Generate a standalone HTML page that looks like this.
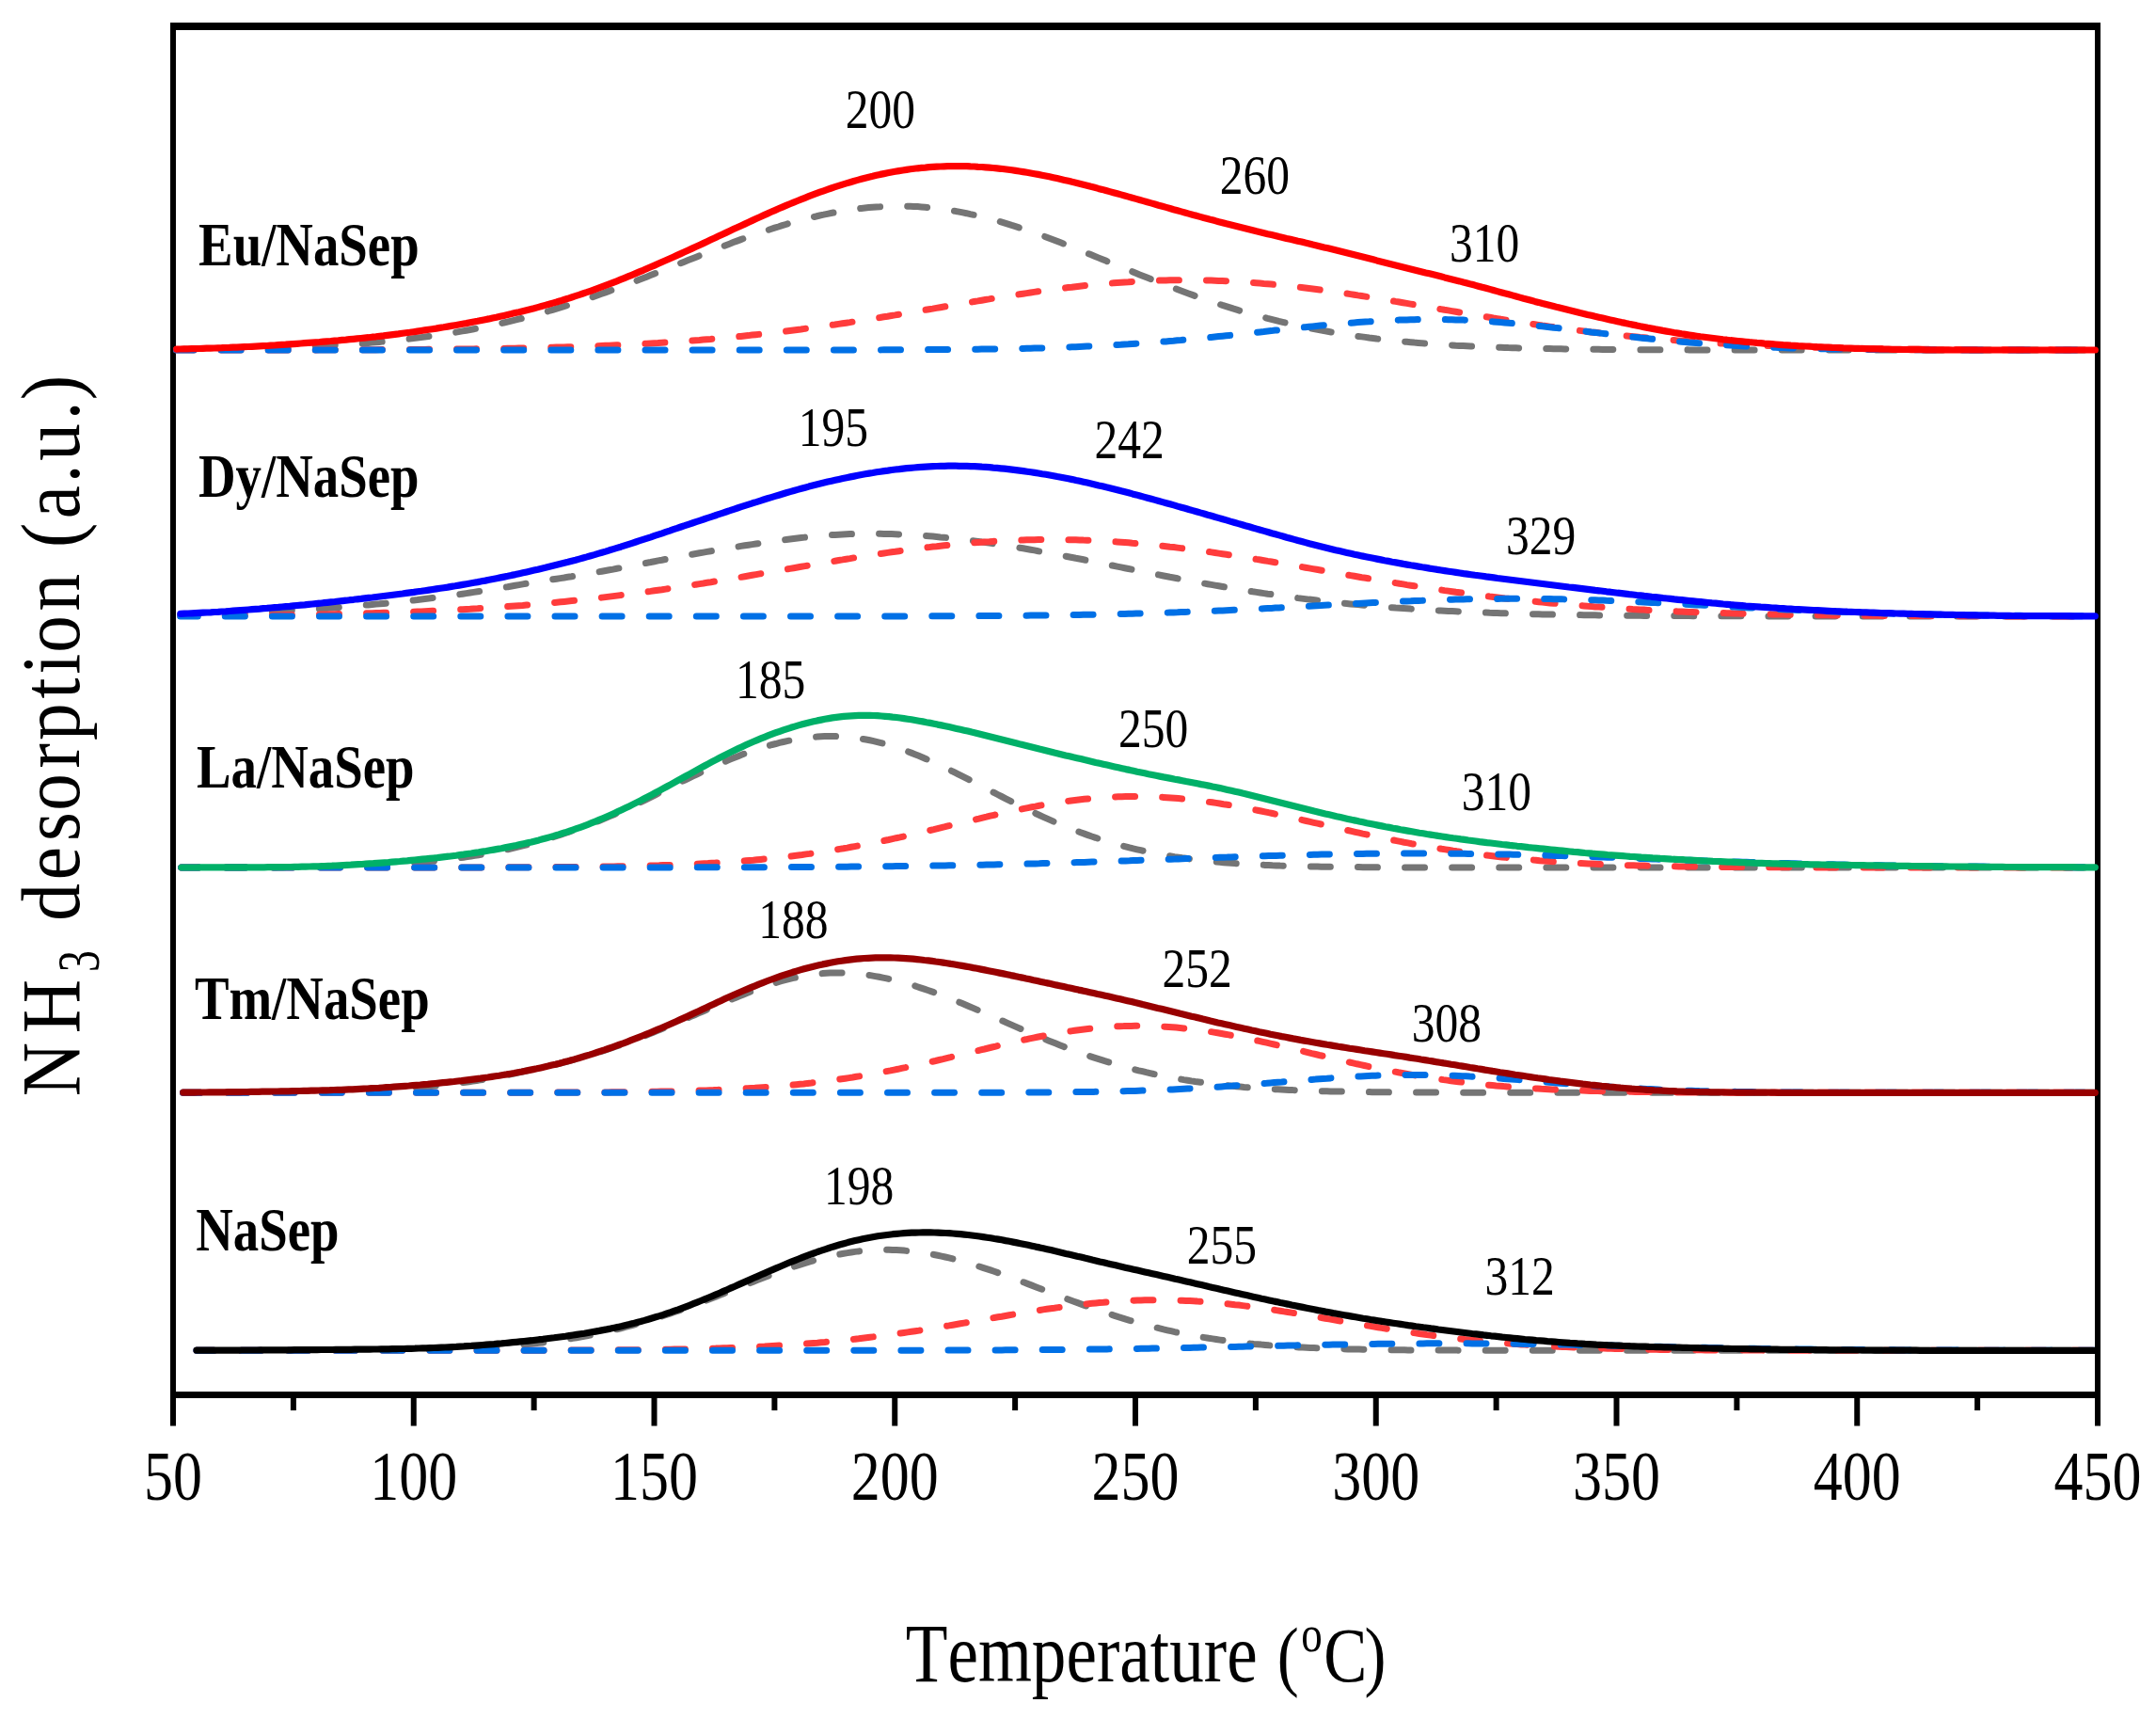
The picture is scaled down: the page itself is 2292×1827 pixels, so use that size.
<!DOCTYPE html>
<html><head><meta charset="utf-8"><title>NH3-TPD</title>
<style>html,body{margin:0;padding:0;background:#fff}svg{display:block}</style></head>
<body>
<svg width="2292" height="1827" viewBox="0 0 2292 1827">
<rect width="2292" height="1827" fill="#fff"/>
<g fill="#000">
<rect x="181" y="24" width="2052" height="8"/>
<rect x="181" y="1479" width="2052" height="7"/>
<rect x="181" y="24" width="6" height="1491.5"/>
<rect x="2227" y="24" width="6" height="1491.5"/>
<rect x="308.88" y="1482" width="6" height="17"/>
<rect x="436.75" y="1482" width="6" height="33.5"/>
<rect x="564.62" y="1482" width="6" height="17"/>
<rect x="692.50" y="1482" width="6" height="33.5"/>
<rect x="820.38" y="1482" width="6" height="17"/>
<rect x="948.25" y="1482" width="6" height="33.5"/>
<rect x="1076.12" y="1482" width="6" height="17"/>
<rect x="1204.00" y="1482" width="6" height="33.5"/>
<rect x="1331.88" y="1482" width="6" height="17"/>
<rect x="1459.75" y="1482" width="6" height="33.5"/>
<rect x="1587.62" y="1482" width="6" height="17"/>
<rect x="1715.50" y="1482" width="6" height="33.5"/>
<rect x="1843.38" y="1482" width="6" height="17"/>
<rect x="1971.25" y="1482" width="6" height="33.5"/>
<rect x="2099.12" y="1482" width="6" height="17"/>
</g>
<path d="M187.5 371.4 L191.5 371.4 L195.5 371.3 L199.5 371.3 L203.5 371.3 L207.5 371.2 L211.5 371.2 L215.5 371.1 L219.5 371.1 L223.5 371.0 L227.5 371.0 L231.5 370.9 L235.5 370.9 L239.5 370.8 L243.5 370.7 L247.5 370.7 L251.5 370.6 L255.5 370.5 L259.5 370.4 L263.5 370.3 L267.5 370.2 L271.5 370.2 L275.5 370.1 L279.5 370.0 L283.5 369.8 L287.5 369.7 L291.5 369.6 L295.5 369.5 L299.5 369.4 L303.5 369.2 L307.5 369.1 L311.5 368.9 L315.5 368.8 L319.5 368.6 L323.5 368.5 L327.5 368.3 L331.5 368.1 L335.5 367.9 L339.5 367.7 L343.5 367.5 L347.5 367.3 L351.5 367.1 L355.5 366.9 L359.5 366.6 L363.5 366.4 L367.5 366.1 L371.5 365.9 L375.5 365.6 L379.5 365.3 L383.5 365.0 L387.5 364.7 L391.5 364.4 L395.5 364.1 L399.5 363.7 L403.5 363.4 L407.5 363.0 L411.5 362.6 L415.5 362.2 L419.5 361.8 L423.5 361.4 L427.5 361.0 L431.5 360.5 L435.5 360.1 L439.5 359.6 L443.5 359.1 L447.5 358.6 L451.5 358.1 L455.5 357.5 L459.5 357.0 L463.5 356.4 L467.5 355.8 L471.5 355.2 L475.5 354.6 L479.5 353.9 L483.5 353.3 L487.5 352.6 L491.5 351.9 L495.5 351.2 L499.5 350.5 L503.5 349.7 L507.5 349.0 L511.5 348.2 L515.5 347.4 L519.5 346.5 L523.5 345.7 L527.5 344.8 L531.5 343.9 L535.5 343.0 L539.5 342.1 L543.5 341.1 L547.5 340.2 L551.5 339.2 L555.5 338.2 L559.5 337.1 L563.5 336.1 L567.5 335.0 L571.5 333.9 L575.5 332.8 L579.5 331.6 L583.5 330.5 L587.5 329.3 L591.5 328.1 L595.5 326.9 L599.5 325.7 L603.5 324.4 L607.5 323.1 L611.5 321.8 L615.5 320.5 L619.5 319.2 L623.5 317.8 L627.5 316.5 L631.5 315.1 L635.5 313.7 L639.5 312.3 L643.5 310.9 L647.5 309.4 L651.5 307.9 L655.5 306.5 L659.5 305.0 L663.5 303.5 L667.5 302.0 L671.5 300.4 L675.5 298.9 L679.5 297.3 L683.5 295.8 L687.5 294.2 L691.5 292.6 L695.5 291.0 L699.5 289.4 L703.5 287.9 L707.5 286.2 L711.5 284.6 L715.5 283.0 L719.5 281.4 L723.5 279.8 L727.5 278.2 L731.5 276.6 L735.5 275.0 L739.5 273.4 L743.5 271.8 L747.5 270.2 L751.5 268.6 L755.5 267.0 L759.5 265.4 L763.5 263.8 L767.5 262.3 L771.5 260.7 L775.5 259.2 L779.5 257.6 L783.5 256.1 L787.5 254.6 L791.5 253.2 L795.5 251.7 L799.5 250.3 L803.5 248.9 L807.5 247.5 L811.5 246.2 L815.5 244.8 L819.5 243.5 L823.5 242.2 L827.5 241.0 L831.5 239.7 L835.5 238.5 L839.5 237.3 L843.5 236.2 L847.5 235.1 L851.5 234.0 L855.5 232.9 L859.5 231.9 L863.5 230.9 L867.5 230.0 L871.5 229.0 L875.5 228.2 L879.5 227.3 L883.5 226.5 L887.5 225.7 L891.5 225.0 L895.5 224.3 L899.5 223.6 L903.5 223.0 L907.5 222.5 L911.5 221.9 L915.5 221.4 L919.5 221.0 L923.5 220.6 L927.5 220.2 L931.5 219.9 L935.5 219.7 L939.5 219.4 L943.5 219.3 L947.5 219.1 L951.5 219.0 L955.5 219.0 L959.5 219.0 L963.5 219.1 L967.5 219.2 L971.5 219.4 L975.5 219.6 L979.5 219.9 L983.5 220.2 L987.5 220.6 L991.5 221.0 L995.5 221.4 L999.5 222.0 L1003.5 222.5 L1007.5 223.1 L1011.5 223.7 L1015.5 224.4 L1019.5 225.1 L1023.5 225.9 L1027.5 226.7 L1031.5 227.6 L1035.5 228.4 L1039.5 229.4 L1043.5 230.3 L1047.5 231.3 L1051.5 232.4 L1055.5 233.5 L1059.5 234.6 L1063.5 235.7 L1067.5 236.9 L1071.5 238.1 L1075.5 239.4 L1079.5 240.6 L1083.5 241.9 L1087.5 243.3 L1091.5 244.6 L1095.5 246.0 L1099.5 247.4 L1103.5 248.8 L1107.5 250.3 L1111.5 251.7 L1115.5 253.2 L1119.5 254.7 L1123.5 256.3 L1127.5 257.8 L1131.5 259.4 L1135.5 260.9 L1139.5 262.5 L1143.5 264.1 L1147.5 265.7 L1151.5 267.3 L1155.5 269.0 L1159.5 270.6 L1163.5 272.2 L1167.5 273.9 L1171.5 275.5 L1175.5 277.1 L1179.5 278.8 L1183.5 280.4 L1187.5 282.1 L1191.5 283.7 L1195.5 285.4 L1199.5 287.0 L1203.5 288.6 L1207.5 290.3 L1211.5 291.9 L1215.5 293.5 L1219.5 295.1 L1223.5 296.7 L1227.5 298.3 L1231.5 299.9 L1235.5 301.4 L1239.5 303.0 L1243.5 304.5 L1247.5 306.0 L1251.5 307.5 L1255.5 309.0 L1259.5 310.5 L1263.5 312.0 L1267.5 313.4 L1271.5 314.9 L1275.5 316.3 L1279.5 317.7 L1283.5 319.0 L1287.5 320.4 L1291.5 321.7 L1295.5 323.1 L1299.5 324.4 L1303.5 325.6 L1307.5 326.9 L1311.5 328.2 L1315.5 329.4 L1319.5 330.6 L1323.5 331.7 L1327.5 332.9 L1331.5 334.0 L1335.5 335.2 L1339.5 336.2 L1343.5 337.3 L1347.5 338.4 L1351.5 339.4 L1355.5 340.4 L1359.5 341.4 L1363.5 342.3 L1367.5 343.3 L1371.5 344.2 L1375.5 345.1 L1379.5 346.0 L1383.5 346.8 L1387.5 347.7 L1391.5 348.5 L1395.5 349.3 L1399.5 350.1 L1403.5 350.8 L1407.5 351.6 L1411.5 352.3 L1415.5 353.0 L1419.5 353.7 L1423.5 354.3 L1427.5 355.0 L1431.5 355.6 L1435.5 356.2 L1439.5 356.8 L1443.5 357.4 L1447.5 357.9 L1451.5 358.4 L1455.5 359.0 L1459.5 359.5 L1463.5 360.0 L1467.5 360.4 L1471.5 360.9 L1475.5 361.3 L1479.5 361.8 L1483.5 362.2 L1487.5 362.6 L1491.5 363.0 L1495.5 363.3 L1499.5 363.7 L1503.5 364.1 L1507.5 364.4 L1511.5 364.7 L1515.5 365.0 L1519.5 365.3 L1523.5 365.6 L1527.5 365.9 L1531.5 366.2 L1535.5 366.4 L1539.5 366.7 L1543.5 366.9 L1547.5 367.2 L1551.5 367.4 L1555.5 367.6 L1559.5 367.8 L1563.5 368.0 L1567.5 368.2 L1571.5 368.4 L1575.5 368.5 L1579.5 368.7 L1583.5 368.9 L1587.5 369.0 L1591.5 369.2 L1595.5 369.3 L1599.5 369.4 L1603.5 369.6 L1607.5 369.7 L1611.5 369.8 L1615.5 369.9 L1619.5 370.0 L1623.5 370.1 L1627.5 370.2 L1631.5 370.3 L1635.5 370.4 L1639.5 370.5 L1643.5 370.6 L1647.5 370.6 L1651.5 370.7 L1655.5 370.8 L1659.5 370.8 L1663.5 370.9 L1667.5 371.0 L1671.5 371.0 L1675.5 371.1 L1679.5 371.1 L1683.5 371.2 L1687.5 371.2 L1691.5 371.3 L1695.5 371.3 L1699.5 371.3 L1703.5 371.4 L1707.5 371.4 L1711.5 371.4 L1715.5 371.5 L1719.5 371.5 L1723.5 371.5 L1727.5 371.6 L1731.5 371.6 L1735.5 371.6 L1739.5 371.6 L1743.5 371.7 L1747.5 371.7 L1751.5 371.7 L1755.5 371.7 L1759.5 371.7 L1763.5 371.8 L1767.5 371.8 L1771.5 371.8 L1775.5 371.8 L1779.5 371.8 L1783.5 371.8 L1787.5 371.8 L1791.5 371.8 L1795.5 371.9 L1799.5 371.9 L1803.5 371.9 L1807.5 371.9 L1811.5 371.9 L1815.5 371.9 L1819.5 371.9 L1823.5 371.9 L1827.5 371.9 L1831.5 371.9 L1835.5 371.9 L1839.5 371.9 L1843.5 371.9 L1847.5 371.9 L1851.5 371.9 L1855.5 371.9 L1859.5 372.0 L1863.5 372.0 L1867.5 372.0 L1871.5 372.0 L1875.5 372.0 L1879.5 372.0 L1883.5 372.0 L1887.5 372.0 L1891.5 372.0 L1895.5 372.0 L1899.5 372.0 L1903.5 372.0 L1907.5 372.0 L1911.5 372.0 L1915.5 372.0 L1919.5 372.0 L1923.5 372.0 L1927.5 372.0 L1931.5 372.0 L1935.5 372.0 L1939.5 372.0 L1943.5 372.0 L1947.5 372.0 L1951.5 372.0 L1955.5 372.0 L1959.5 372.0 L1963.5 372.0 L1967.5 372.0 L1971.5 372.0 L1975.5 372.0 L1979.5 372.0 L1983.5 372.0 L1987.5 372.0 L1991.5 372.0 L1995.5 372.0 L1999.5 372.0 L2003.5 372.0 L2007.5 372.0 L2011.5 372.0 L2015.5 372.0 L2019.5 372.0 L2023.5 372.0 L2027.5 372.0 L2031.5 372.0 L2035.5 372.0 L2039.5 372.0 L2043.5 372.0 L2047.5 372.0 L2051.5 372.0 L2055.5 372.0 L2059.5 372.0 L2063.5 372.0 L2067.5 372.0 L2071.5 372.0 L2075.5 372.0 L2079.5 372.0 L2083.5 372.0 L2087.5 372.0 L2091.5 372.0 L2095.5 372.0 L2099.5 372.0 L2103.5 372.0 L2107.5 372.0 L2111.5 372.0 L2115.5 372.0 L2119.5 372.0 L2123.5 372.0 L2127.5 372.0 L2131.5 372.0 L2135.5 372.0 L2139.5 372.0 L2143.5 372.0 L2147.5 372.0 L2151.5 372.0 L2155.5 372.0 L2159.5 372.0 L2163.5 372.0 L2167.5 372.0 L2171.5 372.0 L2175.5 372.0 L2179.5 372.0 L2183.5 372.0 L2187.5 372.0 L2191.5 372.0 L2195.5 372.0 L2199.5 372.0 L2203.5 372.0 L2207.5 372.0 L2211.5 372.0 L2215.5 372.0 L2219.5 372.0 L2223.5 372.0 L2226.0 372.0" fill="none" stroke="#757575" stroke-width="7.0" stroke-dasharray="21 29.1" stroke-dashoffset="2.5" stroke-linecap="round"/>
<path d="M187.5 372.0 L191.5 372.0 L195.5 372.0 L199.5 372.0 L203.5 372.0 L207.5 372.0 L211.5 372.0 L215.5 372.0 L219.5 372.0 L223.5 372.0 L227.5 372.0 L231.5 372.0 L235.5 372.0 L239.5 372.0 L243.5 372.0 L247.5 372.0 L251.5 372.0 L255.5 372.0 L259.5 371.9 L263.5 371.9 L267.5 371.9 L271.5 371.9 L275.5 371.9 L279.5 371.9 L283.5 371.9 L287.5 371.9 L291.5 371.9 L295.5 371.9 L299.5 371.9 L303.5 371.9 L307.5 371.9 L311.5 371.9 L315.5 371.9 L319.5 371.9 L323.5 371.9 L327.5 371.9 L331.5 371.9 L335.5 371.9 L339.5 371.8 L343.5 371.8 L347.5 371.8 L351.5 371.8 L355.5 371.8 L359.5 371.8 L363.5 371.8 L367.5 371.8 L371.5 371.8 L375.5 371.8 L379.5 371.7 L383.5 371.7 L387.5 371.7 L391.5 371.7 L395.5 371.7 L399.5 371.7 L403.5 371.6 L407.5 371.6 L411.5 371.6 L415.5 371.6 L419.5 371.6 L423.5 371.5 L427.5 371.5 L431.5 371.5 L435.5 371.5 L439.5 371.4 L443.5 371.4 L447.5 371.4 L451.5 371.4 L455.5 371.3 L459.5 371.3 L463.5 371.3 L467.5 371.2 L471.5 371.2 L475.5 371.2 L479.5 371.1 L483.5 371.1 L487.5 371.0 L491.5 371.0 L495.5 370.9 L499.5 370.9 L503.5 370.9 L507.5 370.8 L511.5 370.7 L515.5 370.7 L519.5 370.6 L523.5 370.6 L527.5 370.5 L531.5 370.4 L535.5 370.4 L539.5 370.3 L543.5 370.2 L547.5 370.2 L551.5 370.1 L555.5 370.0 L559.5 369.9 L563.5 369.8 L567.5 369.7 L571.5 369.6 L575.5 369.6 L579.5 369.5 L583.5 369.3 L587.5 369.2 L591.5 369.1 L595.5 369.0 L599.5 368.9 L603.5 368.8 L607.5 368.7 L611.5 368.5 L615.5 368.4 L619.5 368.3 L623.5 368.1 L627.5 368.0 L631.5 367.8 L635.5 367.7 L639.5 367.5 L643.5 367.3 L647.5 367.2 L651.5 367.0 L655.5 366.8 L659.5 366.6 L663.5 366.4 L667.5 366.2 L671.5 366.0 L675.5 365.8 L679.5 365.6 L683.5 365.4 L687.5 365.2 L691.5 364.9 L695.5 364.7 L699.5 364.5 L703.5 364.2 L707.5 364.0 L711.5 363.7 L715.5 363.4 L719.5 363.2 L723.5 362.9 L727.5 362.6 L731.5 362.3 L735.5 362.0 L739.5 361.7 L743.5 361.4 L747.5 361.0 L751.5 360.7 L755.5 360.4 L759.5 360.0 L763.5 359.7 L767.5 359.3 L771.5 358.9 L775.5 358.6 L779.5 358.2 L783.5 357.8 L787.5 357.4 L791.5 357.0 L795.5 356.6 L799.5 356.1 L803.5 355.7 L807.5 355.3 L811.5 354.8 L815.5 354.4 L819.5 353.9 L823.5 353.5 L827.5 353.0 L831.5 352.5 L835.5 352.0 L839.5 351.5 L843.5 351.0 L847.5 350.5 L851.5 350.0 L855.5 349.4 L859.5 348.9 L863.5 348.4 L867.5 347.8 L871.5 347.3 L875.5 346.7 L879.5 346.1 L883.5 345.5 L887.5 345.0 L891.5 344.4 L895.5 343.8 L899.5 343.2 L903.5 342.6 L907.5 341.9 L911.5 341.3 L915.5 340.7 L919.5 340.1 L923.5 339.4 L927.5 338.8 L931.5 338.1 L935.5 337.5 L939.5 336.8 L943.5 336.2 L947.5 335.5 L951.5 334.9 L955.5 334.2 L959.5 333.5 L963.5 332.8 L967.5 332.2 L971.5 331.5 L975.5 330.8 L979.5 330.1 L983.5 329.4 L987.5 328.7 L991.5 328.1 L995.5 327.4 L999.5 326.7 L1003.5 326.0 L1007.5 325.3 L1011.5 324.6 L1015.5 323.9 L1019.5 323.2 L1023.5 322.6 L1027.5 321.9 L1031.5 321.2 L1035.5 320.5 L1039.5 319.9 L1043.5 319.2 L1047.5 318.5 L1051.5 317.9 L1055.5 317.2 L1059.5 316.6 L1063.5 315.9 L1067.5 315.3 L1071.5 314.6 L1075.5 314.0 L1079.5 313.4 L1083.5 312.8 L1087.5 312.2 L1091.5 311.6 L1095.5 311.0 L1099.5 310.4 L1103.5 309.8 L1107.5 309.3 L1111.5 308.7 L1115.5 308.2 L1119.5 307.7 L1123.5 307.1 L1127.5 306.6 L1131.5 306.1 L1135.5 305.6 L1139.5 305.2 L1143.5 304.7 L1147.5 304.2 L1151.5 303.8 L1155.5 303.4 L1159.5 303.0 L1163.5 302.6 L1167.5 302.2 L1171.5 301.8 L1175.5 301.5 L1179.5 301.1 L1183.5 300.8 L1187.5 300.5 L1191.5 300.2 L1195.5 299.9 L1199.5 299.7 L1203.5 299.4 L1207.5 299.2 L1211.5 299.0 L1215.5 298.8 L1219.5 298.6 L1223.5 298.4 L1227.5 298.3 L1231.5 298.1 L1235.5 298.0 L1239.5 297.9 L1243.5 297.8 L1247.5 297.8 L1251.5 297.7 L1255.5 297.7 L1259.5 297.7 L1263.5 297.7 L1267.5 297.7 L1271.5 297.8 L1275.5 297.8 L1279.5 297.9 L1283.5 298.0 L1287.5 298.1 L1291.5 298.2 L1295.5 298.4 L1299.5 298.5 L1303.5 298.7 L1307.5 298.9 L1311.5 299.1 L1315.5 299.3 L1319.5 299.6 L1323.5 299.9 L1327.5 300.1 L1331.5 300.4 L1335.5 300.7 L1339.5 301.0 L1343.5 301.4 L1347.5 301.7 L1351.5 302.1 L1355.5 302.5 L1359.5 302.9 L1363.5 303.3 L1367.5 303.7 L1371.5 304.1 L1375.5 304.6 L1379.5 305.0 L1383.5 305.5 L1387.5 306.0 L1391.5 306.5 L1395.5 307.0 L1399.5 307.5 L1403.5 308.0 L1407.5 308.6 L1411.5 309.1 L1415.5 309.7 L1419.5 310.3 L1423.5 310.8 L1427.5 311.4 L1431.5 312.0 L1435.5 312.6 L1439.5 313.2 L1443.5 313.9 L1447.5 314.5 L1451.5 315.1 L1455.5 315.8 L1459.5 316.4 L1463.5 317.0 L1467.5 317.7 L1471.5 318.4 L1475.5 319.0 L1479.5 319.7 L1483.5 320.4 L1487.5 321.0 L1491.5 321.7 L1495.5 322.4 L1499.5 323.1 L1503.5 323.8 L1507.5 324.4 L1511.5 325.1 L1515.5 325.8 L1519.5 326.5 L1523.5 327.2 L1527.5 327.9 L1531.5 328.6 L1535.5 329.3 L1539.5 329.9 L1543.5 330.6 L1547.5 331.3 L1551.5 332.0 L1555.5 332.7 L1559.5 333.3 L1563.5 334.0 L1567.5 334.7 L1571.5 335.4 L1575.5 336.0 L1579.5 336.7 L1583.5 337.3 L1587.5 338.0 L1591.5 338.6 L1595.5 339.3 L1599.5 339.9 L1603.5 340.5 L1607.5 341.2 L1611.5 341.8 L1615.5 342.4 L1619.5 343.0 L1623.5 343.6 L1627.5 344.2 L1631.5 344.8 L1635.5 345.4 L1639.5 346.0 L1643.5 346.5 L1647.5 347.1 L1651.5 347.7 L1655.5 348.2 L1659.5 348.8 L1663.5 349.3 L1667.5 349.8 L1671.5 350.4 L1675.5 350.9 L1679.5 351.4 L1683.5 351.9 L1687.5 352.4 L1691.5 352.9 L1695.5 353.3 L1699.5 353.8 L1703.5 354.3 L1707.5 354.7 L1711.5 355.2 L1715.5 355.6 L1719.5 356.0 L1723.5 356.5 L1727.5 356.9 L1731.5 357.3 L1735.5 357.7 L1739.5 358.1 L1743.5 358.5 L1747.5 358.8 L1751.5 359.2 L1755.5 359.6 L1759.5 359.9 L1763.5 360.3 L1767.5 360.6 L1771.5 361.0 L1775.5 361.3 L1779.5 361.6 L1783.5 361.9 L1787.5 362.2 L1791.5 362.5 L1795.5 362.8 L1799.5 363.1 L1803.5 363.4 L1807.5 363.6 L1811.5 363.9 L1815.5 364.2 L1819.5 364.4 L1823.5 364.6 L1827.5 364.9 L1831.5 365.1 L1835.5 365.3 L1839.5 365.6 L1843.5 365.8 L1847.5 366.0 L1851.5 366.2 L1855.5 366.4 L1859.5 366.6 L1863.5 366.8 L1867.5 366.9 L1871.5 367.1 L1875.5 367.3 L1879.5 367.5 L1883.5 367.6 L1887.5 367.8 L1891.5 367.9 L1895.5 368.1 L1899.5 368.2 L1903.5 368.4 L1907.5 368.5 L1911.5 368.6 L1915.5 368.8 L1919.5 368.9 L1923.5 369.0 L1927.5 369.1 L1931.5 369.2 L1935.5 369.3 L1939.5 369.4 L1943.5 369.5 L1947.5 369.6 L1951.5 369.7 L1955.5 369.8 L1959.5 369.9 L1963.5 370.0 L1967.5 370.1 L1971.5 370.1 L1975.5 370.2 L1979.5 370.3 L1983.5 370.4 L1987.5 370.4 L1991.5 370.5 L1995.5 370.6 L1999.5 370.6 L2003.5 370.7 L2007.5 370.7 L2011.5 370.8 L2015.5 370.8 L2019.5 370.9 L2023.5 370.9 L2027.5 371.0 L2031.5 371.0 L2035.5 371.1 L2039.5 371.1 L2043.5 371.2 L2047.5 371.2 L2051.5 371.2 L2055.5 371.3 L2059.5 371.3 L2063.5 371.3 L2067.5 371.4 L2071.5 371.4 L2075.5 371.4 L2079.5 371.4 L2083.5 371.5 L2087.5 371.5 L2091.5 371.5 L2095.5 371.5 L2099.5 371.6 L2103.5 371.6 L2107.5 371.6 L2111.5 371.6 L2115.5 371.6 L2119.5 371.7 L2123.5 371.7 L2127.5 371.7 L2131.5 371.7 L2135.5 371.7 L2139.5 371.7 L2143.5 371.7 L2147.5 371.8 L2151.5 371.8 L2155.5 371.8 L2159.5 371.8 L2163.5 371.8 L2167.5 371.8 L2171.5 371.8 L2175.5 371.8 L2179.5 371.8 L2183.5 371.9 L2187.5 371.9 L2191.5 371.9 L2195.5 371.9 L2199.5 371.9 L2203.5 371.9 L2207.5 371.9 L2211.5 371.9 L2215.5 371.9 L2219.5 371.9 L2223.5 371.9 L2226.0 371.9" fill="none" stroke="#ff3c3c" stroke-width="7.0" stroke-dasharray="21 29.1" stroke-dashoffset="2.5" stroke-linecap="round"/>
<path d="M187.5 372.0 L191.5 372.0 L195.5 372.0 L199.5 372.0 L203.5 372.0 L207.5 372.0 L211.5 372.0 L215.5 372.0 L219.5 372.0 L223.5 372.0 L227.5 372.0 L231.5 372.0 L235.5 372.0 L239.5 372.0 L243.5 372.0 L247.5 372.0 L251.5 372.0 L255.5 372.0 L259.5 372.0 L263.5 372.0 L267.5 372.0 L271.5 372.0 L275.5 372.0 L279.5 372.0 L283.5 372.0 L287.5 372.0 L291.5 372.0 L295.5 372.0 L299.5 372.0 L303.5 372.0 L307.5 372.0 L311.5 372.0 L315.5 372.0 L319.5 372.0 L323.5 372.0 L327.5 372.0 L331.5 372.0 L335.5 372.0 L339.5 372.0 L343.5 372.0 L347.5 372.0 L351.5 372.0 L355.5 372.0 L359.5 372.0 L363.5 372.0 L367.5 372.0 L371.5 372.0 L375.5 372.0 L379.5 372.0 L383.5 372.0 L387.5 372.0 L391.5 372.0 L395.5 372.0 L399.5 372.0 L403.5 372.0 L407.5 372.0 L411.5 372.0 L415.5 372.0 L419.5 372.0 L423.5 372.0 L427.5 372.0 L431.5 372.0 L435.5 372.0 L439.5 372.0 L443.5 372.0 L447.5 372.0 L451.5 372.0 L455.5 372.0 L459.5 372.0 L463.5 372.0 L467.5 372.0 L471.5 372.0 L475.5 372.0 L479.5 372.0 L483.5 372.0 L487.5 372.0 L491.5 372.0 L495.5 372.0 L499.5 372.0 L503.5 372.0 L507.5 372.0 L511.5 372.0 L515.5 372.0 L519.5 372.0 L523.5 372.0 L527.5 372.0 L531.5 372.0 L535.5 372.0 L539.5 372.0 L543.5 372.0 L547.5 372.0 L551.5 372.0 L555.5 372.0 L559.5 372.0 L563.5 372.0 L567.5 372.0 L571.5 372.0 L575.5 372.0 L579.5 372.0 L583.5 372.0 L587.5 372.0 L591.5 372.0 L595.5 372.0 L599.5 372.0 L603.5 372.0 L607.5 372.0 L611.5 372.0 L615.5 372.0 L619.5 372.0 L623.5 372.0 L627.5 372.0 L631.5 372.0 L635.5 372.0 L639.5 372.0 L643.5 372.0 L647.5 372.0 L651.5 372.0 L655.5 372.0 L659.5 372.0 L663.5 372.0 L667.5 372.0 L671.5 372.0 L675.5 372.0 L679.5 372.0 L683.5 372.0 L687.5 372.0 L691.5 372.0 L695.5 372.0 L699.5 372.0 L703.5 372.0 L707.5 372.0 L711.5 372.0 L715.5 372.0 L719.5 372.0 L723.5 372.0 L727.5 372.0 L731.5 372.0 L735.5 372.0 L739.5 372.0 L743.5 372.0 L747.5 372.0 L751.5 372.0 L755.5 372.0 L759.5 372.0 L763.5 372.0 L767.5 372.0 L771.5 372.0 L775.5 372.0 L779.5 372.0 L783.5 372.0 L787.5 372.0 L791.5 372.0 L795.5 372.0 L799.5 372.0 L803.5 372.0 L807.5 372.0 L811.5 372.0 L815.5 372.0 L819.5 372.0 L823.5 372.0 L827.5 372.0 L831.5 372.0 L835.5 372.0 L839.5 372.0 L843.5 372.0 L847.5 372.0 L851.5 372.0 L855.5 372.0 L859.5 372.0 L863.5 372.0 L867.5 372.0 L871.5 372.0 L875.5 372.0 L879.5 372.0 L883.5 371.9 L887.5 371.9 L891.5 371.9 L895.5 371.9 L899.5 371.9 L903.5 371.9 L907.5 371.9 L911.5 371.9 L915.5 371.9 L919.5 371.9 L923.5 371.9 L927.5 371.9 L931.5 371.9 L935.5 371.9 L939.5 371.8 L943.5 371.8 L947.5 371.8 L951.5 371.8 L955.5 371.8 L959.5 371.8 L963.5 371.8 L967.5 371.8 L971.5 371.7 L975.5 371.7 L979.5 371.7 L983.5 371.7 L987.5 371.6 L991.5 371.6 L995.5 371.6 L999.5 371.6 L1003.5 371.5 L1007.5 371.5 L1011.5 371.5 L1015.5 371.4 L1019.5 371.4 L1023.5 371.4 L1027.5 371.3 L1031.5 371.3 L1035.5 371.2 L1039.5 371.2 L1043.5 371.1 L1047.5 371.1 L1051.5 371.0 L1055.5 371.0 L1059.5 370.9 L1063.5 370.8 L1067.5 370.8 L1071.5 370.7 L1075.5 370.6 L1079.5 370.5 L1083.5 370.5 L1087.5 370.4 L1091.5 370.3 L1095.5 370.2 L1099.5 370.1 L1103.5 370.0 L1107.5 369.9 L1111.5 369.8 L1115.5 369.6 L1119.5 369.5 L1123.5 369.4 L1127.5 369.2 L1131.5 369.1 L1135.5 369.0 L1139.5 368.8 L1143.5 368.7 L1147.5 368.5 L1151.5 368.3 L1155.5 368.1 L1159.5 368.0 L1163.5 367.8 L1167.5 367.6 L1171.5 367.4 L1175.5 367.2 L1179.5 367.0 L1183.5 366.7 L1187.5 366.5 L1191.5 366.3 L1195.5 366.0 L1199.5 365.8 L1203.5 365.5 L1207.5 365.2 L1211.5 365.0 L1215.5 364.7 L1219.5 364.4 L1223.5 364.1 L1227.5 363.8 L1231.5 363.5 L1235.5 363.2 L1239.5 362.9 L1243.5 362.5 L1247.5 362.2 L1251.5 361.8 L1255.5 361.5 L1259.5 361.1 L1263.5 360.8 L1267.5 360.4 L1271.5 360.0 L1275.5 359.6 L1279.5 359.2 L1283.5 358.9 L1287.5 358.5 L1291.5 358.0 L1295.5 357.6 L1299.5 357.2 L1303.5 356.8 L1307.5 356.4 L1311.5 356.0 L1315.5 355.5 L1319.5 355.1 L1323.5 354.7 L1327.5 354.2 L1331.5 353.8 L1335.5 353.3 L1339.5 352.9 L1343.5 352.5 L1347.5 352.0 L1351.5 351.6 L1355.5 351.1 L1359.5 350.7 L1363.5 350.2 L1367.5 349.8 L1371.5 349.4 L1375.5 348.9 L1379.5 348.5 L1383.5 348.1 L1387.5 347.7 L1391.5 347.3 L1395.5 346.9 L1399.5 346.5 L1403.5 346.1 L1407.5 345.7 L1411.5 345.3 L1415.5 344.9 L1419.5 344.6 L1423.5 344.2 L1427.5 343.9 L1431.5 343.5 L1435.5 343.2 L1439.5 342.9 L1443.5 342.6 L1447.5 342.3 L1451.5 342.0 L1455.5 341.8 L1459.5 341.5 L1463.5 341.3 L1467.5 341.0 L1471.5 340.8 L1475.5 340.6 L1479.5 340.5 L1483.5 340.3 L1487.5 340.1 L1491.5 340.0 L1495.5 339.9 L1499.5 339.8 L1503.5 339.7 L1507.5 339.6 L1511.5 339.6 L1515.5 339.5 L1519.5 339.5 L1523.5 339.5 L1527.5 339.5 L1531.5 339.5 L1535.5 339.6 L1539.5 339.7 L1543.5 339.8 L1547.5 339.9 L1551.5 340.0 L1555.5 340.1 L1559.5 340.3 L1563.5 340.5 L1567.5 340.7 L1571.5 340.9 L1575.5 341.1 L1579.5 341.4 L1583.5 341.7 L1587.5 341.9 L1591.5 342.2 L1595.5 342.6 L1599.5 342.9 L1603.5 343.2 L1607.5 343.6 L1611.5 344.0 L1615.5 344.3 L1619.5 344.7 L1623.5 345.1 L1627.5 345.5 L1631.5 346.0 L1635.5 346.4 L1639.5 346.8 L1643.5 347.3 L1647.5 347.7 L1651.5 348.2 L1655.5 348.6 L1659.5 349.1 L1663.5 349.6 L1667.5 350.1 L1671.5 350.5 L1675.5 351.0 L1679.5 351.5 L1683.5 352.0 L1687.5 352.5 L1691.5 353.0 L1695.5 353.4 L1699.5 353.9 L1703.5 354.4 L1707.5 354.9 L1711.5 355.3 L1715.5 355.8 L1719.5 356.3 L1723.5 356.7 L1727.5 357.2 L1731.5 357.7 L1735.5 358.1 L1739.5 358.5 L1743.5 359.0 L1747.5 359.4 L1751.5 359.8 L1755.5 360.2 L1759.5 360.7 L1763.5 361.1 L1767.5 361.4 L1771.5 361.8 L1775.5 362.2 L1779.5 362.6 L1783.5 362.9 L1787.5 363.3 L1791.5 363.6 L1795.5 364.0 L1799.5 364.3 L1803.5 364.6 L1807.5 364.9 L1811.5 365.2 L1815.5 365.5 L1819.5 365.8 L1823.5 366.1 L1827.5 366.3 L1831.5 366.6 L1835.5 366.8 L1839.5 367.1 L1843.5 367.3 L1847.5 367.5 L1851.5 367.7 L1855.5 367.9 L1859.5 368.1 L1863.5 368.3 L1867.5 368.5 L1871.5 368.7 L1875.5 368.9 L1879.5 369.0 L1883.5 369.2 L1887.5 369.3 L1891.5 369.5 L1895.5 369.6 L1899.5 369.7 L1903.5 369.9 L1907.5 370.0 L1911.5 370.1 L1915.5 370.2 L1919.5 370.3 L1923.5 370.4 L1927.5 370.5 L1931.5 370.6 L1935.5 370.7 L1939.5 370.8 L1943.5 370.8 L1947.5 370.9 L1951.5 371.0 L1955.5 371.0 L1959.5 371.1 L1963.5 371.2 L1967.5 371.2 L1971.5 371.3 L1975.5 371.3 L1979.5 371.4 L1983.5 371.4 L1987.5 371.4 L1991.5 371.5 L1995.5 371.5 L1999.5 371.5 L2003.5 371.6 L2007.5 371.6 L2011.5 371.6 L2015.5 371.7 L2019.5 371.7 L2023.5 371.7 L2027.5 371.7 L2031.5 371.7 L2035.5 371.8 L2039.5 371.8 L2043.5 371.8 L2047.5 371.8 L2051.5 371.8 L2055.5 371.8 L2059.5 371.9 L2063.5 371.9 L2067.5 371.9 L2071.5 371.9 L2075.5 371.9 L2079.5 371.9 L2083.5 371.9 L2087.5 371.9 L2091.5 371.9 L2095.5 371.9 L2099.5 371.9 L2103.5 371.9 L2107.5 371.9 L2111.5 372.0 L2115.5 372.0 L2119.5 372.0 L2123.5 372.0 L2127.5 372.0 L2131.5 372.0 L2135.5 372.0 L2139.5 372.0 L2143.5 372.0 L2147.5 372.0 L2151.5 372.0 L2155.5 372.0 L2159.5 372.0 L2163.5 372.0 L2167.5 372.0 L2171.5 372.0 L2175.5 372.0 L2179.5 372.0 L2183.5 372.0 L2187.5 372.0 L2191.5 372.0 L2195.5 372.0 L2199.5 372.0 L2203.5 372.0 L2207.5 372.0 L2211.5 372.0 L2215.5 372.0 L2219.5 372.0 L2223.5 372.0 L2226.0 372.0" fill="none" stroke="#0070e6" stroke-width="7.0" stroke-dasharray="21 29.1" stroke-dashoffset="2.5" stroke-linecap="round"/>
<path d="M187.7 371.1 L191.7 371.0 L195.7 370.9 L199.7 370.8 L203.7 370.7 L207.7 370.6 L211.7 370.5 L215.7 370.3 L219.7 370.2 L223.7 370.1 L227.7 370.0 L231.7 369.8 L235.7 369.7 L239.7 369.5 L243.7 369.4 L247.7 369.2 L251.7 369.1 L255.7 368.9 L259.7 368.7 L263.7 368.5 L267.7 368.3 L271.7 368.1 L275.7 367.9 L279.7 367.7 L283.7 367.5 L287.7 367.2 L291.7 367.0 L295.7 366.7 L299.7 366.4 L303.7 366.2 L307.7 365.9 L311.7 365.6 L315.7 365.3 L319.7 365.0 L323.7 364.7 L327.7 364.4 L331.7 364.1 L335.7 363.8 L339.7 363.5 L343.7 363.1 L347.7 362.8 L351.7 362.5 L355.7 362.1 L359.7 361.8 L363.7 361.4 L367.7 361.1 L371.7 360.7 L375.7 360.3 L379.7 359.9 L383.7 359.5 L387.7 359.1 L391.7 358.7 L395.7 358.2 L399.7 357.8 L403.7 357.3 L407.7 356.9 L411.7 356.4 L415.7 355.9 L419.7 355.4 L423.7 354.9 L427.7 354.3 L431.7 353.8 L435.7 353.3 L439.7 352.7 L443.7 352.1 L447.7 351.5 L451.7 350.9 L455.7 350.3 L459.7 349.7 L463.7 349.1 L467.7 348.4 L471.7 347.8 L475.7 347.1 L479.7 346.4 L483.7 345.7 L487.7 345.0 L491.7 344.3 L495.7 343.6 L499.7 342.8 L503.7 342.0 L507.7 341.3 L511.7 340.5 L515.7 339.7 L519.7 338.9 L523.7 338.0 L527.7 337.2 L531.7 336.3 L535.7 335.4 L539.7 334.5 L543.7 333.6 L547.7 332.6 L551.7 331.7 L555.7 330.7 L559.7 329.7 L563.7 328.7 L567.7 327.7 L571.7 326.6 L575.7 325.5 L579.7 324.4 L583.7 323.3 L587.7 322.1 L591.7 321.0 L595.7 319.8 L599.7 318.5 L603.7 317.3 L607.7 316.0 L611.7 314.7 L615.7 313.4 L619.7 312.0 L623.7 310.7 L627.7 309.3 L631.7 307.8 L635.7 306.4 L639.7 304.9 L643.7 303.4 L647.7 301.9 L651.7 300.3 L655.7 298.8 L659.7 297.2 L663.7 295.6 L667.7 293.9 L671.7 292.3 L675.7 290.6 L679.7 288.9 L683.7 287.3 L687.7 285.5 L691.7 283.8 L695.7 282.1 L699.7 280.3 L703.7 278.5 L707.7 276.8 L711.7 275.0 L715.7 273.2 L719.7 271.4 L723.7 269.6 L727.7 267.8 L731.7 265.9 L735.7 264.1 L739.7 262.3 L743.7 260.4 L747.7 258.6 L751.7 256.7 L755.7 254.8 L759.7 253.0 L763.7 251.1 L767.7 249.2 L771.7 247.4 L775.7 245.5 L779.7 243.6 L783.7 241.8 L787.7 239.9 L791.7 238.1 L795.7 236.2 L799.7 234.4 L803.7 232.5 L807.7 230.7 L811.7 228.9 L815.7 227.1 L819.7 225.3 L823.7 223.6 L827.7 221.8 L831.7 220.1 L835.7 218.4 L839.7 216.7 L843.7 215.1 L847.7 213.5 L851.7 211.9 L855.7 210.3 L859.7 208.7 L863.7 207.2 L867.7 205.7 L871.7 204.2 L875.7 202.8 L879.7 201.4 L883.7 200.0 L887.7 198.7 L891.7 197.4 L895.7 196.1 L899.7 194.9 L903.7 193.7 L907.7 192.5 L911.7 191.4 L915.7 190.3 L919.7 189.2 L923.7 188.2 L927.7 187.3 L931.7 186.3 L935.7 185.4 L939.7 184.6 L943.7 183.8 L947.7 183.0 L951.7 182.3 L955.7 181.6 L959.7 181.0 L963.7 180.4 L967.7 179.8 L971.7 179.3 L975.7 178.8 L979.7 178.4 L983.7 178.1 L987.7 177.7 L991.7 177.4 L995.7 177.2 L999.7 177.0 L1003.7 176.8 L1007.7 176.7 L1011.7 176.6 L1015.7 176.6 L1019.7 176.6 L1023.7 176.7 L1027.7 176.7 L1031.7 176.9 L1035.7 177.0 L1039.7 177.3 L1043.7 177.5 L1047.7 177.8 L1051.7 178.1 L1055.7 178.5 L1059.7 178.9 L1063.7 179.3 L1067.7 179.8 L1071.7 180.3 L1075.7 180.8 L1079.7 181.4 L1083.7 182.0 L1087.7 182.6 L1091.7 183.3 L1095.7 184.0 L1099.7 184.7 L1103.7 185.4 L1107.7 186.2 L1111.7 187.0 L1115.7 187.8 L1119.7 188.7 L1123.7 189.6 L1127.7 190.5 L1131.7 191.4 L1135.7 192.3 L1139.7 193.3 L1143.7 194.2 L1147.7 195.2 L1151.7 196.2 L1155.7 197.2 L1159.7 198.3 L1163.7 199.3 L1167.7 200.4 L1171.7 201.4 L1175.7 202.5 L1179.7 203.6 L1183.7 204.7 L1187.7 205.8 L1191.7 206.9 L1195.7 208.0 L1199.7 209.1 L1203.7 210.3 L1207.7 211.4 L1211.7 212.5 L1215.7 213.6 L1219.7 214.8 L1223.7 215.9 L1227.7 217.0 L1231.7 218.2 L1235.7 219.3 L1239.7 220.4 L1243.7 221.5 L1247.7 222.7 L1251.7 223.8 L1255.7 224.9 L1259.7 226.0 L1263.7 227.1 L1267.7 228.2 L1271.7 229.3 L1275.7 230.4 L1279.7 231.5 L1283.7 232.5 L1287.7 233.6 L1291.7 234.6 L1295.7 235.7 L1299.7 236.7 L1303.7 237.8 L1307.7 238.8 L1311.7 239.8 L1315.7 240.8 L1319.7 241.8 L1323.7 242.8 L1327.7 243.8 L1331.7 244.8 L1335.7 245.8 L1339.7 246.7 L1343.7 247.7 L1347.7 248.7 L1351.7 249.6 L1355.7 250.5 L1359.7 251.5 L1363.7 252.4 L1367.7 253.4 L1371.7 254.3 L1375.7 255.2 L1379.7 256.2 L1383.7 257.1 L1387.7 258.1 L1391.7 259.0 L1395.7 260.0 L1399.7 260.9 L1403.7 261.9 L1407.7 262.9 L1411.7 263.8 L1415.7 264.8 L1419.7 265.8 L1423.7 266.8 L1427.7 267.8 L1431.7 268.8 L1435.7 269.8 L1439.7 270.8 L1443.7 271.8 L1447.7 272.8 L1451.7 273.8 L1455.7 274.8 L1459.7 275.8 L1463.7 276.9 L1467.7 277.9 L1471.7 278.9 L1475.7 279.9 L1479.7 280.9 L1483.7 281.9 L1487.7 282.9 L1491.7 283.9 L1495.7 284.9 L1499.7 285.9 L1503.7 286.9 L1507.7 287.9 L1511.7 288.9 L1515.7 289.9 L1519.7 290.8 L1523.7 291.8 L1527.7 292.8 L1531.7 293.8 L1535.7 294.9 L1539.7 295.9 L1543.7 296.9 L1547.7 297.9 L1551.7 298.9 L1555.7 300.0 L1559.7 301.0 L1563.7 302.1 L1567.7 303.1 L1571.7 304.2 L1575.7 305.3 L1579.7 306.3 L1583.7 307.4 L1587.7 308.5 L1591.7 309.6 L1595.7 310.7 L1599.7 311.8 L1603.7 312.8 L1607.7 313.9 L1611.7 315.0 L1615.7 316.1 L1619.7 317.2 L1623.7 318.2 L1627.7 319.3 L1631.7 320.4 L1635.7 321.4 L1639.7 322.5 L1643.7 323.5 L1647.7 324.5 L1651.7 325.5 L1655.7 326.6 L1659.7 327.6 L1663.7 328.6 L1667.7 329.6 L1671.7 330.5 L1675.7 331.5 L1679.7 332.5 L1683.7 333.4 L1687.7 334.4 L1691.7 335.3 L1695.7 336.3 L1699.7 337.2 L1703.7 338.1 L1707.7 339.0 L1711.7 339.9 L1715.7 340.8 L1719.7 341.7 L1723.7 342.6 L1727.7 343.4 L1731.7 344.3 L1735.7 345.1 L1739.7 345.9 L1743.7 346.8 L1747.7 347.6 L1751.7 348.4 L1755.7 349.1 L1759.7 349.9 L1763.7 350.6 L1767.7 351.4 L1771.7 352.1 L1775.7 352.8 L1779.7 353.5 L1783.7 354.1 L1787.7 354.8 L1791.7 355.4 L1795.7 356.0 L1799.7 356.6 L1803.7 357.2 L1807.7 357.8 L1811.7 358.3 L1815.7 358.8 L1819.7 359.3 L1823.7 359.8 L1827.7 360.3 L1831.7 360.8 L1835.7 361.2 L1839.7 361.7 L1843.7 362.1 L1847.7 362.5 L1851.7 362.9 L1855.7 363.3 L1859.7 363.7 L1863.7 364.0 L1867.7 364.4 L1871.7 364.7 L1875.7 365.1 L1879.7 365.4 L1883.7 365.7 L1887.7 366.0 L1891.7 366.3 L1895.7 366.6 L1899.7 366.8 L1903.7 367.1 L1907.7 367.3 L1911.7 367.6 L1915.7 367.8 L1919.7 368.0 L1923.7 368.2 L1927.7 368.5 L1931.7 368.7 L1935.7 368.8 L1939.7 369.0 L1943.7 369.2 L1947.7 369.4 L1951.7 369.5 L1955.7 369.7 L1959.7 369.9 L1963.7 370.0 L1967.7 370.1 L1971.7 370.3 L1975.7 370.4 L1979.7 370.5 L1983.7 370.6 L1987.7 370.8 L1991.7 370.9 L1995.7 371.0 L1999.7 371.1 L2003.7 371.1 L2007.7 371.2 L2011.7 371.3 L2015.7 371.4 L2019.7 371.4 L2023.7 371.5 L2027.7 371.5 L2031.7 371.6 L2035.7 371.6 L2039.7 371.7 L2043.7 371.7 L2047.7 371.8 L2051.7 371.8 L2055.7 371.8 L2059.7 371.9 L2063.7 371.9 L2067.7 371.9 L2071.7 371.9 L2075.7 372.0 L2079.7 372.0 L2083.7 372.0 L2087.7 372.0 L2091.7 372.0 L2095.7 372.0 L2099.7 372.0 L2103.7 372.0 L2107.7 372.0 L2111.7 372.0 L2115.7 372.0 L2119.7 372.0 L2123.7 372.0 L2127.7 372.0 L2131.7 372.0 L2135.7 372.0 L2139.7 372.0 L2143.7 372.0 L2147.7 372.0 L2151.7 372.0 L2155.7 372.0 L2159.7 372.0 L2163.7 372.0 L2167.7 372.0 L2171.7 372.0 L2175.7 372.0 L2179.7 372.0 L2183.7 372.0 L2187.7 372.0 L2191.7 372.0 L2195.7 372.0 L2199.7 372.0 L2203.7 372.0 L2207.7 372.0 L2211.7 372.0 L2215.7 372.0 L2219.7 372.0 L2223.7 372.0 L2227.3 372.0" fill="none" stroke="#ff0000" stroke-width="7.2" stroke-linejoin="round" stroke-linecap="round"/>
<path d="M191.7 652.9 L195.7 652.9 L199.7 652.8 L203.7 652.7 L207.7 652.6 L211.7 652.5 L215.7 652.4 L219.7 652.3 L223.7 652.2 L227.7 652.0 L231.7 651.9 L235.7 651.8 L239.7 651.7 L243.7 651.5 L247.7 651.4 L251.7 651.3 L255.7 651.1 L259.7 651.0 L263.7 650.8 L267.7 650.7 L271.7 650.5 L275.7 650.4 L279.7 650.2 L283.7 650.0 L287.7 649.8 L291.7 649.6 L295.7 649.4 L299.7 649.2 L303.7 649.0 L307.7 648.8 L311.7 648.6 L315.7 648.4 L319.7 648.2 L323.7 647.9 L327.7 647.7 L331.7 647.4 L335.7 647.2 L339.7 646.9 L343.7 646.7 L347.7 646.4 L351.7 646.1 L355.7 645.8 L359.7 645.5 L363.7 645.2 L367.7 644.9 L371.7 644.6 L375.7 644.3 L379.7 643.9 L383.7 643.6 L387.7 643.2 L391.7 642.9 L395.7 642.5 L399.7 642.1 L403.7 641.8 L407.7 641.4 L411.7 641.0 L415.7 640.6 L419.7 640.1 L423.7 639.7 L427.7 639.3 L431.7 638.8 L435.7 638.4 L439.7 637.9 L443.7 637.5 L447.7 637.0 L451.7 636.5 L455.7 636.0 L459.7 635.5 L463.7 635.0 L467.7 634.5 L471.7 634.0 L475.7 633.4 L479.7 632.9 L483.7 632.3 L487.7 631.8 L491.7 631.2 L495.7 630.6 L499.7 630.0 L503.7 629.4 L507.7 628.8 L511.7 628.2 L515.7 627.6 L519.7 626.9 L523.7 626.3 L527.7 625.7 L531.7 625.0 L535.7 624.3 L539.7 623.7 L543.7 623.0 L547.7 622.3 L551.7 621.6 L555.7 620.9 L559.7 620.2 L563.7 619.5 L567.7 618.8 L571.7 618.2 L575.7 617.6 L579.7 617.0 L583.7 616.4 L587.7 615.8 L591.7 615.2 L595.7 614.6 L599.7 614.0 L603.7 613.3 L607.7 612.7 L611.7 612.0 L615.7 611.4 L619.7 610.7 L623.7 610.0 L627.7 609.3 L631.7 608.6 L635.7 607.9 L639.7 607.2 L643.7 606.5 L647.7 605.8 L651.7 605.1 L655.7 604.3 L659.7 603.6 L663.7 602.8 L667.7 602.1 L671.7 601.3 L675.7 600.5 L679.7 599.8 L683.7 599.0 L687.7 598.2 L691.7 597.5 L695.7 596.7 L699.7 595.9 L703.7 595.2 L707.7 594.4 L711.7 593.6 L715.7 592.9 L719.7 592.1 L723.7 591.4 L727.7 590.7 L731.7 589.9 L735.7 589.2 L739.7 588.5 L743.7 587.8 L747.7 587.1 L751.7 586.4 L755.7 585.7 L759.7 585.0 L763.7 584.3 L767.7 583.7 L771.7 583.0 L775.7 582.3 L779.7 581.7 L783.7 581.1 L787.7 580.4 L791.7 579.8 L795.7 579.2 L799.7 578.6 L803.7 578.0 L807.7 577.4 L811.7 576.9 L815.7 576.3 L819.7 575.8 L823.7 575.2 L827.7 574.6 L831.7 574.1 L835.7 573.5 L839.7 573.0 L843.7 572.5 L847.7 572.0 L851.7 571.5 L855.7 571.1 L859.7 570.7 L863.7 570.3 L867.7 569.9 L871.7 569.5 L875.7 569.2 L879.7 568.9 L883.7 568.6 L887.7 568.4 L891.7 568.2 L895.7 568.0 L899.7 567.8 L903.7 567.6 L907.7 567.5 L911.7 567.4 L915.7 567.3 L919.7 567.2 L923.7 567.2 L927.7 567.2 L931.7 567.2 L935.7 567.3 L939.7 567.4 L943.7 567.5 L947.7 567.6 L951.7 567.7 L955.7 567.9 L959.7 568.1 L963.7 568.2 L967.7 568.5 L971.7 568.7 L975.7 568.9 L979.7 569.2 L983.7 569.5 L987.7 569.8 L991.7 570.1 L995.7 570.5 L999.7 570.9 L1003.7 571.2 L1007.7 571.6 L1011.7 572.1 L1015.7 572.5 L1019.7 572.9 L1023.7 573.4 L1027.7 573.9 L1031.7 574.4 L1035.7 574.9 L1039.7 575.4 L1043.7 576.0 L1047.7 576.5 L1051.7 577.1 L1055.7 577.7 L1059.7 578.3 L1063.7 578.9 L1067.7 579.5 L1071.7 580.2 L1075.7 580.8 L1079.7 581.5 L1083.7 582.2 L1087.7 582.8 L1091.7 583.5 L1095.7 584.2 L1099.7 584.9 L1103.7 585.7 L1107.7 586.4 L1111.7 587.1 L1115.7 587.9 L1119.7 588.6 L1123.7 589.4 L1127.7 590.1 L1131.7 590.9 L1135.7 591.7 L1139.7 592.5 L1143.7 593.3 L1147.7 594.0 L1151.7 594.8 L1155.7 595.6 L1159.7 596.4 L1163.7 597.2 L1167.7 598.0 L1171.7 598.9 L1175.7 599.7 L1179.7 600.5 L1183.7 601.3 L1187.7 602.1 L1191.7 602.9 L1195.7 603.7 L1199.7 604.5 L1203.7 605.3 L1207.7 606.1 L1211.7 606.9 L1215.7 607.7 L1219.7 608.5 L1223.7 609.3 L1227.7 610.1 L1231.7 610.9 L1235.7 611.7 L1239.7 612.5 L1243.7 613.3 L1247.7 614.0 L1251.7 614.8 L1255.7 615.6 L1259.7 616.3 L1263.7 617.1 L1267.7 617.8 L1271.7 618.5 L1275.7 619.3 L1279.7 620.0 L1283.7 620.7 L1287.7 621.4 L1291.7 622.1 L1295.7 622.8 L1299.7 623.5 L1303.7 624.2 L1307.7 624.9 L1311.7 625.5 L1315.7 626.2 L1319.7 626.9 L1323.7 627.5 L1327.7 628.1 L1331.7 628.8 L1335.7 629.4 L1339.7 630.0 L1343.7 630.6 L1347.7 631.2 L1351.7 631.7 L1355.7 632.3 L1359.7 632.9 L1363.7 633.4 L1367.7 634.0 L1371.7 634.5 L1375.7 635.0 L1379.7 635.6 L1383.7 636.1 L1387.7 636.6 L1391.7 637.1 L1395.7 637.5 L1399.7 638.0 L1403.7 638.5 L1407.7 638.9 L1411.7 639.4 L1415.7 639.8 L1419.7 640.2 L1423.7 640.7 L1427.7 641.1 L1431.7 641.5 L1435.7 641.9 L1439.7 642.3 L1443.7 642.6 L1447.7 643.0 L1451.7 643.4 L1455.7 643.7 L1459.7 644.1 L1463.7 644.4 L1467.7 644.7 L1471.7 645.0 L1475.7 645.4 L1479.7 645.7 L1483.7 646.0 L1487.7 646.2 L1491.7 646.5 L1495.7 646.8 L1499.7 647.1 L1503.7 647.3 L1507.7 647.6 L1511.7 647.8 L1515.7 648.1 L1519.7 648.3 L1523.7 648.5 L1527.7 648.8 L1531.7 649.0 L1535.7 649.2 L1539.7 649.4 L1543.7 649.6 L1547.7 649.8 L1551.7 650.0 L1555.7 650.1 L1559.7 650.3 L1563.7 650.5 L1567.7 650.6 L1571.7 650.8 L1575.7 651.0 L1579.7 651.1 L1583.7 651.3 L1587.7 651.4 L1591.7 651.5 L1595.7 651.7 L1599.7 651.8 L1603.7 651.9 L1607.7 652.0 L1611.7 652.2 L1615.7 652.3 L1619.7 652.4 L1623.7 652.5 L1627.7 652.6 L1631.7 652.7 L1635.7 652.8 L1639.7 652.9 L1643.7 652.9 L1647.7 653.0 L1651.7 653.1 L1655.7 653.2 L1659.7 653.3 L1663.7 653.3 L1667.7 653.4 L1671.7 653.5 L1675.7 653.5 L1679.7 653.6 L1683.7 653.7 L1687.7 653.7 L1691.7 653.8 L1695.7 653.8 L1699.7 653.9 L1703.7 653.9 L1707.7 654.0 L1711.7 654.0 L1715.7 654.1 L1719.7 654.1 L1723.7 654.1 L1727.7 654.2 L1731.7 654.2 L1735.7 654.3 L1739.7 654.3 L1743.7 654.3 L1747.7 654.4 L1751.7 654.4 L1755.7 654.4 L1759.7 654.4 L1763.7 654.5 L1767.7 654.5 L1771.7 654.5 L1775.7 654.5 L1779.7 654.6 L1783.7 654.6 L1787.7 654.6 L1791.7 654.6 L1795.7 654.6 L1799.7 654.7 L1803.7 654.7 L1807.7 654.7 L1811.7 654.7 L1815.7 654.7 L1819.7 654.7 L1823.7 654.8 L1827.7 654.8 L1831.7 654.8 L1835.7 654.8 L1839.7 654.8 L1843.7 654.8 L1847.7 654.8 L1851.7 654.8 L1855.7 654.8 L1859.7 654.8 L1863.7 654.9 L1867.7 654.9 L1871.7 654.9 L1875.7 654.9 L1879.7 654.9 L1883.7 654.9 L1887.7 654.9 L1891.7 654.9 L1895.7 654.9 L1899.7 654.9 L1903.7 654.9 L1907.7 654.9 L1911.7 654.9 L1915.7 654.9 L1919.7 654.9 L1923.7 654.9 L1927.7 654.9 L1931.7 654.9 L1935.7 654.9 L1939.7 655.0 L1943.7 655.0 L1947.7 655.0 L1951.7 655.0 L1955.7 655.0 L1959.7 655.0 L1963.7 655.0 L1967.7 655.0 L1971.7 655.0 L1975.7 655.0 L1979.7 655.0 L1983.7 655.0 L1987.7 655.0 L1991.7 655.0 L1995.7 655.0 L1999.7 655.0 L2003.7 655.0 L2007.7 655.0 L2011.7 655.0 L2015.7 655.0 L2019.7 655.0 L2023.7 655.0 L2027.7 655.0 L2031.7 655.0 L2035.7 655.0 L2039.7 655.0 L2043.7 655.0 L2047.7 655.0 L2051.7 655.0 L2055.7 655.0 L2059.7 655.0 L2063.7 655.0 L2067.7 655.0 L2071.7 655.0 L2075.7 655.0 L2079.7 655.0 L2083.7 655.0 L2087.7 655.0 L2091.7 655.0 L2095.7 655.0 L2099.7 655.0 L2103.7 655.0 L2107.7 655.0 L2111.7 655.0 L2115.7 655.0 L2119.7 655.0 L2123.7 655.0 L2127.7 655.0 L2131.7 655.0 L2135.7 655.0 L2139.7 655.0 L2143.7 655.0 L2147.7 655.0 L2151.7 655.0 L2155.7 655.0 L2159.7 655.0 L2163.7 655.0 L2167.7 655.0 L2171.7 655.0 L2175.7 655.0 L2179.7 655.0 L2183.7 655.0 L2187.7 655.0 L2191.7 655.0 L2195.7 655.0 L2199.7 655.0 L2203.7 655.0 L2207.7 655.0 L2211.7 655.0 L2215.7 655.0 L2219.7 655.0 L2223.7 655.0 L2226.0 655.0" fill="none" stroke="#757575" stroke-width="7.0" stroke-dasharray="21 29.1" stroke-dashoffset="2.5" stroke-linecap="round"/>
<path d="M191.7 654.6 L195.7 654.6 L199.7 654.5 L203.7 654.5 L207.7 654.5 L211.7 654.5 L215.7 654.5 L219.7 654.4 L223.7 654.4 L227.7 654.4 L231.7 654.4 L235.7 654.3 L239.7 654.3 L243.7 654.3 L247.7 654.2 L251.7 654.2 L255.7 654.2 L259.7 654.1 L263.7 654.1 L267.7 654.0 L271.7 654.0 L275.7 654.0 L279.7 653.9 L283.7 653.9 L287.7 653.8 L291.7 653.8 L295.7 653.7 L299.7 653.7 L303.7 653.6 L307.7 653.6 L311.7 653.5 L315.7 653.5 L319.7 653.4 L323.7 653.3 L327.7 653.3 L331.7 653.2 L335.7 653.1 L339.7 653.0 L343.7 653.0 L347.7 652.9 L351.7 652.8 L355.7 652.7 L359.7 652.6 L363.7 652.5 L367.7 652.5 L371.7 652.4 L375.7 652.3 L379.7 652.2 L383.7 652.1 L387.7 651.9 L391.7 651.8 L395.7 651.7 L399.7 651.6 L403.7 651.5 L407.7 651.3 L411.7 651.2 L415.7 651.1 L419.7 650.9 L423.7 650.8 L427.7 650.7 L431.7 650.5 L435.7 650.4 L439.7 650.2 L443.7 650.0 L447.7 649.9 L451.7 649.7 L455.7 649.5 L459.7 649.3 L463.7 649.2 L467.7 649.0 L471.7 648.8 L475.7 648.6 L479.7 648.4 L483.7 648.2 L487.7 647.9 L491.7 647.7 L495.7 647.5 L499.7 647.3 L503.7 647.0 L507.7 646.8 L511.7 646.5 L515.7 646.3 L519.7 646.0 L523.7 645.7 L527.7 645.5 L531.7 645.2 L535.7 644.9 L539.7 644.6 L543.7 644.3 L547.7 644.0 L551.7 643.7 L555.7 643.4 L559.7 643.0 L563.7 642.7 L567.7 642.4 L571.7 642.0 L575.7 641.7 L579.7 641.3 L583.7 640.9 L587.7 640.6 L591.7 640.2 L595.7 639.8 L599.7 639.4 L603.7 639.0 L607.7 638.6 L611.7 638.2 L615.7 637.8 L619.7 637.3 L623.7 636.9 L627.7 636.4 L631.7 636.0 L635.7 635.5 L639.7 635.1 L643.7 634.6 L647.7 634.1 L651.7 633.6 L655.7 633.1 L659.7 632.6 L663.7 632.1 L667.7 631.6 L671.7 631.1 L675.7 630.6 L679.7 630.0 L683.7 629.5 L687.7 628.9 L691.7 628.4 L695.7 627.8 L699.7 627.2 L703.7 626.7 L707.7 626.1 L711.7 625.5 L715.7 624.9 L719.7 624.3 L723.7 623.7 L727.7 623.1 L731.7 622.5 L735.7 621.9 L739.7 621.2 L743.7 620.6 L747.7 620.0 L751.7 619.3 L755.7 618.7 L759.7 618.0 L763.7 617.4 L767.7 616.7 L771.7 616.0 L775.7 615.4 L779.7 614.7 L783.7 614.0 L787.7 613.4 L791.7 612.7 L795.7 612.0 L799.7 611.3 L803.7 610.6 L807.7 609.9 L811.7 609.3 L815.7 608.6 L819.7 607.9 L823.7 607.2 L827.7 606.5 L831.7 605.8 L835.7 605.1 L839.7 604.4 L843.7 603.7 L847.7 603.0 L851.7 602.3 L855.7 601.6 L859.7 601.0 L863.7 600.3 L867.7 599.6 L871.7 598.9 L875.7 598.2 L879.7 597.5 L883.7 596.9 L887.7 596.2 L891.7 595.5 L895.7 594.9 L899.7 594.2 L903.7 593.6 L907.7 592.9 L911.7 592.3 L915.7 591.6 L919.7 591.0 L923.7 590.4 L927.7 589.8 L931.7 589.2 L935.7 588.6 L939.7 588.0 L943.7 587.4 L947.7 586.8 L951.7 586.3 L955.7 585.7 L959.7 585.2 L963.7 584.6 L967.7 584.1 L971.7 583.6 L975.7 583.1 L979.7 582.6 L983.7 582.1 L987.7 581.6 L991.7 581.1 L995.7 580.7 L999.7 580.2 L1003.7 579.8 L1007.7 579.4 L1011.7 579.0 L1015.7 578.6 L1019.7 578.2 L1023.7 577.8 L1027.7 577.5 L1031.7 577.2 L1035.7 576.8 L1039.7 576.5 L1043.7 576.2 L1047.7 575.9 L1051.7 575.7 L1055.7 575.4 L1059.7 575.2 L1063.7 575.0 L1067.7 574.8 L1071.7 574.6 L1075.7 574.4 L1079.7 574.2 L1083.7 574.1 L1087.7 574.0 L1091.7 573.8 L1095.7 573.7 L1099.7 573.7 L1103.7 573.6 L1107.7 573.6 L1111.7 573.5 L1115.7 573.5 L1119.7 573.5 L1123.7 573.5 L1127.7 573.5 L1131.7 573.6 L1135.7 573.7 L1139.7 573.7 L1143.7 573.8 L1147.7 573.9 L1151.7 574.1 L1155.7 574.2 L1159.7 574.4 L1163.7 574.6 L1167.7 574.7 L1171.7 575.0 L1175.7 575.2 L1179.7 575.4 L1183.7 575.7 L1187.7 575.9 L1191.7 576.2 L1195.7 576.5 L1199.7 576.8 L1203.7 577.2 L1207.7 577.5 L1211.7 577.8 L1215.7 578.2 L1219.7 578.6 L1223.7 579.0 L1227.7 579.4 L1231.7 579.8 L1235.7 580.3 L1239.7 580.7 L1243.7 581.2 L1247.7 581.6 L1251.7 582.1 L1255.7 582.6 L1259.7 583.1 L1263.7 583.6 L1267.7 584.1 L1271.7 584.7 L1275.7 585.2 L1279.7 585.8 L1283.7 586.3 L1287.7 586.9 L1291.7 587.5 L1295.7 588.1 L1299.7 588.7 L1303.7 589.3 L1307.7 589.9 L1311.7 590.5 L1315.7 591.1 L1319.7 591.8 L1323.7 592.4 L1327.7 593.1 L1331.7 593.7 L1335.7 594.4 L1339.7 595.0 L1343.7 595.7 L1347.7 596.4 L1351.7 597.0 L1355.7 597.7 L1359.7 598.4 L1363.7 599.1 L1367.7 599.8 L1371.7 600.5 L1375.7 601.2 L1379.7 601.9 L1383.7 602.5 L1387.7 603.2 L1391.7 603.9 L1395.7 604.6 L1399.7 605.3 L1403.7 606.0 L1407.7 606.7 L1411.7 607.4 L1415.7 608.1 L1419.7 608.8 L1423.7 609.5 L1427.7 610.2 L1431.7 610.9 L1435.7 611.6 L1439.7 612.3 L1443.7 613.0 L1447.7 613.7 L1451.7 614.3 L1455.7 615.0 L1459.7 615.7 L1463.7 616.4 L1467.7 617.0 L1471.7 617.7 L1475.7 618.3 L1479.7 619.0 L1483.7 619.6 L1487.7 620.3 L1491.7 620.9 L1495.7 621.6 L1499.7 622.2 L1503.7 622.8 L1507.7 623.4 L1511.7 624.0 L1515.7 624.6 L1519.7 625.2 L1523.7 625.8 L1527.7 626.4 L1531.7 627.0 L1535.7 627.6 L1539.7 628.1 L1543.7 628.7 L1547.7 629.3 L1551.7 629.8 L1555.7 630.4 L1559.7 630.9 L1563.7 631.4 L1567.7 631.9 L1571.7 632.5 L1575.7 633.0 L1579.7 633.5 L1583.7 634.0 L1587.7 634.4 L1591.7 634.9 L1595.7 635.4 L1599.7 635.9 L1603.7 636.3 L1607.7 636.8 L1611.7 637.2 L1615.7 637.6 L1619.7 638.1 L1623.7 638.5 L1627.7 638.9 L1631.7 639.3 L1635.7 639.7 L1639.7 640.1 L1643.7 640.5 L1647.7 640.9 L1651.7 641.2 L1655.7 641.6 L1659.7 642.0 L1663.7 642.3 L1667.7 642.6 L1671.7 643.0 L1675.7 643.3 L1679.7 643.6 L1683.7 643.9 L1687.7 644.3 L1691.7 644.6 L1695.7 644.9 L1699.7 645.1 L1703.7 645.4 L1707.7 645.7 L1711.7 646.0 L1715.7 646.2 L1719.7 646.5 L1723.7 646.8 L1727.7 647.0 L1731.7 647.2 L1735.7 647.5 L1739.7 647.7 L1743.7 647.9 L1747.7 648.1 L1751.7 648.4 L1755.7 648.6 L1759.7 648.8 L1763.7 649.0 L1767.7 649.2 L1771.7 649.3 L1775.7 649.5 L1779.7 649.7 L1783.7 649.9 L1787.7 650.0 L1791.7 650.2 L1795.7 650.4 L1799.7 650.5 L1803.7 650.7 L1807.7 650.8 L1811.7 651.0 L1815.7 651.1 L1819.7 651.2 L1823.7 651.4 L1827.7 651.5 L1831.7 651.6 L1835.7 651.7 L1839.7 651.8 L1843.7 652.0 L1847.7 652.1 L1851.7 652.2 L1855.7 652.3 L1859.7 652.4 L1863.7 652.5 L1867.7 652.6 L1871.7 652.7 L1875.7 652.7 L1879.7 652.8 L1883.7 652.9 L1887.7 653.0 L1891.7 653.1 L1895.7 653.1 L1899.7 653.2 L1903.7 653.3 L1907.7 653.3 L1911.7 653.4 L1915.7 653.5 L1919.7 653.5 L1923.7 653.6 L1927.7 653.6 L1931.7 653.7 L1935.7 653.7 L1939.7 653.8 L1943.7 653.8 L1947.7 653.9 L1951.7 653.9 L1955.7 654.0 L1959.7 654.0 L1963.7 654.1 L1967.7 654.1 L1971.7 654.1 L1975.7 654.2 L1979.7 654.2 L1983.7 654.2 L1987.7 654.3 L1991.7 654.3 L1995.7 654.3 L1999.7 654.4 L2003.7 654.4 L2007.7 654.4 L2011.7 654.4 L2015.7 654.5 L2019.7 654.5 L2023.7 654.5 L2027.7 654.5 L2031.7 654.6 L2035.7 654.6 L2039.7 654.6 L2043.7 654.6 L2047.7 654.6 L2051.7 654.6 L2055.7 654.7 L2059.7 654.7 L2063.7 654.7 L2067.7 654.7 L2071.7 654.7 L2075.7 654.7 L2079.7 654.7 L2083.7 654.8 L2087.7 654.8 L2091.7 654.8 L2095.7 654.8 L2099.7 654.8 L2103.7 654.8 L2107.7 654.8 L2111.7 654.8 L2115.7 654.8 L2119.7 654.8 L2123.7 654.9 L2127.7 654.9 L2131.7 654.9 L2135.7 654.9 L2139.7 654.9 L2143.7 654.9 L2147.7 654.9 L2151.7 654.9 L2155.7 654.9 L2159.7 654.9 L2163.7 654.9 L2167.7 654.9 L2171.7 654.9 L2175.7 654.9 L2179.7 654.9 L2183.7 654.9 L2187.7 654.9 L2191.7 654.9 L2195.7 654.9 L2199.7 654.9 L2203.7 654.9 L2207.7 655.0 L2211.7 655.0 L2215.7 655.0 L2219.7 655.0 L2223.7 655.0 L2226.0 655.0" fill="none" stroke="#ff3c3c" stroke-width="7.0" stroke-dasharray="21 29.1" stroke-dashoffset="2.5" stroke-linecap="round"/>
<path d="M191.7 655.0 L195.7 655.0 L199.7 655.0 L203.7 655.0 L207.7 655.0 L211.7 655.0 L215.7 655.0 L219.7 655.0 L223.7 655.0 L227.7 655.0 L231.7 655.0 L235.7 655.0 L239.7 655.0 L243.7 655.0 L247.7 655.0 L251.7 655.0 L255.7 655.0 L259.7 655.0 L263.7 655.0 L267.7 655.0 L271.7 655.0 L275.7 655.0 L279.7 655.0 L283.7 655.0 L287.7 655.0 L291.7 655.0 L295.7 655.0 L299.7 655.0 L303.7 655.0 L307.7 655.0 L311.7 655.0 L315.7 655.0 L319.7 655.0 L323.7 655.0 L327.7 655.0 L331.7 655.0 L335.7 655.0 L339.7 655.0 L343.7 655.0 L347.7 655.0 L351.7 655.0 L355.7 655.0 L359.7 655.0 L363.7 655.0 L367.7 655.0 L371.7 655.0 L375.7 655.0 L379.7 655.0 L383.7 655.0 L387.7 655.0 L391.7 655.0 L395.7 655.0 L399.7 655.0 L403.7 655.0 L407.7 655.0 L411.7 655.0 L415.7 655.0 L419.7 655.0 L423.7 655.0 L427.7 655.0 L431.7 655.0 L435.7 655.0 L439.7 655.0 L443.7 655.0 L447.7 655.0 L451.7 655.0 L455.7 655.0 L459.7 655.0 L463.7 655.0 L467.7 655.0 L471.7 655.0 L475.7 655.0 L479.7 655.0 L483.7 655.0 L487.7 655.0 L491.7 655.0 L495.7 655.0 L499.7 655.0 L503.7 655.0 L507.7 655.0 L511.7 655.0 L515.7 655.0 L519.7 655.0 L523.7 655.0 L527.7 655.0 L531.7 655.0 L535.7 655.0 L539.7 655.0 L543.7 655.0 L547.7 655.0 L551.7 655.0 L555.7 655.0 L559.7 655.0 L563.7 655.0 L567.7 655.0 L571.7 655.0 L575.7 655.0 L579.7 655.0 L583.7 655.0 L587.7 655.0 L591.7 655.0 L595.7 655.0 L599.7 655.0 L603.7 655.0 L607.7 655.0 L611.7 655.0 L615.7 655.0 L619.7 655.0 L623.7 655.0 L627.7 655.0 L631.7 655.0 L635.7 655.0 L639.7 655.0 L643.7 655.0 L647.7 655.0 L651.7 655.0 L655.7 655.0 L659.7 655.0 L663.7 655.0 L667.7 655.0 L671.7 655.0 L675.7 655.0 L679.7 655.0 L683.7 655.0 L687.7 655.0 L691.7 655.0 L695.7 655.0 L699.7 655.0 L703.7 655.0 L707.7 655.0 L711.7 655.0 L715.7 655.0 L719.7 655.0 L723.7 655.0 L727.7 655.0 L731.7 655.0 L735.7 655.0 L739.7 655.0 L743.7 655.0 L747.7 655.0 L751.7 655.0 L755.7 655.0 L759.7 655.0 L763.7 655.0 L767.7 655.0 L771.7 655.0 L775.7 655.0 L779.7 655.0 L783.7 655.0 L787.7 655.0 L791.7 655.0 L795.7 655.0 L799.7 655.0 L803.7 655.0 L807.7 655.0 L811.7 655.0 L815.7 655.0 L819.7 655.0 L823.7 655.0 L827.7 655.0 L831.7 655.0 L835.7 655.0 L839.7 655.0 L843.7 655.0 L847.7 655.0 L851.7 655.0 L855.7 655.0 L859.7 655.0 L863.7 655.0 L867.7 655.0 L871.7 655.0 L875.7 655.0 L879.7 655.0 L883.7 655.0 L887.7 655.0 L891.7 655.0 L895.7 654.9 L899.7 654.9 L903.7 654.9 L907.7 654.9 L911.7 654.9 L915.7 654.9 L919.7 654.9 L923.7 654.9 L927.7 654.9 L931.7 654.9 L935.7 654.9 L939.7 654.9 L943.7 654.9 L947.7 654.9 L951.7 654.9 L955.7 654.9 L959.7 654.9 L963.7 654.9 L967.7 654.8 L971.7 654.8 L975.7 654.8 L979.7 654.8 L983.7 654.8 L987.7 654.8 L991.7 654.8 L995.7 654.8 L999.7 654.7 L1003.7 654.7 L1007.7 654.7 L1011.7 654.7 L1015.7 654.7 L1019.7 654.7 L1023.7 654.6 L1027.7 654.6 L1031.7 654.6 L1035.7 654.6 L1039.7 654.6 L1043.7 654.5 L1047.7 654.5 L1051.7 654.5 L1055.7 654.5 L1059.7 654.4 L1063.7 654.4 L1067.7 654.4 L1071.7 654.3 L1075.7 654.3 L1079.7 654.3 L1083.7 654.2 L1087.7 654.2 L1091.7 654.2 L1095.7 654.1 L1099.7 654.1 L1103.7 654.0 L1107.7 654.0 L1111.7 653.9 L1115.7 653.9 L1119.7 653.8 L1123.7 653.8 L1127.7 653.7 L1131.7 653.7 L1135.7 653.6 L1139.7 653.5 L1143.7 653.5 L1147.7 653.4 L1151.7 653.3 L1155.7 653.3 L1159.7 653.2 L1163.7 653.1 L1167.7 653.1 L1171.7 653.0 L1175.7 652.9 L1179.7 652.8 L1183.7 652.7 L1187.7 652.6 L1191.7 652.5 L1195.7 652.4 L1199.7 652.3 L1203.7 652.2 L1207.7 652.1 L1211.7 652.0 L1215.7 651.9 L1219.7 651.8 L1223.7 651.7 L1227.7 651.5 L1231.7 651.4 L1235.7 651.3 L1239.7 651.2 L1243.7 651.0 L1247.7 650.9 L1251.7 650.8 L1255.7 650.6 L1259.7 650.5 L1263.7 650.3 L1267.7 650.2 L1271.7 650.0 L1275.7 649.9 L1279.7 649.7 L1283.7 649.5 L1287.7 649.4 L1291.7 649.2 L1295.7 649.0 L1299.7 648.9 L1303.7 648.7 L1307.7 648.5 L1311.7 648.3 L1315.7 648.1 L1319.7 647.9 L1323.7 647.7 L1327.7 647.6 L1331.7 647.4 L1335.7 647.2 L1339.7 647.0 L1343.7 646.8 L1347.7 646.6 L1351.7 646.4 L1355.7 646.1 L1359.7 645.9 L1363.7 645.7 L1367.7 645.5 L1371.7 645.3 L1375.7 645.1 L1379.7 644.9 L1383.7 644.7 L1387.7 644.4 L1391.7 644.2 L1395.7 644.0 L1399.7 643.8 L1403.7 643.6 L1407.7 643.3 L1411.7 643.1 L1415.7 642.9 L1419.7 642.7 L1423.7 642.5 L1427.7 642.3 L1431.7 642.0 L1435.7 641.8 L1439.7 641.6 L1443.7 641.4 L1447.7 641.2 L1451.7 641.0 L1455.7 640.8 L1459.7 640.6 L1463.7 640.4 L1467.7 640.2 L1471.7 640.0 L1475.7 639.8 L1479.7 639.6 L1483.7 639.4 L1487.7 639.3 L1491.7 639.1 L1495.7 638.9 L1499.7 638.8 L1503.7 638.6 L1507.7 638.4 L1511.7 638.3 L1515.7 638.1 L1519.7 638.0 L1523.7 637.8 L1527.7 637.7 L1531.7 637.6 L1535.7 637.5 L1539.7 637.3 L1543.7 637.2 L1547.7 637.1 L1551.7 637.0 L1555.7 636.9 L1559.7 636.8 L1563.7 636.8 L1567.7 636.7 L1571.7 636.6 L1575.7 636.6 L1579.7 636.5 L1583.7 636.4 L1587.7 636.4 L1591.7 636.4 L1595.7 636.3 L1599.7 636.3 L1603.7 636.3 L1607.7 636.3 L1611.7 636.3 L1615.7 636.3 L1619.7 636.3 L1623.7 636.3 L1627.7 636.4 L1631.7 636.4 L1635.7 636.4 L1639.7 636.5 L1643.7 636.5 L1647.7 636.6 L1651.7 636.7 L1655.7 636.7 L1659.7 636.8 L1663.7 636.9 L1667.7 637.0 L1671.7 637.1 L1675.7 637.2 L1679.7 637.3 L1683.7 637.4 L1687.7 637.6 L1691.7 637.7 L1695.7 637.8 L1699.7 638.0 L1703.7 638.1 L1707.7 638.3 L1711.7 638.4 L1715.7 638.6 L1719.7 638.7 L1723.7 638.9 L1727.7 639.1 L1731.7 639.2 L1735.7 639.4 L1739.7 639.6 L1743.7 639.8 L1747.7 640.0 L1751.7 640.2 L1755.7 640.4 L1759.7 640.6 L1763.7 640.8 L1767.7 641.0 L1771.7 641.2 L1775.7 641.4 L1779.7 641.6 L1783.7 641.8 L1787.7 642.0 L1791.7 642.2 L1795.7 642.4 L1799.7 642.7 L1803.7 642.9 L1807.7 643.1 L1811.7 643.3 L1815.7 643.5 L1819.7 643.8 L1823.7 644.0 L1827.7 644.2 L1831.7 644.4 L1835.7 644.6 L1839.7 644.8 L1843.7 645.1 L1847.7 645.3 L1851.7 645.5 L1855.7 645.7 L1859.7 645.9 L1863.7 646.1 L1867.7 646.3 L1871.7 646.5 L1875.7 646.7 L1879.7 646.9 L1883.7 647.1 L1887.7 647.3 L1891.7 647.5 L1895.7 647.7 L1899.7 647.9 L1903.7 648.1 L1907.7 648.3 L1911.7 648.5 L1915.7 648.6 L1919.7 648.8 L1923.7 649.0 L1927.7 649.2 L1931.7 649.3 L1935.7 649.5 L1939.7 649.7 L1943.7 649.8 L1947.7 650.0 L1951.7 650.1 L1955.7 650.3 L1959.7 650.4 L1963.7 650.6 L1967.7 650.7 L1971.7 650.9 L1975.7 651.0 L1979.7 651.1 L1983.7 651.3 L1987.7 651.4 L1991.7 651.5 L1995.7 651.6 L1999.7 651.8 L2003.7 651.9 L2007.7 652.0 L2011.7 652.1 L2015.7 652.2 L2019.7 652.3 L2023.7 652.4 L2027.7 652.5 L2031.7 652.6 L2035.7 652.7 L2039.7 652.8 L2043.7 652.9 L2047.7 653.0 L2051.7 653.0 L2055.7 653.1 L2059.7 653.2 L2063.7 653.3 L2067.7 653.3 L2071.7 653.4 L2075.7 653.5 L2079.7 653.5 L2083.7 653.6 L2087.7 653.7 L2091.7 653.7 L2095.7 653.8 L2099.7 653.8 L2103.7 653.9 L2107.7 653.9 L2111.7 654.0 L2115.7 654.0 L2119.7 654.1 L2123.7 654.1 L2127.7 654.2 L2131.7 654.2 L2135.7 654.2 L2139.7 654.3 L2143.7 654.3 L2147.7 654.3 L2151.7 654.4 L2155.7 654.4 L2159.7 654.4 L2163.7 654.5 L2167.7 654.5 L2171.7 654.5 L2175.7 654.5 L2179.7 654.6 L2183.7 654.6 L2187.7 654.6 L2191.7 654.6 L2195.7 654.6 L2199.7 654.7 L2203.7 654.7 L2207.7 654.7 L2211.7 654.7 L2215.7 654.7 L2219.7 654.7 L2223.7 654.8 L2226.0 654.8" fill="none" stroke="#0070e6" stroke-width="7.0" stroke-dasharray="21 29.1" stroke-dashoffset="2.5" stroke-linecap="round"/>
<path d="M191.9 652.3 L195.9 652.1 L199.9 652.0 L203.9 651.8 L207.9 651.6 L211.9 651.4 L215.9 651.2 L219.9 651.0 L223.9 650.8 L227.9 650.5 L231.9 650.3 L235.9 650.0 L239.9 649.8 L243.9 649.5 L247.9 649.2 L251.9 648.9 L255.9 648.6 L259.9 648.3 L263.9 648.0 L267.9 647.7 L271.9 647.4 L275.9 647.1 L279.9 646.7 L283.9 646.4 L287.9 646.0 L291.9 645.7 L295.9 645.4 L299.9 645.0 L303.9 644.6 L307.9 644.3 L311.9 643.9 L315.9 643.5 L319.9 643.1 L323.9 642.8 L327.9 642.4 L331.9 642.0 L335.9 641.6 L339.9 641.2 L343.9 640.7 L347.9 640.3 L351.9 639.9 L355.9 639.5 L359.9 639.0 L363.9 638.6 L367.9 638.2 L371.9 637.7 L375.9 637.3 L379.9 636.8 L383.9 636.4 L387.9 635.9 L391.9 635.4 L395.9 635.0 L399.9 634.5 L403.9 634.0 L407.9 633.5 L411.9 633.0 L415.9 632.5 L419.9 632.0 L423.9 631.5 L427.9 631.0 L431.9 630.4 L435.9 629.9 L439.9 629.4 L443.9 628.8 L447.9 628.3 L451.9 627.7 L455.9 627.1 L459.9 626.5 L463.9 625.9 L467.9 625.3 L471.9 624.7 L475.9 624.1 L479.9 623.4 L483.9 622.8 L487.9 622.1 L491.9 621.4 L495.9 620.7 L499.9 620.0 L503.9 619.3 L507.9 618.6 L511.9 617.8 L515.9 617.1 L519.9 616.3 L523.9 615.5 L527.9 614.7 L531.9 613.9 L535.9 613.1 L539.9 612.3 L543.9 611.4 L547.9 610.6 L551.9 609.7 L555.9 608.8 L559.9 607.9 L563.9 607.0 L567.9 606.1 L571.9 605.2 L575.9 604.2 L579.9 603.3 L583.9 602.3 L587.9 601.3 L591.9 600.3 L595.9 599.3 L599.9 598.3 L603.9 597.3 L607.9 596.2 L611.9 595.2 L615.9 594.1 L619.9 593.0 L623.9 591.9 L627.9 590.7 L631.9 589.6 L635.9 588.4 L639.9 587.2 L643.9 586.1 L647.9 584.8 L651.9 583.6 L655.9 582.4 L659.9 581.2 L663.9 579.9 L667.9 578.6 L671.9 577.3 L675.9 576.0 L679.9 574.7 L683.9 573.4 L687.9 572.1 L691.9 570.8 L695.9 569.4 L699.9 568.1 L703.9 566.8 L707.9 565.4 L711.9 564.1 L715.9 562.7 L719.9 561.4 L723.9 560.0 L727.9 558.7 L731.9 557.3 L735.9 556.0 L739.9 554.6 L743.9 553.3 L747.9 552.0 L751.9 550.6 L755.9 549.3 L759.9 548.0 L763.9 546.6 L767.9 545.3 L771.9 544.0 L775.9 542.7 L779.9 541.3 L783.9 540.0 L787.9 538.7 L791.9 537.4 L795.9 536.1 L799.9 534.8 L803.9 533.6 L807.9 532.3 L811.9 531.0 L815.9 529.8 L819.9 528.6 L823.9 527.4 L827.9 526.2 L831.9 525.0 L835.9 523.8 L839.9 522.6 L843.9 521.5 L847.9 520.4 L851.9 519.3 L855.9 518.2 L859.9 517.1 L863.9 516.1 L867.9 515.1 L871.9 514.1 L875.9 513.1 L879.9 512.1 L883.9 511.2 L887.9 510.3 L891.9 509.4 L895.9 508.5 L899.9 507.7 L903.9 506.9 L907.9 506.1 L911.9 505.3 L915.9 504.5 L919.9 503.8 L923.9 503.1 L927.9 502.5 L931.9 501.8 L935.9 501.2 L939.9 500.6 L943.9 500.1 L947.9 499.5 L951.9 499.0 L955.9 498.6 L959.9 498.1 L963.9 497.7 L967.9 497.3 L971.9 497.0 L975.9 496.7 L979.9 496.4 L983.9 496.1 L987.9 495.9 L991.9 495.7 L995.9 495.5 L999.9 495.4 L1003.9 495.3 L1007.9 495.2 L1011.9 495.2 L1015.9 495.2 L1019.9 495.3 L1023.9 495.3 L1027.9 495.4 L1031.9 495.6 L1035.9 495.7 L1039.9 495.9 L1043.9 496.2 L1047.9 496.4 L1051.9 496.7 L1055.9 497.1 L1059.9 497.4 L1063.9 497.8 L1067.9 498.2 L1071.9 498.6 L1075.9 499.1 L1079.9 499.6 L1083.9 500.1 L1087.9 500.6 L1091.9 501.2 L1095.9 501.8 L1099.9 502.4 L1103.9 503.0 L1107.9 503.7 L1111.9 504.3 L1115.9 505.0 L1119.9 505.7 L1123.9 506.5 L1127.9 507.2 L1131.9 508.0 L1135.9 508.8 L1139.9 509.6 L1143.9 510.5 L1147.9 511.3 L1151.9 512.2 L1155.9 513.1 L1159.9 514.0 L1163.9 514.9 L1167.9 515.9 L1171.9 516.8 L1175.9 517.8 L1179.9 518.7 L1183.9 519.7 L1187.9 520.7 L1191.9 521.8 L1195.9 522.8 L1199.9 523.8 L1203.9 524.9 L1207.9 525.9 L1211.9 527.0 L1215.9 528.1 L1219.9 529.2 L1223.9 530.3 L1227.9 531.4 L1231.9 532.5 L1235.9 533.6 L1239.9 534.7 L1243.9 535.8 L1247.9 536.9 L1251.9 538.1 L1255.9 539.2 L1259.9 540.3 L1263.9 541.5 L1267.9 542.6 L1271.9 543.7 L1275.9 544.9 L1279.9 546.0 L1283.9 547.2 L1287.9 548.3 L1291.9 549.5 L1295.9 550.6 L1299.9 551.8 L1303.9 552.9 L1307.9 554.1 L1311.9 555.2 L1315.9 556.4 L1319.9 557.5 L1323.9 558.7 L1327.9 559.8 L1331.9 561.0 L1335.9 562.1 L1339.9 563.3 L1343.9 564.4 L1347.9 565.5 L1351.9 566.7 L1355.9 567.8 L1359.9 568.9 L1363.9 570.0 L1367.9 571.2 L1371.9 572.3 L1375.9 573.4 L1379.9 574.5 L1383.9 575.5 L1387.9 576.6 L1391.9 577.7 L1395.9 578.7 L1399.9 579.7 L1403.9 580.7 L1407.9 581.7 L1411.9 582.7 L1415.9 583.7 L1419.9 584.7 L1423.9 585.6 L1427.9 586.5 L1431.9 587.4 L1435.9 588.3 L1439.9 589.2 L1443.9 590.0 L1447.9 590.9 L1451.9 591.7 L1455.9 592.5 L1459.9 593.3 L1463.9 594.1 L1467.9 594.9 L1471.9 595.7 L1475.9 596.4 L1479.9 597.2 L1483.9 597.9 L1487.9 598.6 L1491.9 599.4 L1495.9 600.1 L1499.9 600.8 L1503.9 601.4 L1507.9 602.1 L1511.9 602.8 L1515.9 603.4 L1519.9 604.1 L1523.9 604.7 L1527.9 605.4 L1531.9 606.0 L1535.9 606.6 L1539.9 607.2 L1543.9 607.8 L1547.9 608.4 L1551.9 609.0 L1555.9 609.6 L1559.9 610.1 L1563.9 610.7 L1567.9 611.3 L1571.9 611.8 L1575.9 612.3 L1579.9 612.9 L1583.9 613.4 L1587.9 613.9 L1591.9 614.5 L1595.9 615.0 L1599.9 615.5 L1603.9 616.0 L1607.9 616.5 L1611.9 617.0 L1615.9 617.5 L1619.9 618.0 L1623.9 618.5 L1627.9 619.0 L1631.9 619.5 L1635.9 620.0 L1639.9 620.5 L1643.9 621.0 L1647.9 621.5 L1651.9 622.0 L1655.9 622.5 L1659.9 623.0 L1663.9 623.5 L1667.9 624.0 L1671.9 624.4 L1675.9 624.9 L1679.9 625.4 L1683.9 625.9 L1687.9 626.4 L1691.9 626.9 L1695.9 627.4 L1699.9 627.8 L1703.9 628.3 L1707.9 628.8 L1711.9 629.2 L1715.9 629.7 L1719.9 630.2 L1723.9 630.6 L1727.9 631.1 L1731.9 631.6 L1735.9 632.0 L1739.9 632.5 L1743.9 632.9 L1747.9 633.4 L1751.9 633.8 L1755.9 634.3 L1759.9 634.7 L1763.9 635.1 L1767.9 635.6 L1771.9 636.0 L1775.9 636.4 L1779.9 636.9 L1783.9 637.3 L1787.9 637.7 L1791.9 638.1 L1795.9 638.5 L1799.9 638.9 L1803.9 639.3 L1807.9 639.7 L1811.9 640.1 L1815.9 640.5 L1819.9 640.9 L1823.9 641.2 L1827.9 641.6 L1831.9 642.0 L1835.9 642.3 L1839.9 642.7 L1843.9 643.0 L1847.9 643.3 L1851.9 643.6 L1855.9 644.0 L1859.9 644.3 L1863.9 644.6 L1867.9 644.9 L1871.9 645.2 L1875.9 645.4 L1879.9 645.7 L1883.9 646.0 L1887.9 646.2 L1891.9 646.5 L1895.9 646.7 L1899.9 647.0 L1903.9 647.2 L1907.9 647.5 L1911.9 647.7 L1915.9 647.9 L1919.9 648.1 L1923.9 648.3 L1927.9 648.5 L1931.9 648.7 L1935.9 648.9 L1939.9 649.1 L1943.9 649.3 L1947.9 649.5 L1951.9 649.7 L1955.9 649.8 L1959.9 650.0 L1963.9 650.2 L1967.9 650.3 L1971.9 650.5 L1975.9 650.6 L1979.9 650.8 L1983.9 650.9 L1987.9 651.1 L1991.9 651.2 L1995.9 651.3 L1999.9 651.5 L2003.9 651.6 L2007.9 651.7 L2011.9 651.8 L2015.9 652.0 L2019.9 652.1 L2023.9 652.2 L2027.9 652.3 L2031.9 652.4 L2035.9 652.5 L2039.9 652.6 L2043.9 652.7 L2047.9 652.8 L2051.9 652.9 L2055.9 653.0 L2059.9 653.1 L2063.9 653.2 L2067.9 653.3 L2071.9 653.3 L2075.9 653.4 L2079.9 653.5 L2083.9 653.6 L2087.9 653.7 L2091.9 653.8 L2095.9 653.8 L2099.9 653.9 L2103.9 654.0 L2107.9 654.1 L2111.9 654.1 L2115.9 654.2 L2119.9 654.2 L2123.9 654.3 L2127.9 654.3 L2131.9 654.4 L2135.9 654.4 L2139.9 654.5 L2143.9 654.5 L2147.9 654.5 L2151.9 654.6 L2155.9 654.6 L2159.9 654.6 L2163.9 654.6 L2167.9 654.7 L2171.9 654.7 L2175.9 654.7 L2179.9 654.7 L2183.9 654.7 L2187.9 654.7 L2191.9 654.7 L2195.9 654.7 L2199.9 654.7 L2203.9 654.8 L2207.9 654.8 L2211.9 654.8 L2215.9 654.8 L2219.9 654.8 L2223.9 654.8 L2227.3 654.8" fill="none" stroke="#0000ff" stroke-width="7.2" stroke-linejoin="round" stroke-linecap="round"/>
<path d="M192.7 922.0 L196.7 922.0 L200.7 922.0 L204.7 922.0 L208.7 922.0 L212.7 921.9 L216.7 921.9 L220.7 921.9 L224.7 921.9 L228.7 921.9 L232.7 921.9 L236.7 921.9 L240.7 921.9 L244.7 921.9 L248.7 921.9 L252.7 921.9 L256.7 921.9 L260.7 921.8 L264.7 921.8 L268.7 921.8 L272.7 921.8 L276.7 921.8 L280.7 921.8 L284.7 921.7 L288.7 921.7 L292.7 921.7 L296.7 921.6 L300.7 921.6 L304.7 921.5 L308.7 921.5 L312.7 921.4 L316.7 921.4 L320.7 921.3 L324.7 921.3 L328.7 921.2 L332.7 921.1 L336.7 921.1 L340.7 921.0 L344.7 920.9 L348.7 920.8 L352.7 920.8 L356.7 920.7 L360.7 920.6 L364.7 920.5 L368.7 920.3 L372.7 920.2 L376.7 920.1 L380.7 920.0 L384.7 919.8 L388.7 919.7 L392.7 919.5 L396.7 919.4 L400.7 919.2 L404.7 919.0 L408.7 918.8 L412.7 918.6 L416.7 918.4 L420.7 918.1 L424.7 917.9 L428.7 917.6 L432.7 917.4 L436.7 917.1 L440.7 916.8 L444.7 916.4 L448.7 916.1 L452.7 915.8 L456.7 915.4 L460.7 915.0 L464.7 914.6 L468.7 914.2 L472.7 913.7 L476.7 913.3 L480.7 912.8 L484.7 912.3 L488.7 911.7 L492.7 911.2 L496.7 910.6 L500.7 910.0 L504.7 909.4 L508.7 908.7 L512.7 908.1 L516.7 907.4 L520.7 906.6 L524.7 905.9 L528.7 905.1 L532.7 904.3 L536.7 903.4 L540.7 902.5 L544.7 901.6 L548.7 900.7 L552.7 899.7 L556.7 898.7 L560.7 897.7 L564.7 896.6 L568.7 895.5 L572.7 894.4 L576.7 893.2 L580.7 892.0 L584.7 890.8 L588.7 889.5 L592.7 888.2 L596.7 886.9 L600.7 885.5 L604.7 884.1 L608.7 882.7 L612.7 881.4 L616.7 880.0 L620.7 878.6 L624.7 877.1 L628.7 875.6 L632.7 874.0 L636.7 872.4 L640.7 870.8 L644.7 869.1 L648.7 867.4 L652.7 865.7 L656.7 863.9 L660.7 862.1 L664.7 860.3 L668.7 858.5 L672.7 856.6 L676.7 854.7 L680.7 852.7 L684.7 850.8 L688.7 848.8 L692.7 846.8 L696.7 844.8 L700.7 842.8 L704.7 840.8 L708.7 838.7 L712.7 836.7 L716.7 834.7 L720.7 832.6 L724.7 830.7 L728.7 828.8 L732.7 826.8 L736.7 824.9 L740.7 823.0 L744.7 821.1 L748.7 819.3 L752.7 817.4 L756.7 815.6 L760.7 813.8 L764.7 812.0 L768.7 810.3 L772.7 808.6 L776.7 806.9 L780.7 805.3 L784.7 803.7 L788.7 802.1 L792.7 800.6 L796.7 799.2 L800.7 797.8 L804.7 796.4 L808.7 795.1 L812.7 793.9 L816.7 792.7 L820.7 791.5 L824.7 790.5 L828.7 789.4 L832.7 788.5 L836.7 787.6 L840.7 786.8 L844.7 786.1 L848.7 785.4 L852.7 784.8 L856.7 784.2 L860.7 783.8 L864.7 783.4 L868.7 783.0 L872.7 782.8 L876.7 782.6 L880.7 782.5 L884.7 782.5 L888.7 782.6 L892.7 782.7 L896.7 782.9 L900.7 783.2 L904.7 783.6 L908.7 784.1 L912.7 784.6 L916.7 785.3 L920.7 786.0 L924.7 786.8 L928.7 787.6 L932.7 788.6 L936.7 789.6 L940.7 790.7 L944.7 791.8 L948.7 793.1 L952.7 794.4 L956.7 795.7 L960.7 797.1 L964.7 798.6 L968.7 800.1 L972.7 801.7 L976.7 803.3 L980.7 805.0 L984.7 806.7 L988.7 808.5 L992.7 810.3 L996.7 812.2 L1000.7 814.0 L1004.7 816.0 L1008.7 817.9 L1012.7 819.9 L1016.7 821.8 L1020.7 823.9 L1024.7 825.9 L1028.7 827.9 L1032.7 830.0 L1036.7 832.0 L1040.7 834.1 L1044.7 836.2 L1048.7 838.3 L1052.7 840.3 L1056.7 842.4 L1060.7 844.5 L1064.7 846.5 L1068.7 848.6 L1072.7 850.6 L1076.7 852.6 L1080.7 854.6 L1084.7 856.6 L1088.7 858.6 L1092.7 860.5 L1096.7 862.5 L1100.7 864.4 L1104.7 866.2 L1108.7 868.1 L1112.7 869.9 L1116.7 871.6 L1120.7 873.4 L1124.7 875.1 L1128.7 876.8 L1132.7 878.4 L1136.7 880.1 L1140.7 881.6 L1144.7 883.2 L1148.7 884.7 L1152.7 886.1 L1156.7 887.6 L1160.7 889.0 L1164.7 890.3 L1168.7 891.7 L1172.7 892.9 L1176.7 894.2 L1180.7 895.4 L1184.7 896.6 L1188.7 897.7 L1192.7 898.8 L1196.7 899.8 L1200.7 900.9 L1204.7 901.9 L1208.7 902.8 L1212.7 903.7 L1216.7 904.6 L1220.7 905.5 L1224.7 906.3 L1228.7 907.1 L1232.7 907.8 L1236.7 908.6 L1240.7 909.3 L1244.7 909.9 L1248.7 910.6 L1252.7 911.2 L1256.7 911.8 L1260.7 912.3 L1264.7 912.9 L1268.7 913.4 L1272.7 913.9 L1276.7 914.3 L1280.7 914.8 L1284.7 915.2 L1288.7 915.6 L1292.7 916.0 L1296.7 916.3 L1300.7 916.7 L1304.7 917.0 L1308.7 917.3 L1312.7 917.6 L1316.7 917.9 L1320.7 918.1 L1324.7 918.4 L1328.7 918.6 L1332.7 918.8 L1336.7 919.1 L1340.7 919.2 L1344.7 919.4 L1348.7 919.6 L1352.7 919.8 L1356.7 919.9 L1360.7 920.1 L1364.7 920.2 L1368.7 920.3 L1372.7 920.4 L1376.7 920.6 L1380.7 920.7 L1384.7 920.8 L1388.7 920.8 L1392.7 920.9 L1396.7 921.0 L1400.7 921.1 L1404.7 921.2 L1408.7 921.2 L1412.7 921.3 L1416.7 921.3 L1420.7 921.4 L1424.7 921.4 L1428.7 921.5 L1432.7 921.5 L1436.7 921.6 L1440.7 921.6 L1444.7 921.6 L1448.7 921.7 L1452.7 921.7 L1456.7 921.7 L1460.7 921.7 L1464.7 921.8 L1468.7 921.8 L1472.7 921.8 L1476.7 921.8 L1480.7 921.8 L1484.7 921.8 L1488.7 921.9 L1492.7 921.9 L1496.7 921.9 L1500.7 921.9 L1504.7 921.9 L1508.7 921.9 L1512.7 921.9 L1516.7 921.9 L1520.7 921.9 L1524.7 921.9 L1528.7 921.9 L1532.7 921.9 L1536.7 922.0 L1540.7 922.0 L1544.7 922.0 L1548.7 922.0 L1552.7 922.0 L1556.7 922.0 L1560.7 922.0 L1564.7 922.0 L1568.7 922.0 L1572.7 922.0 L1576.7 922.0 L1580.7 922.0 L1584.7 922.0 L1588.7 922.0 L1592.7 922.0 L1596.7 922.0 L1600.7 922.0 L1604.7 922.0 L1608.7 922.0 L1612.7 922.0 L1616.7 922.0 L1620.7 922.0 L1624.7 922.0 L1628.7 922.0 L1632.7 922.0 L1636.7 922.0 L1640.7 922.0 L1644.7 922.0 L1648.7 922.0 L1652.7 922.0 L1656.7 922.0 L1660.7 922.0 L1664.7 922.0 L1668.7 922.0 L1672.7 922.0 L1676.7 922.0 L1680.7 922.0 L1684.7 922.0 L1688.7 922.0 L1692.7 922.0 L1696.7 922.0 L1700.7 922.0 L1704.7 922.0 L1708.7 922.0 L1712.7 922.0 L1716.7 922.0 L1720.7 922.0 L1724.7 922.0 L1728.7 922.0 L1732.7 922.0 L1736.7 922.0 L1740.7 922.0 L1744.7 922.0 L1748.7 922.0 L1752.7 922.0 L1756.7 922.0 L1760.7 922.0 L1764.7 922.0 L1768.7 922.0 L1772.7 922.0 L1776.7 922.0 L1780.7 922.0 L1784.7 922.0 L1788.7 922.0 L1792.7 922.0 L1796.7 922.0 L1800.7 922.0 L1804.7 922.0 L1808.7 922.0 L1812.7 922.0 L1816.7 922.0 L1820.7 922.0 L1824.7 922.0 L1828.7 922.0 L1832.7 922.0 L1836.7 922.0 L1840.7 922.0 L1844.7 922.0 L1848.7 922.0 L1852.7 922.0 L1856.7 922.0 L1860.7 922.0 L1864.7 922.0 L1868.7 922.0 L1872.7 922.0 L1876.7 922.0 L1880.7 922.0 L1884.7 922.0 L1888.7 922.0 L1892.7 922.0 L1896.7 922.0 L1900.7 922.0 L1904.7 922.0 L1908.7 922.0 L1912.7 922.0 L1916.7 922.0 L1920.7 922.0 L1924.7 922.0 L1928.7 922.0 L1932.7 922.0 L1936.7 922.0 L1940.7 922.0 L1944.7 922.0 L1948.7 922.0 L1952.7 922.0 L1956.7 922.0 L1960.7 922.0 L1964.7 922.0 L1968.7 922.0 L1972.7 922.0 L1976.7 922.0 L1980.7 922.0 L1984.7 922.0 L1988.7 922.0 L1992.7 922.0 L1996.7 922.0 L2000.7 922.0 L2004.7 922.0 L2008.7 922.0 L2012.7 922.0 L2016.7 922.0 L2020.7 922.0 L2024.7 922.0 L2028.7 922.0 L2032.7 922.0 L2036.7 922.0 L2040.7 922.0 L2044.7 922.0 L2048.7 922.0 L2052.7 922.0 L2056.7 922.0 L2060.7 922.0 L2064.7 922.0 L2068.7 922.0 L2072.7 922.0 L2076.7 922.0 L2080.7 922.0 L2084.7 922.0 L2088.7 922.0 L2092.7 922.0 L2096.7 922.0 L2100.7 922.0 L2104.7 922.0 L2108.7 922.0 L2112.7 922.0 L2116.7 922.0 L2120.7 922.0 L2124.7 922.0 L2128.7 922.0 L2132.7 922.0 L2136.7 922.0 L2140.7 922.0 L2144.7 922.0 L2148.7 922.0 L2152.7 922.0 L2156.7 922.0 L2160.7 922.0 L2164.7 922.0 L2168.7 922.0 L2172.7 922.0 L2176.7 922.0 L2180.7 922.0 L2184.7 922.0 L2188.7 922.0 L2192.7 922.0 L2196.7 922.0 L2200.7 922.0 L2204.7 922.0 L2208.7 922.0 L2212.7 922.0 L2216.7 922.0 L2220.7 922.0 L2224.7 922.0 L2226.0 922.0" fill="none" stroke="#757575" stroke-width="7.0" stroke-dasharray="21 29.1" stroke-dashoffset="2.5" stroke-linecap="round"/>
<path d="M192.7 922.0 L196.7 922.0 L200.7 922.0 L204.7 922.0 L208.7 922.0 L212.7 922.0 L216.7 922.0 L220.7 922.0 L224.7 922.0 L228.7 922.0 L232.7 922.0 L236.7 922.0 L240.7 922.0 L244.7 922.0 L248.7 922.0 L252.7 922.0 L256.7 922.0 L260.7 922.0 L264.7 922.0 L268.7 922.0 L272.7 922.0 L276.7 922.0 L280.7 922.0 L284.7 922.0 L288.7 922.0 L292.7 922.0 L296.7 922.0 L300.7 922.0 L304.7 922.0 L308.7 922.0 L312.7 922.0 L316.7 922.0 L320.7 922.0 L324.7 922.0 L328.7 922.0 L332.7 922.0 L336.7 922.0 L340.7 922.0 L344.7 922.0 L348.7 922.0 L352.7 922.0 L356.7 922.0 L360.7 922.0 L364.7 922.0 L368.7 922.0 L372.7 922.0 L376.7 922.0 L380.7 922.0 L384.7 922.0 L388.7 922.0 L392.7 922.0 L396.7 922.0 L400.7 922.0 L404.7 922.0 L408.7 922.0 L412.7 922.0 L416.7 922.0 L420.7 922.0 L424.7 922.0 L428.7 922.0 L432.7 922.0 L436.7 922.0 L440.7 922.0 L444.7 922.0 L448.7 922.0 L452.7 922.0 L456.7 922.0 L460.7 922.0 L464.7 922.0 L468.7 922.0 L472.7 922.0 L476.7 922.0 L480.7 921.9 L484.7 921.9 L488.7 921.9 L492.7 921.9 L496.7 921.9 L500.7 921.9 L504.7 921.9 L508.7 921.9 L512.7 921.9 L516.7 921.9 L520.7 921.9 L524.7 921.9 L528.7 921.9 L532.7 921.9 L536.7 921.8 L540.7 921.8 L544.7 921.8 L548.7 921.8 L552.7 921.8 L556.7 921.8 L560.7 921.8 L564.7 921.7 L568.7 921.7 L572.7 921.7 L576.7 921.7 L580.7 921.7 L584.7 921.6 L588.7 921.6 L592.7 921.6 L596.7 921.6 L600.7 921.5 L604.7 921.5 L608.7 921.5 L612.7 921.4 L616.7 921.4 L620.7 921.3 L624.7 921.3 L628.7 921.2 L632.7 921.2 L636.7 921.1 L640.7 921.1 L644.7 921.0 L648.7 921.0 L652.7 920.9 L656.7 920.8 L660.7 920.8 L664.7 920.7 L668.7 920.6 L672.7 920.5 L676.7 920.4 L680.7 920.3 L684.7 920.2 L688.7 920.1 L692.7 920.0 L696.7 919.9 L700.7 919.8 L704.7 919.6 L708.7 919.5 L712.7 919.4 L716.7 919.2 L720.7 919.1 L724.7 918.9 L728.7 918.7 L732.7 918.6 L736.7 918.4 L740.7 918.2 L744.7 918.0 L748.7 917.8 L752.7 917.6 L756.7 917.3 L760.7 917.1 L764.7 916.8 L768.7 916.6 L772.7 916.3 L776.7 916.0 L780.7 915.8 L784.7 915.5 L788.7 915.2 L792.7 914.8 L796.7 914.5 L800.7 914.2 L804.7 913.8 L808.7 913.4 L812.7 913.0 L816.7 912.6 L820.7 912.2 L824.7 911.8 L828.7 911.4 L832.7 910.9 L836.7 910.5 L840.7 910.0 L844.7 909.5 L848.7 909.0 L852.7 908.5 L856.7 907.9 L860.7 907.4 L864.7 906.8 L868.7 906.2 L872.7 905.6 L876.7 905.0 L880.7 904.4 L884.7 903.8 L888.7 903.1 L892.7 902.4 L896.7 901.8 L900.7 901.1 L904.7 900.3 L908.7 899.6 L912.7 898.9 L916.7 898.1 L920.7 897.4 L924.7 896.6 L928.7 895.8 L932.7 895.0 L936.7 894.1 L940.7 893.3 L944.7 892.5 L948.7 891.6 L952.7 890.7 L956.7 889.9 L960.7 889.0 L964.7 888.1 L968.7 887.2 L972.7 886.2 L976.7 885.3 L980.7 884.4 L984.7 883.5 L988.7 882.5 L992.7 881.6 L996.7 880.6 L1000.7 879.6 L1004.7 878.7 L1008.7 877.7 L1012.7 876.8 L1016.7 875.8 L1020.7 874.8 L1024.7 873.9 L1028.7 872.9 L1032.7 872.0 L1036.7 871.0 L1040.7 870.1 L1044.7 869.1 L1048.7 868.2 L1052.7 867.2 L1056.7 866.3 L1060.7 865.4 L1064.7 864.5 L1068.7 863.6 L1072.7 862.8 L1076.7 861.9 L1080.7 861.0 L1084.7 860.2 L1088.7 859.4 L1092.7 858.6 L1096.7 857.8 L1100.7 857.1 L1104.7 856.3 L1108.7 855.6 L1112.7 854.9 L1116.7 854.2 L1120.7 853.6 L1124.7 853.0 L1128.7 852.3 L1132.7 851.8 L1136.7 851.2 L1140.7 850.7 L1144.7 850.2 L1148.7 849.7 L1152.7 849.3 L1156.7 848.9 L1160.7 848.5 L1164.7 848.2 L1168.7 847.9 L1172.7 847.6 L1176.7 847.3 L1180.7 847.1 L1184.7 846.9 L1188.7 846.8 L1192.7 846.7 L1196.7 846.6 L1200.7 846.5 L1204.7 846.5 L1208.7 846.5 L1212.7 846.6 L1216.7 846.6 L1220.7 846.7 L1224.7 846.9 L1228.7 847.0 L1232.7 847.2 L1236.7 847.4 L1240.7 847.7 L1244.7 848.0 L1248.7 848.3 L1252.7 848.6 L1256.7 849.0 L1260.7 849.4 L1264.7 849.8 L1268.7 850.2 L1272.7 850.7 L1276.7 851.2 L1280.7 851.7 L1284.7 852.3 L1288.7 852.8 L1292.7 853.4 L1296.7 854.0 L1300.7 854.7 L1304.7 855.3 L1308.7 856.0 L1312.7 856.7 L1316.7 857.4 L1320.7 858.1 L1324.7 858.9 L1328.7 859.6 L1332.7 860.4 L1336.7 861.2 L1340.7 862.0 L1344.7 862.8 L1348.7 863.7 L1352.7 864.5 L1356.7 865.4 L1360.7 866.2 L1364.7 867.1 L1368.7 868.0 L1372.7 868.9 L1376.7 869.8 L1380.7 870.7 L1384.7 871.6 L1388.7 872.5 L1392.7 873.4 L1396.7 874.3 L1400.7 875.2 L1404.7 876.1 L1408.7 877.1 L1412.7 878.0 L1416.7 878.9 L1420.7 879.8 L1424.7 880.7 L1428.7 881.6 L1432.7 882.5 L1436.7 883.4 L1440.7 884.3 L1444.7 885.2 L1448.7 886.1 L1452.7 886.9 L1456.7 887.8 L1460.7 888.7 L1464.7 889.5 L1468.7 890.3 L1472.7 891.2 L1476.7 892.0 L1480.7 892.8 L1484.7 893.6 L1488.7 894.4 L1492.7 895.2 L1496.7 895.9 L1500.7 896.7 L1504.7 897.4 L1508.7 898.2 L1512.7 898.9 L1516.7 899.6 L1520.7 900.3 L1524.7 901.0 L1528.7 901.6 L1532.7 902.3 L1536.7 902.9 L1540.7 903.5 L1544.7 904.2 L1548.7 904.8 L1552.7 905.3 L1556.7 905.9 L1560.7 906.5 L1564.7 907.0 L1568.7 907.6 L1572.7 908.1 L1576.7 908.6 L1580.7 909.1 L1584.7 909.5 L1588.7 910.0 L1592.7 910.5 L1596.7 910.9 L1600.7 911.3 L1604.7 911.8 L1608.7 912.2 L1612.7 912.5 L1616.7 912.9 L1620.7 913.3 L1624.7 913.6 L1628.7 914.0 L1632.7 914.3 L1636.7 914.7 L1640.7 915.0 L1644.7 915.3 L1648.7 915.6 L1652.7 915.8 L1656.7 916.1 L1660.7 916.4 L1664.7 916.6 L1668.7 916.9 L1672.7 917.1 L1676.7 917.3 L1680.7 917.5 L1684.7 917.7 L1688.7 917.9 L1692.7 918.1 L1696.7 918.3 L1700.7 918.5 L1704.7 918.7 L1708.7 918.8 L1712.7 919.0 L1716.7 919.1 L1720.7 919.3 L1724.7 919.4 L1728.7 919.6 L1732.7 919.7 L1736.7 919.8 L1740.7 919.9 L1744.7 920.0 L1748.7 920.1 L1752.7 920.2 L1756.7 920.3 L1760.7 920.4 L1764.7 920.5 L1768.7 920.6 L1772.7 920.7 L1776.7 920.7 L1780.7 920.8 L1784.7 920.9 L1788.7 920.9 L1792.7 921.0 L1796.7 921.1 L1800.7 921.1 L1804.7 921.2 L1808.7 921.2 L1812.7 921.3 L1816.7 921.3 L1820.7 921.3 L1824.7 921.4 L1828.7 921.4 L1832.7 921.5 L1836.7 921.5 L1840.7 921.5 L1844.7 921.5 L1848.7 921.6 L1852.7 921.6 L1856.7 921.6 L1860.7 921.7 L1864.7 921.7 L1868.7 921.7 L1872.7 921.7 L1876.7 921.7 L1880.7 921.7 L1884.7 921.8 L1888.7 921.8 L1892.7 921.8 L1896.7 921.8 L1900.7 921.8 L1904.7 921.8 L1908.7 921.8 L1912.7 921.9 L1916.7 921.9 L1920.7 921.9 L1924.7 921.9 L1928.7 921.9 L1932.7 921.9 L1936.7 921.9 L1940.7 921.9 L1944.7 921.9 L1948.7 921.9 L1952.7 921.9 L1956.7 921.9 L1960.7 921.9 L1964.7 921.9 L1968.7 921.9 L1972.7 922.0 L1976.7 922.0 L1980.7 922.0 L1984.7 922.0 L1988.7 922.0 L1992.7 922.0 L1996.7 922.0 L2000.7 922.0 L2004.7 922.0 L2008.7 922.0 L2012.7 922.0 L2016.7 922.0 L2020.7 922.0 L2024.7 922.0 L2028.7 922.0 L2032.7 922.0 L2036.7 922.0 L2040.7 922.0 L2044.7 922.0 L2048.7 922.0 L2052.7 922.0 L2056.7 922.0 L2060.7 922.0 L2064.7 922.0 L2068.7 922.0 L2072.7 922.0 L2076.7 922.0 L2080.7 922.0 L2084.7 922.0 L2088.7 922.0 L2092.7 922.0 L2096.7 922.0 L2100.7 922.0 L2104.7 922.0 L2108.7 922.0 L2112.7 922.0 L2116.7 922.0 L2120.7 922.0 L2124.7 922.0 L2128.7 922.0 L2132.7 922.0 L2136.7 922.0 L2140.7 922.0 L2144.7 922.0 L2148.7 922.0 L2152.7 922.0 L2156.7 922.0 L2160.7 922.0 L2164.7 922.0 L2168.7 922.0 L2172.7 922.0 L2176.7 922.0 L2180.7 922.0 L2184.7 922.0 L2188.7 922.0 L2192.7 922.0 L2196.7 922.0 L2200.7 922.0 L2204.7 922.0 L2208.7 922.0 L2212.7 922.0 L2216.7 922.0 L2220.7 922.0 L2224.7 922.0 L2226.0 922.0" fill="none" stroke="#ff3c3c" stroke-width="7.0" stroke-dasharray="21 29.1" stroke-dashoffset="2.5" stroke-linecap="round"/>
<path d="M192.7 922.0 L196.7 922.0 L200.7 922.0 L204.7 922.0 L208.7 922.0 L212.7 922.0 L216.7 922.0 L220.7 922.0 L224.7 922.0 L228.7 922.0 L232.7 922.0 L236.7 922.0 L240.7 922.0 L244.7 922.0 L248.7 922.0 L252.7 922.0 L256.7 922.0 L260.7 922.0 L264.7 922.0 L268.7 922.0 L272.7 922.0 L276.7 922.0 L280.7 922.0 L284.7 922.0 L288.7 922.0 L292.7 922.0 L296.7 922.0 L300.7 922.0 L304.7 922.0 L308.7 922.0 L312.7 922.0 L316.7 922.0 L320.7 922.0 L324.7 922.0 L328.7 922.0 L332.7 922.0 L336.7 922.0 L340.7 922.0 L344.7 922.0 L348.7 922.0 L352.7 922.0 L356.7 922.0 L360.7 922.0 L364.7 922.0 L368.7 922.0 L372.7 922.0 L376.7 922.0 L380.7 922.0 L384.7 922.0 L388.7 922.0 L392.7 922.0 L396.7 922.0 L400.7 922.0 L404.7 922.0 L408.7 922.0 L412.7 922.0 L416.7 922.0 L420.7 922.0 L424.7 922.0 L428.7 922.0 L432.7 922.0 L436.7 922.0 L440.7 922.0 L444.7 922.0 L448.7 922.0 L452.7 922.0 L456.7 922.0 L460.7 922.0 L464.7 922.0 L468.7 922.0 L472.7 922.0 L476.7 922.0 L480.7 922.0 L484.7 922.0 L488.7 922.0 L492.7 922.0 L496.7 922.0 L500.7 922.0 L504.7 922.0 L508.7 922.0 L512.7 922.0 L516.7 922.0 L520.7 922.0 L524.7 922.0 L528.7 922.0 L532.7 922.0 L536.7 922.0 L540.7 922.0 L544.7 922.0 L548.7 922.0 L552.7 922.0 L556.7 922.0 L560.7 922.0 L564.7 922.0 L568.7 922.0 L572.7 922.0 L576.7 922.0 L580.7 922.0 L584.7 922.0 L588.7 922.0 L592.7 922.0 L596.7 922.0 L600.7 922.0 L604.7 922.0 L608.7 922.0 L612.7 922.0 L616.7 922.0 L620.7 922.0 L624.7 922.0 L628.7 922.0 L632.7 922.0 L636.7 922.0 L640.7 922.0 L644.7 922.0 L648.7 922.0 L652.7 922.0 L656.7 921.9 L660.7 921.9 L664.7 921.9 L668.7 921.9 L672.7 921.9 L676.7 921.9 L680.7 921.9 L684.7 921.9 L688.7 921.9 L692.7 921.9 L696.7 921.9 L700.7 921.9 L704.7 921.9 L708.7 921.9 L712.7 921.9 L716.7 921.9 L720.7 921.9 L724.7 921.9 L728.7 921.9 L732.7 921.9 L736.7 921.9 L740.7 921.8 L744.7 921.8 L748.7 921.8 L752.7 921.8 L756.7 921.8 L760.7 921.8 L764.7 921.8 L768.7 921.8 L772.7 921.8 L776.7 921.8 L780.7 921.8 L784.7 921.7 L788.7 921.7 L792.7 921.7 L796.7 921.7 L800.7 921.7 L804.7 921.7 L808.7 921.7 L812.7 921.7 L816.7 921.6 L820.7 921.6 L824.7 921.6 L828.7 921.6 L832.7 921.6 L836.7 921.6 L840.7 921.5 L844.7 921.5 L848.7 921.5 L852.7 921.5 L856.7 921.5 L860.7 921.4 L864.7 921.4 L868.7 921.4 L872.7 921.4 L876.7 921.3 L880.7 921.3 L884.7 921.3 L888.7 921.2 L892.7 921.2 L896.7 921.2 L900.7 921.2 L904.7 921.1 L908.7 921.1 L912.7 921.1 L916.7 921.0 L920.7 921.0 L924.7 920.9 L928.7 920.9 L932.7 920.9 L936.7 920.8 L940.7 920.8 L944.7 920.7 L948.7 920.7 L952.7 920.6 L956.7 920.6 L960.7 920.5 L964.7 920.5 L968.7 920.4 L972.7 920.4 L976.7 920.3 L980.7 920.3 L984.7 920.2 L988.7 920.2 L992.7 920.1 L996.7 920.0 L1000.7 920.0 L1004.7 919.9 L1008.7 919.8 L1012.7 919.8 L1016.7 919.7 L1020.7 919.6 L1024.7 919.6 L1028.7 919.5 L1032.7 919.4 L1036.7 919.3 L1040.7 919.3 L1044.7 919.2 L1048.7 919.1 L1052.7 919.0 L1056.7 918.9 L1060.7 918.8 L1064.7 918.7 L1068.7 918.6 L1072.7 918.6 L1076.7 918.5 L1080.7 918.4 L1084.7 918.3 L1088.7 918.2 L1092.7 918.1 L1096.7 918.0 L1100.7 917.9 L1104.7 917.8 L1108.7 917.6 L1112.7 917.5 L1116.7 917.4 L1120.7 917.3 L1124.7 917.2 L1128.7 917.1 L1132.7 917.0 L1136.7 916.8 L1140.7 916.7 L1144.7 916.6 L1148.7 916.5 L1152.7 916.4 L1156.7 916.2 L1160.7 916.1 L1164.7 916.0 L1168.7 915.8 L1172.7 915.7 L1176.7 915.6 L1180.7 915.4 L1184.7 915.3 L1188.7 915.2 L1192.7 915.0 L1196.7 914.9 L1200.7 914.8 L1204.7 914.6 L1208.7 914.5 L1212.7 914.3 L1216.7 914.2 L1220.7 914.1 L1224.7 913.9 L1228.7 913.8 L1232.7 913.6 L1236.7 913.5 L1240.7 913.3 L1244.7 913.2 L1248.7 913.1 L1252.7 912.9 L1256.7 912.8 L1260.7 912.6 L1264.7 912.5 L1268.7 912.3 L1272.7 912.2 L1276.7 912.0 L1280.7 911.9 L1284.7 911.8 L1288.7 911.6 L1292.7 911.5 L1296.7 911.3 L1300.7 911.2 L1304.7 911.1 L1308.7 910.9 L1312.7 910.8 L1316.7 910.7 L1320.7 910.5 L1324.7 910.4 L1328.7 910.3 L1332.7 910.1 L1336.7 910.0 L1340.7 909.9 L1344.7 909.7 L1348.7 909.6 L1352.7 909.5 L1356.7 909.4 L1360.7 909.3 L1364.7 909.2 L1368.7 909.0 L1372.7 908.9 L1376.7 908.8 L1380.7 908.7 L1384.7 908.6 L1388.7 908.5 L1392.7 908.4 L1396.7 908.3 L1400.7 908.2 L1404.7 908.1 L1408.7 908.1 L1412.7 908.0 L1416.7 907.9 L1420.7 907.8 L1424.7 907.7 L1428.7 907.7 L1432.7 907.6 L1436.7 907.5 L1440.7 907.5 L1444.7 907.4 L1448.7 907.4 L1452.7 907.3 L1456.7 907.3 L1460.7 907.2 L1464.7 907.2 L1468.7 907.2 L1472.7 907.1 L1476.7 907.1 L1480.7 907.1 L1484.7 907.0 L1488.7 907.0 L1492.7 907.0 L1496.7 907.0 L1500.7 907.0 L1504.7 907.0 L1508.7 907.0 L1512.7 907.0 L1516.7 907.0 L1520.7 907.0 L1524.7 907.0 L1528.7 907.1 L1532.7 907.1 L1536.7 907.1 L1540.7 907.1 L1544.7 907.2 L1548.7 907.2 L1552.7 907.3 L1556.7 907.3 L1560.7 907.4 L1564.7 907.4 L1568.7 907.5 L1572.7 907.5 L1576.7 907.6 L1580.7 907.7 L1584.7 907.7 L1588.7 907.8 L1592.7 907.9 L1596.7 908.0 L1600.7 908.0 L1604.7 908.1 L1608.7 908.2 L1612.7 908.3 L1616.7 908.4 L1620.7 908.5 L1624.7 908.6 L1628.7 908.7 L1632.7 908.8 L1636.7 908.9 L1640.7 909.0 L1644.7 909.1 L1648.7 909.3 L1652.7 909.4 L1656.7 909.5 L1660.7 909.6 L1664.7 909.7 L1668.7 909.9 L1672.7 910.0 L1676.7 910.1 L1680.7 910.2 L1684.7 910.4 L1688.7 910.5 L1692.7 910.6 L1696.7 910.8 L1700.7 910.9 L1704.7 911.0 L1708.7 911.2 L1712.7 911.3 L1716.7 911.5 L1720.7 911.6 L1724.7 911.7 L1728.7 911.9 L1732.7 912.0 L1736.7 912.2 L1740.7 912.3 L1744.7 912.5 L1748.7 912.6 L1752.7 912.7 L1756.7 912.9 L1760.7 913.0 L1764.7 913.2 L1768.7 913.3 L1772.7 913.5 L1776.7 913.6 L1780.7 913.8 L1784.7 913.9 L1788.7 914.0 L1792.7 914.2 L1796.7 914.3 L1800.7 914.5 L1804.7 914.6 L1808.7 914.7 L1812.7 914.9 L1816.7 915.0 L1820.7 915.2 L1824.7 915.3 L1828.7 915.4 L1832.7 915.6 L1836.7 915.7 L1840.7 915.8 L1844.7 916.0 L1848.7 916.1 L1852.7 916.2 L1856.7 916.3 L1860.7 916.5 L1864.7 916.6 L1868.7 916.7 L1872.7 916.8 L1876.7 916.9 L1880.7 917.1 L1884.7 917.2 L1888.7 917.3 L1892.7 917.4 L1896.7 917.5 L1900.7 917.6 L1904.7 917.7 L1908.7 917.8 L1912.7 917.9 L1916.7 918.1 L1920.7 918.2 L1924.7 918.3 L1928.7 918.4 L1932.7 918.4 L1936.7 918.5 L1940.7 918.6 L1944.7 918.7 L1948.7 918.8 L1952.7 918.9 L1956.7 919.0 L1960.7 919.1 L1964.7 919.2 L1968.7 919.2 L1972.7 919.3 L1976.7 919.4 L1980.7 919.5 L1984.7 919.5 L1988.7 919.6 L1992.7 919.7 L1996.7 919.8 L2000.7 919.8 L2004.7 919.9 L2008.7 920.0 L2012.7 920.0 L2016.7 920.1 L2020.7 920.2 L2024.7 920.2 L2028.7 920.3 L2032.7 920.3 L2036.7 920.4 L2040.7 920.4 L2044.7 920.5 L2048.7 920.5 L2052.7 920.6 L2056.7 920.6 L2060.7 920.7 L2064.7 920.7 L2068.7 920.8 L2072.7 920.8 L2076.7 920.9 L2080.7 920.9 L2084.7 920.9 L2088.7 921.0 L2092.7 921.0 L2096.7 921.0 L2100.7 921.1 L2104.7 921.1 L2108.7 921.1 L2112.7 921.2 L2116.7 921.2 L2120.7 921.2 L2124.7 921.3 L2128.7 921.3 L2132.7 921.3 L2136.7 921.4 L2140.7 921.4 L2144.7 921.4 L2148.7 921.4 L2152.7 921.4 L2156.7 921.5 L2160.7 921.5 L2164.7 921.5 L2168.7 921.5 L2172.7 921.6 L2176.7 921.6 L2180.7 921.6 L2184.7 921.6 L2188.7 921.6 L2192.7 921.6 L2196.7 921.7 L2200.7 921.7 L2204.7 921.7 L2208.7 921.7 L2212.7 921.7 L2216.7 921.7 L2220.7 921.7 L2224.7 921.7 L2226.0 921.7" fill="none" stroke="#0070e6" stroke-width="7.0" stroke-dasharray="21 29.1" stroke-dashoffset="2.5" stroke-linecap="round"/>
<path d="M192.9 922.0 L196.9 922.0 L200.9 922.0 L204.9 922.0 L208.9 922.0 L212.9 921.9 L216.9 921.9 L220.9 921.9 L224.9 921.9 L228.9 921.9 L232.9 921.9 L236.9 921.9 L240.9 921.9 L244.9 921.9 L248.9 921.9 L252.9 921.9 L256.9 921.9 L260.9 921.8 L264.9 921.8 L268.9 921.8 L272.9 921.8 L276.9 921.8 L280.9 921.8 L284.9 921.7 L288.9 921.7 L292.9 921.7 L296.9 921.6 L300.9 921.6 L304.9 921.5 L308.9 921.5 L312.9 921.4 L316.9 921.3 L320.9 921.2 L324.9 921.1 L328.9 921.0 L332.9 920.9 L336.9 920.8 L340.9 920.7 L344.9 920.5 L348.9 920.3 L352.9 920.2 L356.9 920.0 L360.9 919.8 L364.9 919.6 L368.9 919.4 L372.9 919.2 L376.9 918.9 L380.9 918.7 L384.9 918.5 L388.9 918.2 L392.9 917.9 L396.9 917.7 L400.9 917.4 L404.9 917.1 L408.9 916.8 L412.9 916.5 L416.9 916.1 L420.9 915.8 L424.9 915.5 L428.9 915.1 L432.9 914.8 L436.9 914.4 L440.9 914.0 L444.9 913.6 L448.9 913.2 L452.9 912.8 L456.9 912.4 L460.9 912.0 L464.9 911.6 L468.9 911.1 L472.9 910.6 L476.9 910.2 L480.9 909.7 L484.9 909.2 L488.9 908.6 L492.9 908.1 L496.9 907.5 L500.9 907.0 L504.9 906.4 L508.9 905.8 L512.9 905.1 L516.9 904.5 L520.9 903.8 L524.9 903.1 L528.9 902.4 L532.9 901.7 L536.9 900.9 L540.9 900.1 L544.9 899.3 L548.9 898.5 L552.9 897.6 L556.9 896.7 L560.9 895.8 L564.9 894.9 L568.9 893.9 L572.9 892.9 L576.9 891.8 L580.9 890.7 L584.9 889.6 L588.9 888.5 L592.9 887.3 L596.9 886.0 L600.9 884.8 L604.9 883.5 L608.9 882.1 L612.9 880.7 L616.9 879.3 L620.9 877.8 L624.9 876.3 L628.9 874.7 L632.9 873.1 L636.9 871.4 L640.9 869.7 L644.9 868.0 L648.9 866.3 L652.9 864.5 L656.9 862.6 L660.9 860.7 L664.9 858.8 L668.9 856.9 L672.9 854.9 L676.9 852.9 L680.9 850.9 L684.9 848.8 L688.9 846.8 L692.9 844.7 L696.9 842.5 L700.9 840.4 L704.9 838.2 L708.9 836.0 L712.9 833.9 L716.9 831.7 L720.9 829.4 L724.9 827.2 L728.9 825.0 L732.9 822.8 L736.9 820.6 L740.9 818.4 L744.9 816.2 L748.9 814.0 L752.9 811.9 L756.9 809.7 L760.9 807.6 L764.9 805.5 L768.9 803.4 L772.9 801.4 L776.9 799.4 L780.9 797.5 L784.9 795.6 L788.9 793.7 L792.9 791.8 L796.9 790.0 L800.9 788.3 L804.9 786.6 L808.9 784.9 L812.9 783.3 L816.9 781.7 L820.9 780.2 L824.9 778.7 L828.9 777.3 L832.9 775.9 L836.9 774.6 L840.9 773.3 L844.9 772.1 L848.9 770.9 L852.9 769.8 L856.9 768.7 L860.9 767.7 L864.9 766.8 L868.9 765.9 L872.9 765.1 L876.9 764.3 L880.9 763.6 L884.9 762.9 L888.9 762.4 L892.9 761.9 L896.9 761.4 L900.9 761.1 L904.9 760.8 L908.9 760.6 L912.9 760.4 L916.9 760.3 L920.9 760.3 L924.9 760.4 L928.9 760.5 L932.9 760.7 L936.9 761.0 L940.9 761.3 L944.9 761.6 L948.9 762.1 L952.9 762.5 L956.9 763.0 L960.9 763.6 L964.9 764.2 L968.9 764.8 L972.9 765.5 L976.9 766.2 L980.9 766.9 L984.9 767.7 L988.9 768.4 L992.9 769.2 L996.9 770.1 L1000.9 770.9 L1004.9 771.7 L1008.9 772.6 L1012.9 773.5 L1016.9 774.4 L1020.9 775.3 L1024.9 776.2 L1028.9 777.1 L1032.9 778.1 L1036.9 779.0 L1040.9 780.0 L1044.9 781.0 L1048.9 782.0 L1052.9 783.0 L1056.9 784.0 L1060.9 785.0 L1064.9 786.0 L1068.9 787.0 L1072.9 788.0 L1076.9 789.0 L1080.9 790.0 L1084.9 791.1 L1088.9 792.1 L1092.9 793.1 L1096.9 794.1 L1100.9 795.1 L1104.9 796.1 L1108.9 797.0 L1112.9 798.0 L1116.9 799.0 L1120.9 800.0 L1124.9 800.9 L1128.9 801.9 L1132.9 802.9 L1136.9 803.8 L1140.9 804.8 L1144.9 805.7 L1148.9 806.6 L1152.9 807.6 L1156.9 808.5 L1160.9 809.4 L1164.9 810.4 L1168.9 811.3 L1172.9 812.2 L1176.9 813.1 L1180.9 814.0 L1184.9 814.9 L1188.9 815.8 L1192.9 816.7 L1196.9 817.6 L1200.9 818.4 L1204.9 819.3 L1208.9 820.2 L1212.9 821.0 L1216.9 821.8 L1220.9 822.7 L1224.9 823.5 L1228.9 824.3 L1232.9 825.1 L1236.9 825.9 L1240.9 826.6 L1244.9 827.4 L1248.9 828.2 L1252.9 828.9 L1256.9 829.7 L1260.9 830.5 L1264.9 831.2 L1268.9 832.0 L1272.9 832.8 L1276.9 833.6 L1280.9 834.3 L1284.9 835.1 L1288.9 836.0 L1292.9 836.8 L1296.9 837.6 L1300.9 838.5 L1304.9 839.4 L1308.9 840.3 L1312.9 841.2 L1316.9 842.1 L1320.9 843.1 L1324.9 844.0 L1328.9 845.0 L1332.9 846.0 L1336.9 847.0 L1340.9 848.0 L1344.9 849.0 L1348.9 850.0 L1352.9 851.0 L1356.9 852.0 L1360.9 853.0 L1364.9 854.0 L1368.9 855.0 L1372.9 856.0 L1376.9 857.0 L1380.9 858.0 L1384.9 859.0 L1388.9 860.0 L1392.9 861.0 L1396.9 862.0 L1400.9 862.9 L1404.9 863.9 L1408.9 864.9 L1412.9 865.8 L1416.9 866.7 L1420.9 867.7 L1424.9 868.6 L1428.9 869.5 L1432.9 870.4 L1436.9 871.3 L1440.9 872.1 L1444.9 873.0 L1448.9 873.8 L1452.9 874.7 L1456.9 875.5 L1460.9 876.3 L1464.9 877.1 L1468.9 877.9 L1472.9 878.7 L1476.9 879.4 L1480.9 880.2 L1484.9 880.9 L1488.9 881.7 L1492.9 882.4 L1496.9 883.1 L1500.9 883.8 L1504.9 884.5 L1508.9 885.2 L1512.9 885.8 L1516.9 886.5 L1520.9 887.1 L1524.9 887.7 L1528.9 888.4 L1532.9 889.0 L1536.9 889.6 L1540.9 890.2 L1544.9 890.8 L1548.9 891.3 L1552.9 891.9 L1556.9 892.4 L1560.9 893.0 L1564.9 893.5 L1568.9 894.0 L1572.9 894.6 L1576.9 895.1 L1580.9 895.6 L1584.9 896.0 L1588.9 896.5 L1592.9 897.0 L1596.9 897.5 L1600.9 897.9 L1604.9 898.4 L1608.9 898.8 L1612.9 899.3 L1616.9 899.7 L1620.9 900.1 L1624.9 900.6 L1628.9 901.0 L1632.9 901.4 L1636.9 901.8 L1640.9 902.2 L1644.9 902.6 L1648.9 903.0 L1652.9 903.4 L1656.9 903.8 L1660.9 904.2 L1664.9 904.6 L1668.9 905.0 L1672.9 905.4 L1676.9 905.7 L1680.9 906.1 L1684.9 906.5 L1688.9 906.8 L1692.9 907.2 L1696.9 907.5 L1700.9 907.8 L1704.9 908.1 L1708.9 908.5 L1712.9 908.8 L1716.9 909.1 L1720.9 909.4 L1724.9 909.7 L1728.9 910.0 L1732.9 910.3 L1736.9 910.5 L1740.9 910.8 L1744.9 911.1 L1748.9 911.3 L1752.9 911.6 L1756.9 911.9 L1760.9 912.1 L1764.9 912.4 L1768.9 912.6 L1772.9 912.8 L1776.9 913.1 L1780.9 913.3 L1784.9 913.5 L1788.9 913.7 L1792.9 914.0 L1796.9 914.2 L1800.9 914.4 L1804.9 914.6 L1808.9 914.8 L1812.9 915.0 L1816.9 915.2 L1820.9 915.4 L1824.9 915.5 L1828.9 915.7 L1832.9 915.9 L1836.9 916.1 L1840.9 916.2 L1844.9 916.4 L1848.9 916.6 L1852.9 916.7 L1856.9 916.9 L1860.9 917.0 L1864.9 917.2 L1868.9 917.3 L1872.9 917.4 L1876.9 917.6 L1880.9 917.7 L1884.9 917.8 L1888.9 917.9 L1892.9 918.1 L1896.9 918.2 L1900.9 918.3 L1904.9 918.4 L1908.9 918.5 L1912.9 918.5 L1916.9 918.6 L1920.9 918.7 L1924.9 918.8 L1928.9 918.9 L1932.9 918.9 L1936.9 919.0 L1940.9 919.1 L1944.9 919.1 L1948.9 919.2 L1952.9 919.3 L1956.9 919.3 L1960.9 919.4 L1964.9 919.4 L1968.9 919.5 L1972.9 919.6 L1976.9 919.6 L1980.9 919.7 L1984.9 919.8 L1988.9 919.8 L1992.9 919.9 L1996.9 919.9 L2000.9 920.0 L2004.9 920.1 L2008.9 920.1 L2012.9 920.2 L2016.9 920.3 L2020.9 920.3 L2024.9 920.4 L2028.9 920.4 L2032.9 920.5 L2036.9 920.5 L2040.9 920.6 L2044.9 920.6 L2048.9 920.7 L2052.9 920.7 L2056.9 920.8 L2060.9 920.8 L2064.9 920.9 L2068.9 920.9 L2072.9 921.0 L2076.9 921.0 L2080.9 921.0 L2084.9 921.1 L2088.9 921.1 L2092.9 921.1 L2096.9 921.2 L2100.9 921.2 L2104.9 921.3 L2108.9 921.3 L2112.9 921.3 L2116.9 921.3 L2120.9 921.4 L2124.9 921.4 L2128.9 921.4 L2132.9 921.5 L2136.9 921.5 L2140.9 921.5 L2144.9 921.5 L2148.9 921.6 L2152.9 921.6 L2156.9 921.6 L2160.9 921.6 L2164.9 921.6 L2168.9 921.6 L2172.9 921.7 L2176.9 921.7 L2180.9 921.7 L2184.9 921.7 L2188.9 921.7 L2192.9 921.7 L2196.9 921.7 L2200.9 921.7 L2204.9 921.7 L2208.9 921.8 L2212.9 921.8 L2216.9 921.8 L2220.9 921.8 L2224.9 921.8 L2227.3 921.8" fill="none" stroke="#00b068" stroke-width="7.2" stroke-linejoin="round" stroke-linecap="round"/>
<path d="M194.5 1161.2 L198.5 1161.2 L202.5 1161.2 L206.5 1161.2 L210.5 1161.2 L214.5 1161.2 L218.5 1161.2 L222.5 1161.2 L226.5 1161.2 L230.5 1161.2 L234.5 1161.1 L238.5 1161.1 L242.5 1161.1 L246.5 1161.1 L250.5 1161.1 L254.5 1161.1 L258.5 1161.1 L262.5 1161.0 L266.5 1161.0 L270.5 1161.0 L274.5 1161.0 L278.5 1160.9 L282.5 1160.9 L286.5 1160.9 L290.5 1160.8 L294.5 1160.8 L298.5 1160.8 L302.5 1160.7 L306.5 1160.7 L310.5 1160.6 L314.5 1160.6 L318.5 1160.5 L322.5 1160.5 L326.5 1160.4 L330.5 1160.4 L334.5 1160.3 L338.5 1160.2 L342.5 1160.1 L346.5 1160.1 L350.5 1160.0 L354.5 1159.9 L358.5 1159.8 L362.5 1159.7 L366.5 1159.6 L370.5 1159.4 L374.5 1159.3 L378.5 1159.2 L382.5 1159.0 L386.5 1158.9 L390.5 1158.7 L394.5 1158.6 L398.5 1158.4 L402.5 1158.2 L406.5 1158.0 L410.5 1157.8 L414.5 1157.6 L418.5 1157.4 L422.5 1157.1 L426.5 1156.9 L430.5 1156.6 L434.5 1156.3 L438.5 1156.0 L442.5 1155.7 L446.5 1155.4 L450.5 1155.1 L454.5 1154.7 L458.5 1154.4 L462.5 1154.0 L466.5 1153.6 L470.5 1153.2 L474.5 1152.7 L478.5 1152.3 L482.5 1151.8 L486.5 1151.3 L490.5 1150.8 L494.5 1150.2 L498.5 1149.7 L502.5 1149.1 L506.5 1148.5 L510.5 1147.9 L514.5 1147.2 L518.5 1146.5 L522.5 1145.8 L526.5 1145.1 L530.5 1144.3 L534.5 1143.6 L538.5 1142.8 L542.5 1141.9 L546.5 1141.1 L550.5 1140.2 L554.5 1139.3 L558.5 1138.3 L562.5 1137.6 L566.5 1136.8 L570.5 1135.9 L574.5 1135.1 L578.5 1134.2 L582.5 1133.3 L586.5 1132.3 L590.5 1131.4 L594.5 1130.4 L598.5 1129.4 L602.5 1128.3 L606.5 1127.2 L610.5 1126.1 L614.5 1125.0 L618.5 1123.9 L622.5 1122.7 L626.5 1121.5 L630.5 1120.2 L634.5 1119.0 L638.5 1117.7 L642.5 1116.4 L646.5 1115.0 L650.5 1113.7 L654.5 1112.3 L658.5 1110.9 L662.5 1109.4 L666.5 1108.0 L670.5 1106.5 L674.5 1105.0 L678.5 1103.5 L682.5 1102.0 L686.5 1100.4 L690.5 1098.8 L694.5 1097.2 L698.5 1095.6 L702.5 1094.0 L706.5 1092.3 L710.5 1090.7 L714.5 1089.0 L718.5 1087.3 L722.5 1085.6 L726.5 1083.9 L730.5 1082.1 L734.5 1080.4 L738.5 1078.7 L742.5 1076.9 L746.5 1075.2 L750.5 1073.5 L754.5 1071.7 L758.5 1070.0 L762.5 1068.3 L766.5 1066.6 L770.5 1065.0 L774.5 1063.4 L778.5 1061.8 L782.5 1060.2 L786.5 1058.6 L790.5 1057.0 L794.5 1055.3 L798.5 1053.7 L802.5 1052.1 L806.5 1050.6 L810.5 1049.1 L814.5 1047.7 L818.5 1046.4 L822.5 1045.1 L826.5 1043.9 L830.5 1042.7 L834.5 1041.6 L838.5 1040.6 L842.5 1039.6 L846.5 1038.8 L850.5 1037.9 L854.5 1037.2 L858.5 1036.5 L862.5 1035.9 L866.5 1035.4 L870.5 1035.0 L874.5 1034.6 L878.5 1034.3 L882.5 1034.1 L886.5 1033.9 L890.5 1033.9 L894.5 1034.0 L898.5 1034.1 L902.5 1034.3 L906.5 1034.6 L910.5 1034.9 L914.5 1035.3 L918.5 1035.8 L922.5 1036.3 L926.5 1036.9 L930.5 1037.6 L934.5 1038.3 L938.5 1039.1 L942.5 1039.9 L946.5 1040.8 L950.5 1041.7 L954.5 1042.7 L958.5 1043.8 L962.5 1044.9 L966.5 1046.0 L970.5 1047.2 L974.5 1048.5 L978.5 1049.8 L982.5 1051.1 L986.5 1052.5 L990.5 1053.9 L994.5 1055.3 L998.5 1056.8 L1002.5 1058.3 L1006.5 1059.9 L1010.5 1061.4 L1014.5 1063.0 L1018.5 1064.7 L1022.5 1066.3 L1026.5 1068.0 L1030.5 1069.7 L1034.5 1071.4 L1038.5 1073.1 L1042.5 1074.8 L1046.5 1076.6 L1050.5 1078.3 L1054.5 1080.1 L1058.5 1081.8 L1062.5 1083.6 L1066.5 1085.3 L1070.5 1087.1 L1074.5 1088.9 L1078.5 1090.6 L1082.5 1092.4 L1086.5 1094.1 L1090.5 1095.8 L1094.5 1097.5 L1098.5 1099.2 L1102.5 1100.9 L1106.5 1102.6 L1110.5 1104.3 L1114.5 1105.9 L1118.5 1107.5 L1122.5 1109.1 L1126.5 1110.7 L1130.5 1112.3 L1134.5 1113.8 L1138.5 1115.3 L1142.5 1116.8 L1146.5 1118.2 L1150.5 1119.7 L1154.5 1121.1 L1158.5 1122.5 L1162.5 1123.8 L1166.5 1125.1 L1170.5 1126.4 L1174.5 1127.7 L1178.5 1128.9 L1182.5 1130.1 L1186.5 1131.3 L1190.5 1132.5 L1194.5 1133.6 L1198.5 1134.7 L1202.5 1135.7 L1206.5 1136.8 L1210.5 1137.8 L1214.5 1138.7 L1218.5 1139.7 L1222.5 1140.6 L1226.5 1141.5 L1230.5 1142.3 L1234.5 1143.2 L1238.5 1144.0 L1242.5 1144.7 L1246.5 1145.5 L1250.5 1146.2 L1254.5 1146.9 L1258.5 1147.6 L1262.5 1148.2 L1266.5 1148.9 L1270.5 1149.5 L1274.5 1150.0 L1278.5 1150.6 L1282.5 1151.1 L1286.5 1151.6 L1290.5 1152.1 L1294.5 1152.6 L1298.5 1153.0 L1302.5 1153.5 L1306.5 1153.9 L1310.5 1154.3 L1314.5 1154.7 L1318.5 1155.0 L1322.5 1155.4 L1326.5 1155.7 L1330.5 1156.0 L1334.5 1156.3 L1338.5 1156.6 L1342.5 1156.8 L1346.5 1157.1 L1350.5 1157.3 L1354.5 1157.6 L1358.5 1157.8 L1362.5 1158.0 L1366.5 1158.2 L1370.5 1158.4 L1374.5 1158.6 L1378.5 1158.7 L1382.5 1158.9 L1386.5 1159.0 L1390.5 1159.2 L1394.5 1159.3 L1398.5 1159.4 L1402.5 1159.6 L1406.5 1159.7 L1410.5 1159.8 L1414.5 1159.9 L1418.5 1160.0 L1422.5 1160.1 L1426.5 1160.1 L1430.5 1160.2 L1434.5 1160.3 L1438.5 1160.4 L1442.5 1160.4 L1446.5 1160.5 L1450.5 1160.6 L1454.5 1160.6 L1458.5 1160.7 L1462.5 1160.7 L1466.5 1160.7 L1470.5 1160.8 L1474.5 1160.8 L1478.5 1160.9 L1482.5 1160.9 L1486.5 1160.9 L1490.5 1160.9 L1494.5 1161.0 L1498.5 1161.0 L1502.5 1161.0 L1506.5 1161.0 L1510.5 1161.1 L1514.5 1161.1 L1518.5 1161.1 L1522.5 1161.1 L1526.5 1161.1 L1530.5 1161.1 L1534.5 1161.2 L1538.5 1161.2 L1542.5 1161.2 L1546.5 1161.2 L1550.5 1161.2 L1554.5 1161.2 L1558.5 1161.2 L1562.5 1161.2 L1566.5 1161.2 L1570.5 1161.2 L1574.5 1161.2 L1578.5 1161.2 L1582.5 1161.2 L1586.5 1161.3 L1590.5 1161.3 L1594.5 1161.3 L1598.5 1161.3 L1602.5 1161.3 L1606.5 1161.3 L1610.5 1161.3 L1614.5 1161.3 L1618.5 1161.3 L1622.5 1161.3 L1626.5 1161.3 L1630.5 1161.3 L1634.5 1161.3 L1638.5 1161.3 L1642.5 1161.3 L1646.5 1161.3 L1650.5 1161.3 L1654.5 1161.3 L1658.5 1161.3 L1662.5 1161.3 L1666.5 1161.3 L1670.5 1161.3 L1674.5 1161.3 L1678.5 1161.3 L1682.5 1161.3 L1686.5 1161.3 L1690.5 1161.3 L1694.5 1161.3 L1698.5 1161.3 L1702.5 1161.3 L1706.5 1161.3 L1710.5 1161.3 L1714.5 1161.3 L1718.5 1161.3 L1722.5 1161.3 L1726.5 1161.3 L1730.5 1161.3 L1734.5 1161.3 L1738.5 1161.3 L1742.5 1161.3 L1746.5 1161.3 L1750.5 1161.3 L1754.5 1161.3 L1758.5 1161.3 L1762.5 1161.3 L1766.5 1161.3 L1770.5 1161.3 L1774.5 1161.3 L1778.5 1161.3 L1782.5 1161.3 L1786.5 1161.3 L1790.5 1161.3 L1794.5 1161.3 L1798.5 1161.3 L1802.5 1161.3 L1806.5 1161.3 L1810.5 1161.3 L1814.5 1161.3 L1818.5 1161.3 L1822.5 1161.3 L1826.5 1161.3 L1830.5 1161.3 L1834.5 1161.3 L1838.5 1161.3 L1842.5 1161.3 L1846.5 1161.3 L1850.5 1161.3 L1854.5 1161.3 L1858.5 1161.3 L1862.5 1161.3 L1866.5 1161.3 L1870.5 1161.3 L1874.5 1161.3 L1878.5 1161.3 L1882.5 1161.3 L1886.5 1161.3 L1890.5 1161.3 L1894.5 1161.3 L1898.5 1161.3 L1902.5 1161.3 L1906.5 1161.3 L1910.5 1161.3 L1914.5 1161.3 L1918.5 1161.3 L1922.5 1161.3 L1926.5 1161.3 L1930.5 1161.3 L1934.5 1161.3 L1938.5 1161.3 L1942.5 1161.3 L1946.5 1161.3 L1950.5 1161.3 L1954.5 1161.3 L1958.5 1161.3 L1962.5 1161.3 L1966.5 1161.3 L1970.5 1161.3 L1974.5 1161.3 L1978.5 1161.3 L1982.5 1161.3 L1986.5 1161.3 L1990.5 1161.3 L1994.5 1161.3 L1998.5 1161.3 L2002.5 1161.3 L2006.5 1161.3 L2010.5 1161.3 L2014.5 1161.3 L2018.5 1161.3 L2022.5 1161.3 L2026.5 1161.3 L2030.5 1161.3 L2034.5 1161.3 L2038.5 1161.3 L2042.5 1161.3 L2046.5 1161.3 L2050.5 1161.3 L2054.5 1161.3 L2058.5 1161.3 L2062.5 1161.3 L2066.5 1161.3 L2070.5 1161.3 L2074.5 1161.3 L2078.5 1161.3 L2082.5 1161.3 L2086.5 1161.3 L2090.5 1161.3 L2094.5 1161.3 L2098.5 1161.3 L2102.5 1161.3 L2106.5 1161.3 L2110.5 1161.3 L2114.5 1161.3 L2118.5 1161.3 L2122.5 1161.3 L2126.5 1161.3 L2130.5 1161.3 L2134.5 1161.3 L2138.5 1161.3 L2142.5 1161.3 L2146.5 1161.3 L2150.5 1161.3 L2154.5 1161.3 L2158.5 1161.3 L2162.5 1161.3 L2166.5 1161.3 L2170.5 1161.3 L2174.5 1161.3 L2178.5 1161.3 L2182.5 1161.3 L2186.5 1161.3 L2190.5 1161.3 L2194.5 1161.3 L2198.5 1161.3 L2202.5 1161.3 L2206.5 1161.3 L2210.5 1161.3 L2214.5 1161.3 L2218.5 1161.3 L2222.5 1161.3 L2226.0 1161.3" fill="none" stroke="#757575" stroke-width="7.0" stroke-dasharray="21 29.1" stroke-dashoffset="2.5" stroke-linecap="round"/>
<path d="M194.5 1161.3 L198.5 1161.3 L202.5 1161.3 L206.5 1161.3 L210.5 1161.3 L214.5 1161.3 L218.5 1161.3 L222.5 1161.3 L226.5 1161.3 L230.5 1161.3 L234.5 1161.3 L238.5 1161.3 L242.5 1161.3 L246.5 1161.3 L250.5 1161.3 L254.5 1161.3 L258.5 1161.3 L262.5 1161.3 L266.5 1161.3 L270.5 1161.3 L274.5 1161.3 L278.5 1161.3 L282.5 1161.3 L286.5 1161.3 L290.5 1161.3 L294.5 1161.3 L298.5 1161.3 L302.5 1161.3 L306.5 1161.3 L310.5 1161.3 L314.5 1161.3 L318.5 1161.3 L322.5 1161.3 L326.5 1161.3 L330.5 1161.3 L334.5 1161.3 L338.5 1161.3 L342.5 1161.3 L346.5 1161.3 L350.5 1161.3 L354.5 1161.3 L358.5 1161.3 L362.5 1161.3 L366.5 1161.3 L370.5 1161.3 L374.5 1161.3 L378.5 1161.3 L382.5 1161.3 L386.5 1161.3 L390.5 1161.3 L394.5 1161.3 L398.5 1161.3 L402.5 1161.3 L406.5 1161.3 L410.5 1161.3 L414.5 1161.3 L418.5 1161.3 L422.5 1161.3 L426.5 1161.3 L430.5 1161.3 L434.5 1161.3 L438.5 1161.3 L442.5 1161.3 L446.5 1161.3 L450.5 1161.3 L454.5 1161.3 L458.5 1161.3 L462.5 1161.3 L466.5 1161.3 L470.5 1161.3 L474.5 1161.3 L478.5 1161.3 L482.5 1161.3 L486.5 1161.3 L490.5 1161.3 L494.5 1161.3 L498.5 1161.3 L502.5 1161.3 L506.5 1161.3 L510.5 1161.3 L514.5 1161.3 L518.5 1161.3 L522.5 1161.3 L526.5 1161.3 L530.5 1161.3 L534.5 1161.3 L538.5 1161.2 L542.5 1161.2 L546.5 1161.2 L550.5 1161.2 L554.5 1161.2 L558.5 1161.2 L562.5 1161.2 L566.5 1161.2 L570.5 1161.2 L574.5 1161.2 L578.5 1161.2 L582.5 1161.2 L586.5 1161.2 L590.5 1161.1 L594.5 1161.1 L598.5 1161.1 L602.5 1161.1 L606.5 1161.1 L610.5 1161.1 L614.5 1161.1 L618.5 1161.0 L622.5 1161.0 L626.5 1161.0 L630.5 1161.0 L634.5 1160.9 L638.5 1160.9 L642.5 1160.9 L646.5 1160.9 L650.5 1160.8 L654.5 1160.8 L658.5 1160.7 L662.5 1160.7 L666.5 1160.7 L670.5 1160.6 L674.5 1160.6 L678.5 1160.5 L682.5 1160.5 L686.5 1160.4 L690.5 1160.3 L694.5 1160.3 L698.5 1160.2 L702.5 1160.1 L706.5 1160.1 L710.5 1160.0 L714.5 1159.9 L718.5 1159.8 L722.5 1159.7 L726.5 1159.6 L730.5 1159.5 L734.5 1159.4 L738.5 1159.3 L742.5 1159.1 L746.5 1159.0 L750.5 1158.9 L754.5 1158.7 L758.5 1158.6 L762.5 1158.4 L766.5 1158.2 L770.5 1158.0 L774.5 1157.9 L778.5 1157.7 L782.5 1157.5 L786.5 1157.2 L790.5 1157.0 L794.5 1156.8 L798.5 1156.5 L802.5 1156.3 L806.5 1156.0 L810.5 1155.7 L814.5 1155.5 L818.5 1155.1 L822.5 1154.8 L826.5 1154.5 L830.5 1154.2 L834.5 1153.8 L838.5 1153.5 L842.5 1153.1 L846.5 1152.7 L850.5 1152.3 L854.5 1151.9 L858.5 1151.4 L862.5 1151.0 L866.5 1150.5 L870.5 1150.0 L874.5 1149.5 L878.5 1149.0 L882.5 1148.5 L886.5 1147.9 L890.5 1147.4 L894.5 1146.8 L898.5 1146.2 L902.5 1145.6 L906.5 1145.0 L910.5 1144.3 L914.5 1143.7 L918.5 1143.0 L922.5 1142.3 L926.5 1141.6 L930.5 1140.9 L934.5 1140.2 L938.5 1139.4 L942.5 1138.6 L946.5 1137.9 L950.5 1137.1 L954.5 1136.3 L958.5 1135.4 L962.5 1134.6 L966.5 1133.7 L970.5 1132.9 L974.5 1132.0 L978.5 1131.1 L982.5 1130.2 L986.5 1129.3 L990.5 1128.4 L994.5 1127.5 L998.5 1126.5 L1002.5 1125.6 L1006.5 1124.6 L1010.5 1123.7 L1014.5 1122.7 L1018.5 1121.8 L1022.5 1120.8 L1026.5 1119.8 L1030.5 1118.8 L1034.5 1117.9 L1038.5 1116.9 L1042.5 1115.9 L1046.5 1115.0 L1050.5 1114.0 L1054.5 1113.0 L1058.5 1112.1 L1062.5 1111.1 L1066.5 1110.2 L1070.5 1109.3 L1074.5 1108.3 L1078.5 1107.4 L1082.5 1106.5 L1086.5 1105.6 L1090.5 1104.8 L1094.5 1103.9 L1098.5 1103.1 L1102.5 1102.3 L1106.5 1101.5 L1110.5 1100.7 L1114.5 1099.9 L1118.5 1099.2 L1122.5 1098.5 L1126.5 1097.8 L1130.5 1097.1 L1134.5 1096.5 L1138.5 1095.9 L1142.5 1095.3 L1146.5 1094.7 L1150.5 1094.2 L1154.5 1093.7 L1158.5 1093.2 L1162.5 1092.8 L1166.5 1092.4 L1170.5 1092.0 L1174.5 1091.7 L1178.5 1091.4 L1182.5 1091.2 L1186.5 1090.9 L1190.5 1090.7 L1194.5 1090.6 L1198.5 1090.4 L1202.5 1090.4 L1206.5 1090.3 L1210.5 1090.3 L1214.5 1090.3 L1218.5 1090.4 L1222.5 1090.5 L1226.5 1090.6 L1230.5 1090.8 L1234.5 1091.0 L1238.5 1091.2 L1242.5 1091.5 L1246.5 1091.8 L1250.5 1092.1 L1254.5 1092.5 L1258.5 1092.9 L1262.5 1093.3 L1266.5 1093.8 L1270.5 1094.2 L1274.5 1094.8 L1278.5 1095.3 L1282.5 1095.9 L1286.5 1096.5 L1290.5 1097.1 L1294.5 1097.8 L1298.5 1098.5 L1302.5 1099.2 L1306.5 1099.9 L1310.5 1100.7 L1314.5 1101.4 L1318.5 1102.2 L1322.5 1103.0 L1326.5 1103.9 L1330.5 1104.7 L1334.5 1105.6 L1338.5 1106.4 L1342.5 1107.3 L1346.5 1108.2 L1350.5 1109.1 L1354.5 1110.0 L1358.5 1111.0 L1362.5 1111.9 L1366.5 1112.9 L1370.5 1113.8 L1374.5 1114.8 L1378.5 1115.7 L1382.5 1116.7 L1386.5 1117.6 L1390.5 1118.6 L1394.5 1119.6 L1398.5 1120.5 L1402.5 1121.5 L1406.5 1122.4 L1410.5 1123.4 L1414.5 1124.3 L1418.5 1125.3 L1422.5 1126.2 L1426.5 1127.1 L1430.5 1128.1 L1434.5 1129.0 L1438.5 1129.9 L1442.5 1130.8 L1446.5 1131.6 L1450.5 1132.5 L1454.5 1133.4 L1458.5 1134.2 L1462.5 1135.0 L1466.5 1135.9 L1470.5 1136.7 L1474.5 1137.5 L1478.5 1138.2 L1482.5 1139.0 L1486.5 1139.8 L1490.5 1140.5 L1494.5 1141.2 L1498.5 1141.9 L1502.5 1142.6 L1506.5 1143.3 L1510.5 1144.0 L1514.5 1144.6 L1518.5 1145.2 L1522.5 1145.8 L1526.5 1146.4 L1530.5 1147.0 L1534.5 1147.6 L1538.5 1148.1 L1542.5 1148.7 L1546.5 1149.2 L1550.5 1149.7 L1554.5 1150.2 L1558.5 1150.6 L1562.5 1151.1 L1566.5 1151.5 L1570.5 1152.0 L1574.5 1152.4 L1578.5 1152.8 L1582.5 1153.2 L1586.5 1153.5 L1590.5 1153.9 L1594.5 1154.2 L1598.5 1154.6 L1602.5 1154.9 L1606.5 1155.2 L1610.5 1155.5 L1614.5 1155.8 L1618.5 1156.0 L1622.5 1156.3 L1626.5 1156.6 L1630.5 1156.8 L1634.5 1157.0 L1638.5 1157.3 L1642.5 1157.5 L1646.5 1157.7 L1650.5 1157.9 L1654.5 1158.0 L1658.5 1158.2 L1662.5 1158.4 L1666.5 1158.6 L1670.5 1158.7 L1674.5 1158.9 L1678.5 1159.0 L1682.5 1159.1 L1686.5 1159.2 L1690.5 1159.4 L1694.5 1159.5 L1698.5 1159.6 L1702.5 1159.7 L1706.5 1159.8 L1710.5 1159.9 L1714.5 1160.0 L1718.5 1160.0 L1722.5 1160.1 L1726.5 1160.2 L1730.5 1160.3 L1734.5 1160.3 L1738.5 1160.4 L1742.5 1160.4 L1746.5 1160.5 L1750.5 1160.6 L1754.5 1160.6 L1758.5 1160.7 L1762.5 1160.7 L1766.5 1160.7 L1770.5 1160.8 L1774.5 1160.8 L1778.5 1160.8 L1782.5 1160.9 L1786.5 1160.9 L1790.5 1160.9 L1794.5 1161.0 L1798.5 1161.0 L1802.5 1161.0 L1806.5 1161.0 L1810.5 1161.0 L1814.5 1161.1 L1818.5 1161.1 L1822.5 1161.1 L1826.5 1161.1 L1830.5 1161.1 L1834.5 1161.1 L1838.5 1161.2 L1842.5 1161.2 L1846.5 1161.2 L1850.5 1161.2 L1854.5 1161.2 L1858.5 1161.2 L1862.5 1161.2 L1866.5 1161.2 L1870.5 1161.2 L1874.5 1161.2 L1878.5 1161.2 L1882.5 1161.2 L1886.5 1161.2 L1890.5 1161.2 L1894.5 1161.3 L1898.5 1161.3 L1902.5 1161.3 L1906.5 1161.3 L1910.5 1161.3 L1914.5 1161.3 L1918.5 1161.3 L1922.5 1161.3 L1926.5 1161.3 L1930.5 1161.3 L1934.5 1161.3 L1938.5 1161.3 L1942.5 1161.3 L1946.5 1161.3 L1950.5 1161.3 L1954.5 1161.3 L1958.5 1161.3 L1962.5 1161.3 L1966.5 1161.3 L1970.5 1161.3 L1974.5 1161.3 L1978.5 1161.3 L1982.5 1161.3 L1986.5 1161.3 L1990.5 1161.3 L1994.5 1161.3 L1998.5 1161.3 L2002.5 1161.3 L2006.5 1161.3 L2010.5 1161.3 L2014.5 1161.3 L2018.5 1161.3 L2022.5 1161.3 L2026.5 1161.3 L2030.5 1161.3 L2034.5 1161.3 L2038.5 1161.3 L2042.5 1161.3 L2046.5 1161.3 L2050.5 1161.3 L2054.5 1161.3 L2058.5 1161.3 L2062.5 1161.3 L2066.5 1161.3 L2070.5 1161.3 L2074.5 1161.3 L2078.5 1161.3 L2082.5 1161.3 L2086.5 1161.3 L2090.5 1161.3 L2094.5 1161.3 L2098.5 1161.3 L2102.5 1161.3 L2106.5 1161.3 L2110.5 1161.3 L2114.5 1161.3 L2118.5 1161.3 L2122.5 1161.3 L2126.5 1161.3 L2130.5 1161.3 L2134.5 1161.3 L2138.5 1161.3 L2142.5 1161.3 L2146.5 1161.3 L2150.5 1161.3 L2154.5 1161.3 L2158.5 1161.3 L2162.5 1161.3 L2166.5 1161.3 L2170.5 1161.3 L2174.5 1161.3 L2178.5 1161.3 L2182.5 1161.3 L2186.5 1161.3 L2190.5 1161.3 L2194.5 1161.3 L2198.5 1161.3 L2202.5 1161.3 L2206.5 1161.3 L2210.5 1161.3 L2214.5 1161.3 L2218.5 1161.3 L2222.5 1161.3 L2226.0 1161.3" fill="none" stroke="#ff3c3c" stroke-width="7.0" stroke-dasharray="21 29.1" stroke-dashoffset="2.5" stroke-linecap="round"/>
<path d="M194.5 1161.3 L198.5 1161.3 L202.5 1161.3 L206.5 1161.3 L210.5 1161.3 L214.5 1161.3 L218.5 1161.3 L222.5 1161.3 L226.5 1161.3 L230.5 1161.3 L234.5 1161.3 L238.5 1161.3 L242.5 1161.3 L246.5 1161.3 L250.5 1161.3 L254.5 1161.3 L258.5 1161.3 L262.5 1161.3 L266.5 1161.3 L270.5 1161.3 L274.5 1161.3 L278.5 1161.3 L282.5 1161.3 L286.5 1161.3 L290.5 1161.3 L294.5 1161.3 L298.5 1161.3 L302.5 1161.3 L306.5 1161.3 L310.5 1161.3 L314.5 1161.3 L318.5 1161.3 L322.5 1161.3 L326.5 1161.3 L330.5 1161.3 L334.5 1161.3 L338.5 1161.3 L342.5 1161.3 L346.5 1161.3 L350.5 1161.3 L354.5 1161.3 L358.5 1161.3 L362.5 1161.3 L366.5 1161.3 L370.5 1161.3 L374.5 1161.3 L378.5 1161.3 L382.5 1161.3 L386.5 1161.3 L390.5 1161.3 L394.5 1161.3 L398.5 1161.3 L402.5 1161.3 L406.5 1161.3 L410.5 1161.3 L414.5 1161.3 L418.5 1161.3 L422.5 1161.3 L426.5 1161.3 L430.5 1161.3 L434.5 1161.3 L438.5 1161.3 L442.5 1161.3 L446.5 1161.3 L450.5 1161.3 L454.5 1161.3 L458.5 1161.3 L462.5 1161.3 L466.5 1161.3 L470.5 1161.3 L474.5 1161.3 L478.5 1161.3 L482.5 1161.3 L486.5 1161.3 L490.5 1161.3 L494.5 1161.3 L498.5 1161.3 L502.5 1161.3 L506.5 1161.3 L510.5 1161.3 L514.5 1161.3 L518.5 1161.3 L522.5 1161.3 L526.5 1161.3 L530.5 1161.3 L534.5 1161.3 L538.5 1161.3 L542.5 1161.3 L546.5 1161.3 L550.5 1161.3 L554.5 1161.3 L558.5 1161.3 L562.5 1161.3 L566.5 1161.3 L570.5 1161.3 L574.5 1161.3 L578.5 1161.3 L582.5 1161.3 L586.5 1161.3 L590.5 1161.3 L594.5 1161.3 L598.5 1161.3 L602.5 1161.3 L606.5 1161.3 L610.5 1161.3 L614.5 1161.3 L618.5 1161.3 L622.5 1161.3 L626.5 1161.3 L630.5 1161.3 L634.5 1161.3 L638.5 1161.3 L642.5 1161.3 L646.5 1161.3 L650.5 1161.3 L654.5 1161.3 L658.5 1161.3 L662.5 1161.3 L666.5 1161.3 L670.5 1161.3 L674.5 1161.3 L678.5 1161.3 L682.5 1161.3 L686.5 1161.3 L690.5 1161.3 L694.5 1161.3 L698.5 1161.3 L702.5 1161.3 L706.5 1161.3 L710.5 1161.3 L714.5 1161.3 L718.5 1161.3 L722.5 1161.3 L726.5 1161.3 L730.5 1161.3 L734.5 1161.3 L738.5 1161.3 L742.5 1161.3 L746.5 1161.3 L750.5 1161.3 L754.5 1161.3 L758.5 1161.3 L762.5 1161.3 L766.5 1161.3 L770.5 1161.3 L774.5 1161.3 L778.5 1161.3 L782.5 1161.3 L786.5 1161.3 L790.5 1161.3 L794.5 1161.3 L798.5 1161.3 L802.5 1161.3 L806.5 1161.3 L810.5 1161.3 L814.5 1161.3 L818.5 1161.3 L822.5 1161.3 L826.5 1161.3 L830.5 1161.3 L834.5 1161.3 L838.5 1161.3 L842.5 1161.3 L846.5 1161.3 L850.5 1161.3 L854.5 1161.3 L858.5 1161.3 L862.5 1161.3 L866.5 1161.3 L870.5 1161.3 L874.5 1161.3 L878.5 1161.3 L882.5 1161.3 L886.5 1161.3 L890.5 1161.3 L894.5 1161.3 L898.5 1161.3 L902.5 1161.3 L906.5 1161.3 L910.5 1161.3 L914.5 1161.3 L918.5 1161.3 L922.5 1161.3 L926.5 1161.3 L930.5 1161.3 L934.5 1161.3 L938.5 1161.3 L942.5 1161.3 L946.5 1161.3 L950.5 1161.3 L954.5 1161.3 L958.5 1161.3 L962.5 1161.3 L966.5 1161.3 L970.5 1161.3 L974.5 1161.3 L978.5 1161.3 L982.5 1161.3 L986.5 1161.3 L990.5 1161.3 L994.5 1161.3 L998.5 1161.3 L1002.5 1161.3 L1006.5 1161.3 L1010.5 1161.3 L1014.5 1161.3 L1018.5 1161.3 L1022.5 1161.3 L1026.5 1161.2 L1030.5 1161.2 L1034.5 1161.2 L1038.5 1161.2 L1042.5 1161.2 L1046.5 1161.2 L1050.5 1161.2 L1054.5 1161.2 L1058.5 1161.2 L1062.5 1161.2 L1066.5 1161.2 L1070.5 1161.2 L1074.5 1161.1 L1078.5 1161.1 L1082.5 1161.1 L1086.5 1161.1 L1090.5 1161.1 L1094.5 1161.0 L1098.5 1161.0 L1102.5 1161.0 L1106.5 1161.0 L1110.5 1160.9 L1114.5 1160.9 L1118.5 1160.9 L1122.5 1160.9 L1126.5 1160.8 L1130.5 1160.8 L1134.5 1160.7 L1138.5 1160.7 L1142.5 1160.6 L1146.5 1160.6 L1150.5 1160.5 L1154.5 1160.5 L1158.5 1160.4 L1162.5 1160.4 L1166.5 1160.3 L1170.5 1160.2 L1174.5 1160.1 L1178.5 1160.1 L1182.5 1160.0 L1186.5 1159.9 L1190.5 1159.8 L1194.5 1159.7 L1198.5 1159.6 L1202.5 1159.5 L1206.5 1159.4 L1210.5 1159.2 L1214.5 1159.1 L1218.5 1159.0 L1222.5 1158.8 L1226.5 1158.7 L1230.5 1158.5 L1234.5 1158.4 L1238.5 1158.2 L1242.5 1158.0 L1246.5 1157.9 L1250.5 1157.7 L1254.5 1157.5 L1258.5 1157.3 L1262.5 1157.1 L1266.5 1156.9 L1270.5 1156.6 L1274.5 1156.4 L1278.5 1156.2 L1282.5 1155.9 L1286.5 1155.7 L1290.5 1155.4 L1294.5 1155.2 L1298.5 1154.9 L1302.5 1154.6 L1306.5 1154.3 L1310.5 1154.1 L1314.5 1153.8 L1318.5 1153.5 L1322.5 1153.2 L1326.5 1152.9 L1330.5 1152.5 L1334.5 1152.2 L1338.5 1151.9 L1342.5 1151.6 L1346.5 1151.3 L1350.5 1150.9 L1354.5 1150.6 L1358.5 1150.3 L1362.5 1150.0 L1366.5 1149.6 L1370.5 1149.3 L1374.5 1149.0 L1378.5 1148.6 L1382.5 1148.3 L1386.5 1148.0 L1390.5 1147.7 L1394.5 1147.4 L1398.5 1147.1 L1402.5 1146.7 L1406.5 1146.4 L1410.5 1146.2 L1414.5 1145.9 L1418.5 1145.6 L1422.5 1145.3 L1426.5 1145.1 L1430.5 1144.8 L1434.5 1144.6 L1438.5 1144.3 L1442.5 1144.1 L1446.5 1143.9 L1450.5 1143.7 L1454.5 1143.5 L1458.5 1143.3 L1462.5 1143.2 L1466.5 1143.0 L1470.5 1142.9 L1474.5 1142.8 L1478.5 1142.7 L1482.5 1142.6 L1486.5 1142.5 L1490.5 1142.5 L1494.5 1142.4 L1498.5 1142.4 L1502.5 1142.4 L1506.5 1142.4 L1510.5 1142.4 L1514.5 1142.5 L1518.5 1142.5 L1522.5 1142.6 L1526.5 1142.7 L1530.5 1142.8 L1534.5 1142.9 L1538.5 1143.0 L1542.5 1143.1 L1546.5 1143.3 L1550.5 1143.5 L1554.5 1143.7 L1558.5 1143.8 L1562.5 1144.1 L1566.5 1144.3 L1570.5 1144.5 L1574.5 1144.7 L1578.5 1145.0 L1582.5 1145.3 L1586.5 1145.5 L1590.5 1145.8 L1594.5 1146.1 L1598.5 1146.4 L1602.5 1146.7 L1606.5 1147.0 L1610.5 1147.3 L1614.5 1147.6 L1618.5 1147.9 L1622.5 1148.2 L1626.5 1148.6 L1630.5 1148.9 L1634.5 1149.2 L1638.5 1149.5 L1642.5 1149.9 L1646.5 1150.2 L1650.5 1150.5 L1654.5 1150.9 L1658.5 1151.2 L1662.5 1151.5 L1666.5 1151.8 L1670.5 1152.2 L1674.5 1152.5 L1678.5 1152.8 L1682.5 1153.1 L1686.5 1153.4 L1690.5 1153.7 L1694.5 1154.0 L1698.5 1154.3 L1702.5 1154.6 L1706.5 1154.8 L1710.5 1155.1 L1714.5 1155.4 L1718.5 1155.6 L1722.5 1155.9 L1726.5 1156.1 L1730.5 1156.3 L1734.5 1156.6 L1738.5 1156.8 L1742.5 1157.0 L1746.5 1157.2 L1750.5 1157.4 L1754.5 1157.6 L1758.5 1157.8 L1762.5 1158.0 L1766.5 1158.2 L1770.5 1158.3 L1774.5 1158.5 L1778.5 1158.6 L1782.5 1158.8 L1786.5 1158.9 L1790.5 1159.1 L1794.5 1159.2 L1798.5 1159.3 L1802.5 1159.4 L1806.5 1159.6 L1810.5 1159.7 L1814.5 1159.8 L1818.5 1159.9 L1822.5 1160.0 L1826.5 1160.0 L1830.5 1160.1 L1834.5 1160.2 L1838.5 1160.3 L1842.5 1160.3 L1846.5 1160.4 L1850.5 1160.5 L1854.5 1160.5 L1858.5 1160.6 L1862.5 1160.6 L1866.5 1160.7 L1870.5 1160.7 L1874.5 1160.8 L1878.5 1160.8 L1882.5 1160.8 L1886.5 1160.9 L1890.5 1160.9 L1894.5 1160.9 L1898.5 1161.0 L1902.5 1161.0 L1906.5 1161.0 L1910.5 1161.0 L1914.5 1161.1 L1918.5 1161.1 L1922.5 1161.1 L1926.5 1161.1 L1930.5 1161.1 L1934.5 1161.1 L1938.5 1161.2 L1942.5 1161.2 L1946.5 1161.2 L1950.5 1161.2 L1954.5 1161.2 L1958.5 1161.2 L1962.5 1161.2 L1966.5 1161.2 L1970.5 1161.2 L1974.5 1161.2 L1978.5 1161.2 L1982.5 1161.3 L1986.5 1161.3 L1990.5 1161.3 L1994.5 1161.3 L1998.5 1161.3 L2002.5 1161.3 L2006.5 1161.3 L2010.5 1161.3 L2014.5 1161.3 L2018.5 1161.3 L2022.5 1161.3 L2026.5 1161.3 L2030.5 1161.3 L2034.5 1161.3 L2038.5 1161.3 L2042.5 1161.3 L2046.5 1161.3 L2050.5 1161.3 L2054.5 1161.3 L2058.5 1161.3 L2062.5 1161.3 L2066.5 1161.3 L2070.5 1161.3 L2074.5 1161.3 L2078.5 1161.3 L2082.5 1161.3 L2086.5 1161.3 L2090.5 1161.3 L2094.5 1161.3 L2098.5 1161.3 L2102.5 1161.3 L2106.5 1161.3 L2110.5 1161.3 L2114.5 1161.3 L2118.5 1161.3 L2122.5 1161.3 L2126.5 1161.3 L2130.5 1161.3 L2134.5 1161.3 L2138.5 1161.3 L2142.5 1161.3 L2146.5 1161.3 L2150.5 1161.3 L2154.5 1161.3 L2158.5 1161.3 L2162.5 1161.3 L2166.5 1161.3 L2170.5 1161.3 L2174.5 1161.3 L2178.5 1161.3 L2182.5 1161.3 L2186.5 1161.3 L2190.5 1161.3 L2194.5 1161.3 L2198.5 1161.3 L2202.5 1161.3 L2206.5 1161.3 L2210.5 1161.3 L2214.5 1161.3 L2218.5 1161.3 L2222.5 1161.3 L2226.0 1161.3" fill="none" stroke="#0070e6" stroke-width="7.0" stroke-dasharray="21 29.1" stroke-dashoffset="2.5" stroke-linecap="round"/>
<path d="M194.7 1161.1 L198.7 1161.1 L202.7 1161.1 L206.7 1161.1 L210.7 1161.0 L214.7 1161.0 L218.7 1161.0 L222.7 1160.9 L226.7 1160.9 L230.7 1160.8 L234.7 1160.8 L238.7 1160.8 L242.7 1160.7 L246.7 1160.7 L250.7 1160.6 L254.7 1160.6 L258.7 1160.5 L262.7 1160.5 L266.7 1160.4 L270.7 1160.3 L274.7 1160.3 L278.7 1160.2 L282.7 1160.2 L286.7 1160.1 L290.7 1160.0 L294.7 1160.0 L298.7 1159.9 L302.7 1159.8 L306.7 1159.8 L310.7 1159.7 L314.7 1159.6 L318.7 1159.5 L322.7 1159.4 L326.7 1159.3 L330.7 1159.2 L334.7 1159.1 L338.7 1159.0 L342.7 1158.9 L346.7 1158.8 L350.7 1158.7 L354.7 1158.5 L358.7 1158.4 L362.7 1158.3 L366.7 1158.1 L370.7 1157.9 L374.7 1157.8 L378.7 1157.6 L382.7 1157.4 L386.7 1157.2 L390.7 1157.0 L394.7 1156.7 L398.7 1156.5 L402.7 1156.3 L406.7 1156.0 L410.7 1155.7 L414.7 1155.5 L418.7 1155.2 L422.7 1154.9 L426.7 1154.6 L430.7 1154.3 L434.7 1154.0 L438.7 1153.6 L442.7 1153.3 L446.7 1153.0 L450.7 1152.6 L454.7 1152.3 L458.7 1151.9 L462.7 1151.5 L466.7 1151.1 L470.7 1150.7 L474.7 1150.3 L478.7 1149.9 L482.7 1149.5 L486.7 1149.0 L490.7 1148.6 L494.7 1148.1 L498.7 1147.6 L502.7 1147.1 L506.7 1146.6 L510.7 1146.1 L514.7 1145.5 L518.7 1145.0 L522.7 1144.4 L526.7 1143.8 L530.7 1143.2 L534.7 1142.5 L538.7 1141.9 L542.7 1141.2 L546.7 1140.5 L550.7 1139.7 L554.7 1139.0 L558.7 1138.2 L562.7 1137.4 L566.7 1136.6 L570.7 1135.8 L574.7 1134.9 L578.7 1134.0 L582.7 1133.1 L586.7 1132.1 L590.7 1131.2 L594.7 1130.2 L598.7 1129.1 L602.7 1128.1 L606.7 1127.0 L610.7 1125.9 L614.7 1124.7 L618.7 1123.5 L622.7 1122.3 L626.7 1121.1 L630.7 1119.8 L634.7 1118.5 L638.7 1117.2 L642.7 1115.9 L646.7 1114.5 L650.7 1113.1 L654.7 1111.7 L658.7 1110.2 L662.7 1108.8 L666.7 1107.3 L670.7 1105.7 L674.7 1104.2 L678.7 1102.6 L682.7 1101.0 L686.7 1099.4 L690.7 1097.8 L694.7 1096.1 L698.7 1094.4 L702.7 1092.7 L706.7 1091.0 L710.7 1089.3 L714.7 1087.5 L718.7 1085.7 L722.7 1083.9 L726.7 1082.1 L730.7 1080.2 L734.7 1078.4 L738.7 1076.5 L742.7 1074.7 L746.7 1072.8 L750.7 1070.9 L754.7 1069.0 L758.7 1067.2 L762.7 1065.3 L766.7 1063.5 L770.7 1061.6 L774.7 1059.8 L778.7 1058.0 L782.7 1056.2 L786.7 1054.5 L790.7 1052.8 L794.7 1051.1 L798.7 1049.4 L802.7 1047.8 L806.7 1046.1 L810.7 1044.6 L814.7 1043.0 L818.7 1041.5 L822.7 1040.1 L826.7 1038.6 L830.7 1037.2 L834.7 1035.9 L838.7 1034.6 L842.7 1033.3 L846.7 1032.1 L850.7 1030.9 L854.7 1029.8 L858.7 1028.7 L862.7 1027.7 L866.7 1026.7 L870.7 1025.8 L874.7 1024.9 L878.7 1024.1 L882.7 1023.3 L886.7 1022.5 L890.7 1021.8 L894.7 1021.2 L898.7 1020.6 L902.7 1020.1 L906.7 1019.6 L910.7 1019.2 L914.7 1018.8 L918.7 1018.5 L922.7 1018.3 L926.7 1018.1 L930.7 1017.9 L934.7 1017.8 L938.7 1017.8 L942.7 1017.8 L946.7 1017.9 L950.7 1018.0 L954.7 1018.1 L958.7 1018.3 L962.7 1018.6 L966.7 1018.9 L970.7 1019.2 L974.7 1019.6 L978.7 1020.0 L982.7 1020.5 L986.7 1020.9 L990.7 1021.4 L994.7 1022.0 L998.7 1022.5 L1002.7 1023.1 L1006.7 1023.7 L1010.7 1024.4 L1014.7 1025.0 L1018.7 1025.7 L1022.7 1026.4 L1026.7 1027.1 L1030.7 1027.8 L1034.7 1028.6 L1038.7 1029.3 L1042.7 1030.1 L1046.7 1030.9 L1050.7 1031.7 L1054.7 1032.5 L1058.7 1033.3 L1062.7 1034.1 L1066.7 1034.9 L1070.7 1035.7 L1074.7 1036.6 L1078.7 1037.4 L1082.7 1038.3 L1086.7 1039.1 L1090.7 1040.0 L1094.7 1040.8 L1098.7 1041.7 L1102.7 1042.5 L1106.7 1043.4 L1110.7 1044.3 L1114.7 1045.1 L1118.7 1046.0 L1122.7 1046.9 L1126.7 1047.7 L1130.7 1048.6 L1134.7 1049.5 L1138.7 1050.3 L1142.7 1051.2 L1146.7 1052.1 L1150.7 1052.9 L1154.7 1053.8 L1158.7 1054.7 L1162.7 1055.6 L1166.7 1056.5 L1170.7 1057.3 L1174.7 1058.2 L1178.7 1059.1 L1182.7 1060.0 L1186.7 1060.9 L1190.7 1061.8 L1194.7 1062.8 L1198.7 1063.7 L1202.7 1064.6 L1206.7 1065.6 L1210.7 1066.5 L1214.7 1067.5 L1218.7 1068.4 L1222.7 1069.4 L1226.7 1070.4 L1230.7 1071.4 L1234.7 1072.3 L1238.7 1073.3 L1242.7 1074.3 L1246.7 1075.3 L1250.7 1076.3 L1254.7 1077.3 L1258.7 1078.2 L1262.7 1079.2 L1266.7 1080.2 L1270.7 1081.1 L1274.7 1082.1 L1278.7 1083.1 L1282.7 1084.0 L1286.7 1085.0 L1290.7 1085.9 L1294.7 1086.9 L1298.7 1087.8 L1302.7 1088.7 L1306.7 1089.6 L1310.7 1090.5 L1314.7 1091.4 L1318.7 1092.3 L1322.7 1093.2 L1326.7 1094.1 L1330.7 1095.0 L1334.7 1095.8 L1338.7 1096.7 L1342.7 1097.5 L1346.7 1098.3 L1350.7 1099.2 L1354.7 1100.0 L1358.7 1100.8 L1362.7 1101.6 L1366.7 1102.3 L1370.7 1103.1 L1374.7 1103.9 L1378.7 1104.6 L1382.7 1105.4 L1386.7 1106.1 L1390.7 1106.8 L1394.7 1107.5 L1398.7 1108.2 L1402.7 1108.9 L1406.7 1109.6 L1410.7 1110.3 L1414.7 1110.9 L1418.7 1111.6 L1422.7 1112.3 L1426.7 1112.9 L1430.7 1113.5 L1434.7 1114.2 L1438.7 1114.8 L1442.7 1115.4 L1446.7 1116.0 L1450.7 1116.7 L1454.7 1117.3 L1458.7 1117.9 L1462.7 1118.5 L1466.7 1119.1 L1470.7 1119.7 L1474.7 1120.3 L1478.7 1120.9 L1482.7 1121.6 L1486.7 1122.2 L1490.7 1122.8 L1494.7 1123.4 L1498.7 1124.1 L1502.7 1124.7 L1506.7 1125.3 L1510.7 1126.0 L1514.7 1126.6 L1518.7 1127.3 L1522.7 1127.9 L1526.7 1128.6 L1530.7 1129.2 L1534.7 1129.9 L1538.7 1130.5 L1542.7 1131.2 L1546.7 1131.8 L1550.7 1132.5 L1554.7 1133.1 L1558.7 1133.8 L1562.7 1134.5 L1566.7 1135.1 L1570.7 1135.8 L1574.7 1136.4 L1578.7 1137.1 L1582.7 1137.7 L1586.7 1138.4 L1590.7 1139.0 L1594.7 1139.7 L1598.7 1140.3 L1602.7 1140.9 L1606.7 1141.5 L1610.7 1142.2 L1614.7 1142.8 L1618.7 1143.4 L1622.7 1144.0 L1626.7 1144.6 L1630.7 1145.2 L1634.7 1145.8 L1638.7 1146.3 L1642.7 1146.9 L1646.7 1147.5 L1650.7 1148.0 L1654.7 1148.5 L1658.7 1149.1 L1662.7 1149.6 L1666.7 1150.1 L1670.7 1150.6 L1674.7 1151.1 L1678.7 1151.6 L1682.7 1152.1 L1686.7 1152.5 L1690.7 1153.0 L1694.7 1153.4 L1698.7 1153.8 L1702.7 1154.3 L1706.7 1154.7 L1710.7 1155.1 L1714.7 1155.4 L1718.7 1155.8 L1722.7 1156.2 L1726.7 1156.5 L1730.7 1156.8 L1734.7 1157.2 L1738.7 1157.5 L1742.7 1157.7 L1746.7 1158.0 L1750.7 1158.3 L1754.7 1158.5 L1758.7 1158.8 L1762.7 1159.0 L1766.7 1159.2 L1770.7 1159.4 L1774.7 1159.6 L1778.7 1159.7 L1782.7 1159.9 L1786.7 1160.0 L1790.7 1160.2 L1794.7 1160.3 L1798.7 1160.4 L1802.7 1160.5 L1806.7 1160.6 L1810.7 1160.7 L1814.7 1160.7 L1818.7 1160.8 L1822.7 1160.8 L1826.7 1160.9 L1830.7 1160.9 L1834.7 1161.0 L1838.7 1161.0 L1842.7 1161.0 L1846.7 1161.1 L1850.7 1161.1 L1854.7 1161.1 L1858.7 1161.1 L1862.7 1161.1 L1866.7 1161.1 L1870.7 1161.2 L1874.7 1161.2 L1878.7 1161.2 L1882.7 1161.2 L1886.7 1161.2 L1890.7 1161.3 L1894.7 1161.3 L1898.7 1161.3 L1902.7 1161.3 L1906.7 1161.3 L1910.7 1161.3 L1914.7 1161.3 L1918.7 1161.3 L1922.7 1161.3 L1926.7 1161.3 L1930.7 1161.3 L1934.7 1161.3 L1938.7 1161.3 L1942.7 1161.3 L1946.7 1161.3 L1950.7 1161.3 L1954.7 1161.3 L1958.7 1161.3 L1962.7 1161.3 L1966.7 1161.3 L1970.7 1161.3 L1974.7 1161.3 L1978.7 1161.3 L1982.7 1161.3 L1986.7 1161.3 L1990.7 1161.3 L1994.7 1161.3 L1998.7 1161.3 L2002.7 1161.3 L2006.7 1161.3 L2010.7 1161.3 L2014.7 1161.3 L2018.7 1161.3 L2022.7 1161.3 L2026.7 1161.3 L2030.7 1161.3 L2034.7 1161.3 L2038.7 1161.3 L2042.7 1161.3 L2046.7 1161.3 L2050.7 1161.3 L2054.7 1161.3 L2058.7 1161.3 L2062.7 1161.3 L2066.7 1161.3 L2070.7 1161.3 L2074.7 1161.3 L2078.7 1161.3 L2082.7 1161.3 L2086.7 1161.3 L2090.7 1161.3 L2094.7 1161.3 L2098.7 1161.3 L2102.7 1161.3 L2106.7 1161.3 L2110.7 1161.3 L2114.7 1161.3 L2118.7 1161.3 L2122.7 1161.3 L2126.7 1161.3 L2130.7 1161.3 L2134.7 1161.3 L2138.7 1161.3 L2142.7 1161.3 L2146.7 1161.3 L2150.7 1161.3 L2154.7 1161.3 L2158.7 1161.3 L2162.7 1161.3 L2166.7 1161.3 L2170.7 1161.3 L2174.7 1161.3 L2178.7 1161.3 L2182.7 1161.3 L2186.7 1161.3 L2190.7 1161.3 L2194.7 1161.3 L2198.7 1161.3 L2202.7 1161.3 L2206.7 1161.3 L2210.7 1161.3 L2214.7 1161.3 L2218.7 1161.3 L2222.7 1161.3 L2226.7 1161.3 L2227.3 1161.3" fill="none" stroke="#980000" stroke-width="7.2" stroke-linejoin="round" stroke-linecap="round"/>
<path d="M208.9 1435.3 L212.9 1435.3 L216.9 1435.3 L220.9 1435.3 L224.9 1435.3 L228.9 1435.3 L232.9 1435.3 L236.9 1435.3 L240.9 1435.3 L244.9 1435.3 L248.9 1435.3 L252.9 1435.3 L256.9 1435.3 L260.9 1435.3 L264.9 1435.3 L268.9 1435.3 L272.9 1435.3 L276.9 1435.3 L280.9 1435.3 L284.9 1435.3 L288.9 1435.3 L292.9 1435.3 L296.9 1435.3 L300.9 1435.3 L304.9 1435.3 L308.9 1435.3 L312.9 1435.2 L316.9 1435.2 L320.9 1435.2 L324.9 1435.2 L328.9 1435.2 L332.9 1435.2 L336.9 1435.2 L340.9 1435.2 L344.9 1435.2 L348.9 1435.2 L352.9 1435.2 L356.9 1435.1 L360.9 1435.1 L364.9 1435.1 L368.9 1435.1 L372.9 1435.1 L376.9 1435.1 L380.9 1435.0 L384.9 1435.0 L388.9 1435.0 L392.9 1435.0 L396.9 1434.9 L400.9 1434.9 L404.9 1434.9 L408.9 1434.8 L412.9 1434.8 L416.9 1434.8 L420.9 1434.7 L424.9 1434.7 L428.9 1434.6 L432.9 1434.5 L436.9 1434.5 L440.9 1434.4 L444.9 1434.4 L448.9 1434.3 L452.9 1434.2 L456.9 1434.1 L460.9 1434.0 L464.9 1433.9 L468.9 1433.8 L472.9 1433.7 L476.9 1433.6 L480.9 1433.5 L484.9 1433.3 L488.9 1433.2 L492.9 1433.0 L496.9 1432.9 L500.9 1432.7 L504.9 1432.5 L508.9 1432.3 L512.9 1432.1 L516.9 1431.9 L520.9 1431.7 L524.9 1431.4 L528.9 1431.2 L532.9 1430.9 L536.9 1430.6 L540.9 1430.3 L544.9 1430.0 L548.9 1429.7 L552.9 1429.4 L556.9 1429.0 L560.9 1428.6 L564.9 1428.2 L568.9 1427.8 L572.9 1427.3 L576.9 1426.9 L580.9 1426.4 L584.9 1425.9 L588.9 1425.4 L592.9 1424.8 L596.9 1424.3 L600.9 1423.7 L604.9 1423.0 L608.9 1422.4 L612.9 1421.7 L616.9 1421.0 L620.9 1420.3 L624.9 1419.5 L628.9 1418.8 L632.9 1417.9 L636.9 1417.1 L640.9 1416.2 L644.9 1415.4 L648.9 1414.4 L652.9 1413.5 L656.9 1412.5 L660.9 1411.5 L664.9 1410.4 L668.9 1409.4 L672.9 1408.3 L676.9 1407.1 L680.9 1406.0 L684.9 1404.8 L688.9 1403.6 L692.9 1402.3 L696.9 1401.1 L700.9 1399.8 L704.9 1398.5 L708.9 1397.1 L712.9 1395.8 L716.9 1394.5 L720.9 1393.1 L724.9 1391.7 L728.9 1390.3 L732.9 1388.9 L736.9 1387.4 L740.9 1385.9 L744.9 1384.4 L748.9 1382.9 L752.9 1381.3 L756.9 1379.8 L760.9 1378.2 L764.9 1376.6 L768.9 1375.0 L772.9 1373.4 L776.9 1371.8 L780.9 1370.2 L784.9 1368.6 L788.9 1367.0 L792.9 1365.4 L796.9 1363.8 L800.9 1362.2 L804.9 1360.6 L808.9 1359.0 L812.9 1357.5 L816.9 1356.0 L820.9 1354.5 L824.9 1353.0 L828.9 1351.5 L832.9 1350.1 L836.9 1348.7 L840.9 1347.3 L844.9 1345.9 L848.9 1344.6 L852.9 1343.3 L856.9 1342.1 L860.9 1340.9 L864.9 1339.7 L868.9 1338.6 L872.9 1337.6 L876.9 1336.5 L880.9 1335.6 L884.9 1334.7 L888.9 1333.8 L892.9 1333.0 L896.9 1332.3 L900.9 1331.6 L904.9 1331.0 L908.9 1330.4 L912.9 1329.9 L916.9 1329.5 L920.9 1329.1 L924.9 1328.8 L928.9 1328.6 L932.9 1328.4 L936.9 1328.3 L940.9 1328.3 L944.9 1328.3 L948.9 1328.5 L952.9 1328.6 L956.9 1328.8 L960.9 1329.1 L964.9 1329.5 L968.9 1329.9 L972.9 1330.3 L976.9 1330.9 L980.9 1331.4 L984.9 1332.1 L988.9 1332.7 L992.9 1333.5 L996.9 1334.3 L1000.9 1335.1 L1004.9 1336.0 L1008.9 1336.9 L1012.9 1337.9 L1016.9 1338.9 L1020.9 1340.0 L1024.9 1341.1 L1028.9 1342.3 L1032.9 1343.5 L1036.9 1344.7 L1040.9 1346.0 L1044.9 1347.3 L1048.9 1348.6 L1052.9 1349.9 L1056.9 1351.3 L1060.9 1352.7 L1064.9 1354.1 L1068.9 1355.6 L1072.9 1357.0 L1076.9 1358.5 L1080.9 1360.0 L1084.9 1361.5 L1088.9 1363.1 L1092.9 1364.6 L1096.9 1366.1 L1100.9 1367.7 L1104.9 1369.2 L1108.9 1370.7 L1112.9 1372.3 L1116.9 1373.8 L1120.9 1375.4 L1124.9 1376.9 L1128.9 1378.4 L1132.9 1380.0 L1136.9 1381.5 L1140.9 1383.0 L1144.9 1384.4 L1148.9 1385.9 L1152.9 1387.4 L1156.9 1388.8 L1160.9 1390.2 L1164.9 1391.6 L1168.9 1393.0 L1172.9 1394.4 L1176.9 1395.7 L1180.9 1397.0 L1184.9 1398.3 L1188.9 1399.6 L1192.9 1400.8 L1196.9 1402.1 L1200.9 1403.3 L1204.9 1404.4 L1208.9 1405.6 L1212.9 1406.7 L1216.9 1407.8 L1220.9 1408.9 L1224.9 1409.9 L1228.9 1410.9 L1232.9 1411.9 L1236.9 1412.9 L1240.9 1413.8 L1244.9 1414.7 L1248.9 1415.6 L1252.9 1416.4 L1256.9 1417.2 L1260.9 1418.0 L1264.9 1418.8 L1268.9 1419.6 L1272.9 1420.3 L1276.9 1421.0 L1280.9 1421.6 L1284.9 1422.3 L1288.9 1422.9 L1292.9 1423.5 L1296.9 1424.1 L1300.9 1424.7 L1304.9 1425.2 L1308.9 1425.7 L1312.9 1426.2 L1316.9 1426.7 L1320.9 1427.1 L1324.9 1427.5 L1328.9 1428.0 L1332.9 1428.4 L1336.9 1428.7 L1340.9 1429.1 L1344.9 1429.4 L1348.9 1429.8 L1352.9 1430.1 L1356.9 1430.4 L1360.9 1430.7 L1364.9 1430.9 L1368.9 1431.2 L1372.9 1431.4 L1376.9 1431.7 L1380.9 1431.9 L1384.9 1432.1 L1388.9 1432.3 L1392.9 1432.5 L1396.9 1432.6 L1400.9 1432.8 L1404.9 1433.0 L1408.9 1433.1 L1412.9 1433.3 L1416.9 1433.4 L1420.9 1433.5 L1424.9 1433.6 L1428.9 1433.7 L1432.9 1433.9 L1436.9 1434.0 L1440.9 1434.0 L1444.9 1434.1 L1448.9 1434.2 L1452.9 1434.3 L1456.9 1434.4 L1460.9 1434.4 L1464.9 1434.5 L1468.9 1434.5 L1472.9 1434.6 L1476.9 1434.7 L1480.9 1434.7 L1484.9 1434.7 L1488.9 1434.8 L1492.9 1434.8 L1496.9 1434.9 L1500.9 1434.9 L1504.9 1434.9 L1508.9 1435.0 L1512.9 1435.0 L1516.9 1435.0 L1520.9 1435.0 L1524.9 1435.1 L1528.9 1435.1 L1532.9 1435.1 L1536.9 1435.1 L1540.9 1435.1 L1544.9 1435.1 L1548.9 1435.1 L1552.9 1435.2 L1556.9 1435.2 L1560.9 1435.2 L1564.9 1435.2 L1568.9 1435.2 L1572.9 1435.2 L1576.9 1435.2 L1580.9 1435.2 L1584.9 1435.2 L1588.9 1435.2 L1592.9 1435.2 L1596.9 1435.2 L1600.9 1435.3 L1604.9 1435.3 L1608.9 1435.3 L1612.9 1435.3 L1616.9 1435.3 L1620.9 1435.3 L1624.9 1435.3 L1628.9 1435.3 L1632.9 1435.3 L1636.9 1435.3 L1640.9 1435.3 L1644.9 1435.3 L1648.9 1435.3 L1652.9 1435.3 L1656.9 1435.3 L1660.9 1435.3 L1664.9 1435.3 L1668.9 1435.3 L1672.9 1435.3 L1676.9 1435.3 L1680.9 1435.3 L1684.9 1435.3 L1688.9 1435.3 L1692.9 1435.3 L1696.9 1435.3 L1700.9 1435.3 L1704.9 1435.3 L1708.9 1435.3 L1712.9 1435.3 L1716.9 1435.3 L1720.9 1435.3 L1724.9 1435.3 L1728.9 1435.3 L1732.9 1435.3 L1736.9 1435.3 L1740.9 1435.3 L1744.9 1435.3 L1748.9 1435.3 L1752.9 1435.3 L1756.9 1435.3 L1760.9 1435.3 L1764.9 1435.3 L1768.9 1435.3 L1772.9 1435.3 L1776.9 1435.3 L1780.9 1435.3 L1784.9 1435.3 L1788.9 1435.3 L1792.9 1435.3 L1796.9 1435.3 L1800.9 1435.3 L1804.9 1435.3 L1808.9 1435.3 L1812.9 1435.3 L1816.9 1435.3 L1820.9 1435.3 L1824.9 1435.3 L1828.9 1435.3 L1832.9 1435.3 L1836.9 1435.3 L1840.9 1435.3 L1844.9 1435.3 L1848.9 1435.3 L1852.9 1435.3 L1856.9 1435.3 L1860.9 1435.3 L1864.9 1435.3 L1868.9 1435.3 L1872.9 1435.3 L1876.9 1435.3 L1880.9 1435.3 L1884.9 1435.3 L1888.9 1435.3 L1892.9 1435.3 L1896.9 1435.3 L1900.9 1435.3 L1904.9 1435.3 L1908.9 1435.3 L1912.9 1435.3 L1916.9 1435.3 L1920.9 1435.3 L1924.9 1435.3 L1928.9 1435.3 L1932.9 1435.3 L1936.9 1435.3 L1940.9 1435.3 L1944.9 1435.3 L1948.9 1435.3 L1952.9 1435.3 L1956.9 1435.3 L1960.9 1435.3 L1964.9 1435.3 L1968.9 1435.3 L1972.9 1435.3 L1976.9 1435.3 L1980.9 1435.3 L1984.9 1435.3 L1988.9 1435.3 L1992.9 1435.3 L1996.9 1435.3 L2000.9 1435.3 L2004.9 1435.3 L2008.9 1435.3 L2012.9 1435.3 L2016.9 1435.3 L2020.9 1435.3 L2024.9 1435.3 L2028.9 1435.3 L2032.9 1435.3 L2036.9 1435.3 L2040.9 1435.3 L2044.9 1435.3 L2048.9 1435.3 L2052.9 1435.3 L2056.9 1435.3 L2060.9 1435.3 L2064.9 1435.3 L2068.9 1435.3 L2072.9 1435.3 L2076.9 1435.3 L2080.9 1435.3 L2084.9 1435.3 L2088.9 1435.3 L2092.9 1435.3 L2096.9 1435.3 L2100.9 1435.3 L2104.9 1435.3 L2108.9 1435.3 L2112.9 1435.3 L2116.9 1435.3 L2120.9 1435.3 L2124.9 1435.3 L2128.9 1435.3 L2132.9 1435.3 L2136.9 1435.3 L2140.9 1435.3 L2144.9 1435.3 L2148.9 1435.3 L2152.9 1435.3 L2156.9 1435.3 L2160.9 1435.3 L2164.9 1435.3 L2168.9 1435.3 L2172.9 1435.3 L2176.9 1435.3 L2180.9 1435.3 L2184.9 1435.3 L2188.9 1435.3 L2192.9 1435.3 L2196.9 1435.3 L2200.9 1435.3 L2204.9 1435.3 L2208.9 1435.3 L2212.9 1435.3 L2216.9 1435.3 L2220.9 1435.3 L2224.9 1435.3 L2226.0 1435.3" fill="none" stroke="#757575" stroke-width="7.0" stroke-dasharray="21 29.1" stroke-dashoffset="2.5" stroke-linecap="round"/>
<path d="M208.9 1435.3 L212.9 1435.3 L216.9 1435.3 L220.9 1435.3 L224.9 1435.3 L228.9 1435.3 L232.9 1435.3 L236.9 1435.3 L240.9 1435.3 L244.9 1435.3 L248.9 1435.3 L252.9 1435.3 L256.9 1435.3 L260.9 1435.3 L264.9 1435.3 L268.9 1435.3 L272.9 1435.3 L276.9 1435.3 L280.9 1435.3 L284.9 1435.3 L288.9 1435.3 L292.9 1435.3 L296.9 1435.3 L300.9 1435.3 L304.9 1435.3 L308.9 1435.3 L312.9 1435.3 L316.9 1435.3 L320.9 1435.3 L324.9 1435.3 L328.9 1435.3 L332.9 1435.3 L336.9 1435.3 L340.9 1435.3 L344.9 1435.3 L348.9 1435.3 L352.9 1435.3 L356.9 1435.3 L360.9 1435.3 L364.9 1435.3 L368.9 1435.3 L372.9 1435.3 L376.9 1435.3 L380.9 1435.3 L384.9 1435.3 L388.9 1435.3 L392.9 1435.3 L396.9 1435.3 L400.9 1435.3 L404.9 1435.3 L408.9 1435.3 L412.9 1435.3 L416.9 1435.3 L420.9 1435.3 L424.9 1435.3 L428.9 1435.3 L432.9 1435.3 L436.9 1435.3 L440.9 1435.3 L444.9 1435.3 L448.9 1435.3 L452.9 1435.3 L456.9 1435.3 L460.9 1435.3 L464.9 1435.3 L468.9 1435.3 L472.9 1435.3 L476.9 1435.3 L480.9 1435.3 L484.9 1435.3 L488.9 1435.3 L492.9 1435.3 L496.9 1435.3 L500.9 1435.3 L504.9 1435.3 L508.9 1435.3 L512.9 1435.3 L516.9 1435.3 L520.9 1435.3 L524.9 1435.3 L528.9 1435.3 L532.9 1435.3 L536.9 1435.2 L540.9 1435.2 L544.9 1435.2 L548.9 1435.2 L552.9 1435.2 L556.9 1435.2 L560.9 1435.2 L564.9 1435.2 L568.9 1435.2 L572.9 1435.2 L576.9 1435.2 L580.9 1435.2 L584.9 1435.2 L588.9 1435.2 L592.9 1435.1 L596.9 1435.1 L600.9 1435.1 L604.9 1435.1 L608.9 1435.1 L612.9 1435.1 L616.9 1435.1 L620.9 1435.0 L624.9 1435.0 L628.9 1435.0 L632.9 1435.0 L636.9 1435.0 L640.9 1434.9 L644.9 1434.9 L648.9 1434.9 L652.9 1434.9 L656.9 1434.8 L660.9 1434.8 L664.9 1434.8 L668.9 1434.7 L672.9 1434.7 L676.9 1434.7 L680.9 1434.6 L684.9 1434.6 L688.9 1434.5 L692.9 1434.5 L696.9 1434.4 L700.9 1434.4 L704.9 1434.3 L708.9 1434.2 L712.9 1434.2 L716.9 1434.1 L720.9 1434.0 L724.9 1434.0 L728.9 1433.9 L732.9 1433.8 L736.9 1433.7 L740.9 1433.6 L744.9 1433.5 L748.9 1433.4 L752.9 1433.3 L756.9 1433.2 L760.9 1433.1 L764.9 1432.9 L768.9 1432.8 L772.9 1432.7 L776.9 1432.5 L780.9 1432.4 L784.9 1432.2 L788.9 1432.1 L792.9 1431.9 L796.9 1431.7 L800.9 1431.6 L804.9 1431.4 L808.9 1431.2 L812.9 1431.0 L816.9 1430.7 L820.9 1430.5 L824.9 1430.3 L828.9 1430.1 L832.9 1429.8 L836.9 1429.6 L840.9 1429.3 L844.9 1429.0 L848.9 1428.7 L852.9 1428.4 L856.9 1428.1 L860.9 1427.8 L864.9 1427.5 L868.9 1427.2 L872.9 1426.8 L876.9 1426.5 L880.9 1426.1 L884.9 1425.7 L888.9 1425.3 L892.9 1424.9 L896.9 1424.5 L900.9 1424.1 L904.9 1423.7 L908.9 1423.2 L912.9 1422.8 L916.9 1422.3 L920.9 1421.8 L924.9 1421.3 L928.9 1420.8 L932.9 1420.3 L936.9 1419.8 L940.9 1419.3 L944.9 1418.7 L948.9 1418.2 L952.9 1417.6 L956.9 1417.1 L960.9 1416.5 L964.9 1415.9 L968.9 1415.3 L972.9 1414.7 L976.9 1414.1 L980.9 1413.4 L984.9 1412.8 L988.9 1412.2 L992.9 1411.5 L996.9 1410.9 L1000.9 1410.2 L1004.9 1409.5 L1008.9 1408.9 L1012.9 1408.2 L1016.9 1407.5 L1020.9 1406.8 L1024.9 1406.1 L1028.9 1405.4 L1032.9 1404.7 L1036.9 1404.0 L1040.9 1403.3 L1044.9 1402.6 L1048.9 1401.9 L1052.9 1401.2 L1056.9 1400.5 L1060.9 1399.8 L1064.9 1399.2 L1068.9 1398.5 L1072.9 1397.8 L1076.9 1397.1 L1080.9 1396.4 L1084.9 1395.8 L1088.9 1395.1 L1092.9 1394.5 L1096.9 1393.8 L1100.9 1393.2 L1104.9 1392.6 L1108.9 1391.9 L1112.9 1391.3 L1116.9 1390.7 L1120.9 1390.2 L1124.9 1389.6 L1128.9 1389.1 L1132.9 1388.5 L1136.9 1388.0 L1140.9 1387.5 L1144.9 1387.0 L1148.9 1386.6 L1152.9 1386.1 L1156.9 1385.7 L1160.9 1385.3 L1164.9 1384.9 L1168.9 1384.5 L1172.9 1384.2 L1176.9 1383.8 L1180.9 1383.5 L1184.9 1383.3 L1188.9 1383.0 L1192.9 1382.8 L1196.9 1382.5 L1200.9 1382.4 L1204.9 1382.2 L1208.9 1382.0 L1212.9 1381.9 L1216.9 1381.8 L1220.9 1381.8 L1224.9 1381.7 L1228.9 1381.7 L1232.9 1381.7 L1236.9 1381.7 L1240.9 1381.8 L1244.9 1381.9 L1248.9 1382.0 L1252.9 1382.1 L1256.9 1382.2 L1260.9 1382.4 L1264.9 1382.6 L1268.9 1382.8 L1272.9 1383.1 L1276.9 1383.3 L1280.9 1383.6 L1284.9 1383.9 L1288.9 1384.3 L1292.9 1384.6 L1296.9 1385.0 L1300.9 1385.4 L1304.9 1385.8 L1308.9 1386.2 L1312.9 1386.7 L1316.9 1387.1 L1320.9 1387.6 L1324.9 1388.1 L1328.9 1388.6 L1332.9 1389.2 L1336.9 1389.7 L1340.9 1390.3 L1344.9 1390.8 L1348.9 1391.4 L1352.9 1392.0 L1356.9 1392.6 L1360.9 1393.2 L1364.9 1393.9 L1368.9 1394.5 L1372.9 1395.1 L1376.9 1395.8 L1380.9 1396.5 L1384.9 1397.1 L1388.9 1397.8 L1392.9 1398.5 L1396.9 1399.2 L1400.9 1399.8 L1404.9 1400.5 L1408.9 1401.2 L1412.9 1401.9 L1416.9 1402.6 L1420.9 1403.3 L1424.9 1404.0 L1428.9 1404.7 L1432.9 1405.4 L1436.9 1406.0 L1440.9 1406.7 L1444.9 1407.4 L1448.9 1408.1 L1452.9 1408.8 L1456.9 1409.4 L1460.9 1410.1 L1464.9 1410.7 L1468.9 1411.4 L1472.9 1412.0 L1476.9 1412.7 L1480.9 1413.3 L1484.9 1413.9 L1488.9 1414.5 L1492.9 1415.1 L1496.9 1415.7 L1500.9 1416.3 L1504.9 1416.9 L1508.9 1417.5 L1512.9 1418.0 L1516.9 1418.6 L1520.9 1419.1 L1524.9 1419.6 L1528.9 1420.2 L1532.9 1420.7 L1536.9 1421.2 L1540.9 1421.6 L1544.9 1422.1 L1548.9 1422.6 L1552.9 1423.0 L1556.9 1423.5 L1560.9 1423.9 L1564.9 1424.3 L1568.9 1424.7 L1572.9 1425.1 L1576.9 1425.5 L1580.9 1425.9 L1584.9 1426.3 L1588.9 1426.6 L1592.9 1427.0 L1596.9 1427.3 L1600.9 1427.6 L1604.9 1428.0 L1608.9 1428.3 L1612.9 1428.6 L1616.9 1428.9 L1620.9 1429.1 L1624.9 1429.4 L1628.9 1429.7 L1632.9 1429.9 L1636.9 1430.1 L1640.9 1430.4 L1644.9 1430.6 L1648.9 1430.8 L1652.9 1431.0 L1656.9 1431.2 L1660.9 1431.4 L1664.9 1431.6 L1668.9 1431.8 L1672.9 1432.0 L1676.9 1432.1 L1680.9 1432.3 L1684.9 1432.4 L1688.9 1432.6 L1692.9 1432.7 L1696.9 1432.8 L1700.9 1433.0 L1704.9 1433.1 L1708.9 1433.2 L1712.9 1433.3 L1716.9 1433.4 L1720.9 1433.5 L1724.9 1433.6 L1728.9 1433.7 L1732.9 1433.8 L1736.9 1433.9 L1740.9 1434.0 L1744.9 1434.0 L1748.9 1434.1 L1752.9 1434.2 L1756.9 1434.2 L1760.9 1434.3 L1764.9 1434.4 L1768.9 1434.4 L1772.9 1434.5 L1776.9 1434.5 L1780.9 1434.6 L1784.9 1434.6 L1788.9 1434.7 L1792.9 1434.7 L1796.9 1434.7 L1800.9 1434.8 L1804.9 1434.8 L1808.9 1434.8 L1812.9 1434.9 L1816.9 1434.9 L1820.9 1434.9 L1824.9 1434.9 L1828.9 1435.0 L1832.9 1435.0 L1836.9 1435.0 L1840.9 1435.0 L1844.9 1435.0 L1848.9 1435.1 L1852.9 1435.1 L1856.9 1435.1 L1860.9 1435.1 L1864.9 1435.1 L1868.9 1435.1 L1872.9 1435.1 L1876.9 1435.2 L1880.9 1435.2 L1884.9 1435.2 L1888.9 1435.2 L1892.9 1435.2 L1896.9 1435.2 L1900.9 1435.2 L1904.9 1435.2 L1908.9 1435.2 L1912.9 1435.2 L1916.9 1435.2 L1920.9 1435.2 L1924.9 1435.2 L1928.9 1435.2 L1932.9 1435.3 L1936.9 1435.3 L1940.9 1435.3 L1944.9 1435.3 L1948.9 1435.3 L1952.9 1435.3 L1956.9 1435.3 L1960.9 1435.3 L1964.9 1435.3 L1968.9 1435.3 L1972.9 1435.3 L1976.9 1435.3 L1980.9 1435.3 L1984.9 1435.3 L1988.9 1435.3 L1992.9 1435.3 L1996.9 1435.3 L2000.9 1435.3 L2004.9 1435.3 L2008.9 1435.3 L2012.9 1435.3 L2016.9 1435.3 L2020.9 1435.3 L2024.9 1435.3 L2028.9 1435.3 L2032.9 1435.3 L2036.9 1435.3 L2040.9 1435.3 L2044.9 1435.3 L2048.9 1435.3 L2052.9 1435.3 L2056.9 1435.3 L2060.9 1435.3 L2064.9 1435.3 L2068.9 1435.3 L2072.9 1435.3 L2076.9 1435.3 L2080.9 1435.3 L2084.9 1435.3 L2088.9 1435.3 L2092.9 1435.3 L2096.9 1435.3 L2100.9 1435.3 L2104.9 1435.3 L2108.9 1435.3 L2112.9 1435.3 L2116.9 1435.3 L2120.9 1435.3 L2124.9 1435.3 L2128.9 1435.3 L2132.9 1435.3 L2136.9 1435.3 L2140.9 1435.3 L2144.9 1435.3 L2148.9 1435.3 L2152.9 1435.3 L2156.9 1435.3 L2160.9 1435.3 L2164.9 1435.3 L2168.9 1435.3 L2172.9 1435.3 L2176.9 1435.3 L2180.9 1435.3 L2184.9 1435.3 L2188.9 1435.3 L2192.9 1435.3 L2196.9 1435.3 L2200.9 1435.3 L2204.9 1435.3 L2208.9 1435.3 L2212.9 1435.3 L2216.9 1435.3 L2220.9 1435.3 L2224.9 1435.3 L2226.0 1435.3" fill="none" stroke="#ff3c3c" stroke-width="7.0" stroke-dasharray="21 29.1" stroke-dashoffset="2.5" stroke-linecap="round"/>
<path d="M208.9 1435.3 L212.9 1435.3 L216.9 1435.3 L220.9 1435.3 L224.9 1435.3 L228.9 1435.3 L232.9 1435.3 L236.9 1435.3 L240.9 1435.3 L244.9 1435.3 L248.9 1435.3 L252.9 1435.3 L256.9 1435.3 L260.9 1435.3 L264.9 1435.3 L268.9 1435.3 L272.9 1435.3 L276.9 1435.3 L280.9 1435.3 L284.9 1435.3 L288.9 1435.3 L292.9 1435.3 L296.9 1435.3 L300.9 1435.3 L304.9 1435.3 L308.9 1435.3 L312.9 1435.3 L316.9 1435.3 L320.9 1435.3 L324.9 1435.3 L328.9 1435.3 L332.9 1435.3 L336.9 1435.3 L340.9 1435.3 L344.9 1435.3 L348.9 1435.3 L352.9 1435.3 L356.9 1435.3 L360.9 1435.3 L364.9 1435.3 L368.9 1435.3 L372.9 1435.3 L376.9 1435.3 L380.9 1435.3 L384.9 1435.3 L388.9 1435.3 L392.9 1435.3 L396.9 1435.3 L400.9 1435.3 L404.9 1435.3 L408.9 1435.3 L412.9 1435.3 L416.9 1435.3 L420.9 1435.3 L424.9 1435.3 L428.9 1435.3 L432.9 1435.3 L436.9 1435.3 L440.9 1435.3 L444.9 1435.3 L448.9 1435.3 L452.9 1435.3 L456.9 1435.3 L460.9 1435.3 L464.9 1435.3 L468.9 1435.3 L472.9 1435.3 L476.9 1435.3 L480.9 1435.3 L484.9 1435.3 L488.9 1435.3 L492.9 1435.3 L496.9 1435.3 L500.9 1435.3 L504.9 1435.3 L508.9 1435.3 L512.9 1435.3 L516.9 1435.3 L520.9 1435.3 L524.9 1435.3 L528.9 1435.3 L532.9 1435.3 L536.9 1435.3 L540.9 1435.3 L544.9 1435.3 L548.9 1435.3 L552.9 1435.3 L556.9 1435.3 L560.9 1435.3 L564.9 1435.3 L568.9 1435.3 L572.9 1435.3 L576.9 1435.3 L580.9 1435.3 L584.9 1435.3 L588.9 1435.3 L592.9 1435.3 L596.9 1435.3 L600.9 1435.3 L604.9 1435.3 L608.9 1435.3 L612.9 1435.3 L616.9 1435.3 L620.9 1435.3 L624.9 1435.3 L628.9 1435.3 L632.9 1435.3 L636.9 1435.3 L640.9 1435.3 L644.9 1435.3 L648.9 1435.3 L652.9 1435.3 L656.9 1435.3 L660.9 1435.3 L664.9 1435.3 L668.9 1435.3 L672.9 1435.3 L676.9 1435.3 L680.9 1435.3 L684.9 1435.3 L688.9 1435.3 L692.9 1435.3 L696.9 1435.3 L700.9 1435.3 L704.9 1435.3 L708.9 1435.3 L712.9 1435.3 L716.9 1435.3 L720.9 1435.3 L724.9 1435.3 L728.9 1435.3 L732.9 1435.3 L736.9 1435.3 L740.9 1435.3 L744.9 1435.3 L748.9 1435.3 L752.9 1435.3 L756.9 1435.3 L760.9 1435.3 L764.9 1435.3 L768.9 1435.3 L772.9 1435.3 L776.9 1435.3 L780.9 1435.3 L784.9 1435.3 L788.9 1435.3 L792.9 1435.3 L796.9 1435.3 L800.9 1435.3 L804.9 1435.3 L808.9 1435.3 L812.9 1435.3 L816.9 1435.3 L820.9 1435.3 L824.9 1435.3 L828.9 1435.3 L832.9 1435.3 L836.9 1435.3 L840.9 1435.3 L844.9 1435.3 L848.9 1435.3 L852.9 1435.3 L856.9 1435.3 L860.9 1435.3 L864.9 1435.3 L868.9 1435.3 L872.9 1435.3 L876.9 1435.3 L880.9 1435.3 L884.9 1435.3 L888.9 1435.3 L892.9 1435.3 L896.9 1435.3 L900.9 1435.3 L904.9 1435.3 L908.9 1435.2 L912.9 1435.2 L916.9 1435.2 L920.9 1435.2 L924.9 1435.2 L928.9 1435.2 L932.9 1435.2 L936.9 1435.2 L940.9 1435.2 L944.9 1435.2 L948.9 1435.2 L952.9 1435.2 L956.9 1435.2 L960.9 1435.2 L964.9 1435.2 L968.9 1435.2 L972.9 1435.2 L976.9 1435.2 L980.9 1435.1 L984.9 1435.1 L988.9 1435.1 L992.9 1435.1 L996.9 1435.1 L1000.9 1435.1 L1004.9 1435.1 L1008.9 1435.1 L1012.9 1435.1 L1016.9 1435.1 L1020.9 1435.0 L1024.9 1435.0 L1028.9 1435.0 L1032.9 1435.0 L1036.9 1435.0 L1040.9 1435.0 L1044.9 1434.9 L1048.9 1434.9 L1052.9 1434.9 L1056.9 1434.9 L1060.9 1434.9 L1064.9 1434.9 L1068.9 1434.8 L1072.9 1434.8 L1076.9 1434.8 L1080.9 1434.8 L1084.9 1434.7 L1088.9 1434.7 L1092.9 1434.7 L1096.9 1434.7 L1100.9 1434.6 L1104.9 1434.6 L1108.9 1434.6 L1112.9 1434.5 L1116.9 1434.5 L1120.9 1434.5 L1124.9 1434.4 L1128.9 1434.4 L1132.9 1434.4 L1136.9 1434.3 L1140.9 1434.3 L1144.9 1434.2 L1148.9 1434.2 L1152.9 1434.1 L1156.9 1434.1 L1160.9 1434.1 L1164.9 1434.0 L1168.9 1434.0 L1172.9 1433.9 L1176.9 1433.9 L1180.9 1433.8 L1184.9 1433.7 L1188.9 1433.7 L1192.9 1433.6 L1196.9 1433.6 L1200.9 1433.5 L1204.9 1433.5 L1208.9 1433.4 L1212.9 1433.3 L1216.9 1433.3 L1220.9 1433.2 L1224.9 1433.1 L1228.9 1433.1 L1232.9 1433.0 L1236.9 1432.9 L1240.9 1432.8 L1244.9 1432.8 L1248.9 1432.7 L1252.9 1432.6 L1256.9 1432.5 L1260.9 1432.5 L1264.9 1432.4 L1268.9 1432.3 L1272.9 1432.2 L1276.9 1432.1 L1280.9 1432.1 L1284.9 1432.0 L1288.9 1431.9 L1292.9 1431.8 L1296.9 1431.7 L1300.9 1431.6 L1304.9 1431.5 L1308.9 1431.5 L1312.9 1431.4 L1316.9 1431.3 L1320.9 1431.2 L1324.9 1431.1 L1328.9 1431.0 L1332.9 1430.9 L1336.9 1430.8 L1340.9 1430.7 L1344.9 1430.6 L1348.9 1430.5 L1352.9 1430.5 L1356.9 1430.4 L1360.9 1430.3 L1364.9 1430.2 L1368.9 1430.1 L1372.9 1430.0 L1376.9 1429.9 L1380.9 1429.8 L1384.9 1429.7 L1388.9 1429.7 L1392.9 1429.6 L1396.9 1429.5 L1400.9 1429.4 L1404.9 1429.3 L1408.9 1429.2 L1412.9 1429.2 L1416.9 1429.1 L1420.9 1429.0 L1424.9 1428.9 L1428.9 1428.9 L1432.9 1428.8 L1436.9 1428.7 L1440.9 1428.7 L1444.9 1428.6 L1448.9 1428.5 L1452.9 1428.5 L1456.9 1428.4 L1460.9 1428.4 L1464.9 1428.3 L1468.9 1428.3 L1472.9 1428.2 L1476.9 1428.2 L1480.9 1428.1 L1484.9 1428.1 L1488.9 1428.0 L1492.9 1428.0 L1496.9 1428.0 L1500.9 1427.9 L1504.9 1427.9 L1508.9 1427.9 L1512.9 1427.9 L1516.9 1427.8 L1520.9 1427.8 L1524.9 1427.8 L1528.9 1427.8 L1532.9 1427.8 L1536.9 1427.8 L1540.9 1427.8 L1544.9 1427.8 L1548.9 1427.8 L1552.9 1427.8 L1556.9 1427.8 L1560.9 1427.8 L1564.9 1427.9 L1568.9 1427.9 L1572.9 1427.9 L1576.9 1427.9 L1580.9 1428.0 L1584.9 1428.0 L1588.9 1428.0 L1592.9 1428.1 L1596.9 1428.1 L1600.9 1428.1 L1604.9 1428.2 L1608.9 1428.2 L1612.9 1428.3 L1616.9 1428.3 L1620.9 1428.4 L1624.9 1428.4 L1628.9 1428.5 L1632.9 1428.6 L1636.9 1428.6 L1640.9 1428.7 L1644.9 1428.8 L1648.9 1428.8 L1652.9 1428.9 L1656.9 1429.0 L1660.9 1429.1 L1664.9 1429.1 L1668.9 1429.2 L1672.9 1429.3 L1676.9 1429.4 L1680.9 1429.4 L1684.9 1429.5 L1688.9 1429.6 L1692.9 1429.7 L1696.9 1429.8 L1700.9 1429.9 L1704.9 1430.0 L1708.9 1430.0 L1712.9 1430.1 L1716.9 1430.2 L1720.9 1430.3 L1724.9 1430.4 L1728.9 1430.5 L1732.9 1430.6 L1736.9 1430.7 L1740.9 1430.8 L1744.9 1430.9 L1748.9 1431.0 L1752.9 1431.0 L1756.9 1431.1 L1760.9 1431.2 L1764.9 1431.3 L1768.9 1431.4 L1772.9 1431.5 L1776.9 1431.6 L1780.9 1431.7 L1784.9 1431.8 L1788.9 1431.8 L1792.9 1431.9 L1796.9 1432.0 L1800.9 1432.1 L1804.9 1432.2 L1808.9 1432.3 L1812.9 1432.3 L1816.9 1432.4 L1820.9 1432.5 L1824.9 1432.6 L1828.9 1432.7 L1832.9 1432.7 L1836.9 1432.8 L1840.9 1432.9 L1844.9 1433.0 L1848.9 1433.0 L1852.9 1433.1 L1856.9 1433.2 L1860.9 1433.2 L1864.9 1433.3 L1868.9 1433.4 L1872.9 1433.4 L1876.9 1433.5 L1880.9 1433.5 L1884.9 1433.6 L1888.9 1433.7 L1892.9 1433.7 L1896.9 1433.8 L1900.9 1433.8 L1904.9 1433.9 L1908.9 1433.9 L1912.9 1434.0 L1916.9 1434.0 L1920.9 1434.1 L1924.9 1434.1 L1928.9 1434.2 L1932.9 1434.2 L1936.9 1434.3 L1940.9 1434.3 L1944.9 1434.3 L1948.9 1434.4 L1952.9 1434.4 L1956.9 1434.4 L1960.9 1434.5 L1964.9 1434.5 L1968.9 1434.5 L1972.9 1434.6 L1976.9 1434.6 L1980.9 1434.6 L1984.9 1434.7 L1988.9 1434.7 L1992.9 1434.7 L1996.9 1434.7 L2000.9 1434.8 L2004.9 1434.8 L2008.9 1434.8 L2012.9 1434.8 L2016.9 1434.9 L2020.9 1434.9 L2024.9 1434.9 L2028.9 1434.9 L2032.9 1434.9 L2036.9 1435.0 L2040.9 1435.0 L2044.9 1435.0 L2048.9 1435.0 L2052.9 1435.0 L2056.9 1435.0 L2060.9 1435.0 L2064.9 1435.1 L2068.9 1435.1 L2072.9 1435.1 L2076.9 1435.1 L2080.9 1435.1 L2084.9 1435.1 L2088.9 1435.1 L2092.9 1435.1 L2096.9 1435.1 L2100.9 1435.2 L2104.9 1435.2 L2108.9 1435.2 L2112.9 1435.2 L2116.9 1435.2 L2120.9 1435.2 L2124.9 1435.2 L2128.9 1435.2 L2132.9 1435.2 L2136.9 1435.2 L2140.9 1435.2 L2144.9 1435.2 L2148.9 1435.2 L2152.9 1435.2 L2156.9 1435.2 L2160.9 1435.2 L2164.9 1435.2 L2168.9 1435.2 L2172.9 1435.2 L2176.9 1435.3 L2180.9 1435.3 L2184.9 1435.3 L2188.9 1435.3 L2192.9 1435.3 L2196.9 1435.3 L2200.9 1435.3 L2204.9 1435.3 L2208.9 1435.3 L2212.9 1435.3 L2216.9 1435.3 L2220.9 1435.3 L2224.9 1435.3 L2226.0 1435.3" fill="none" stroke="#0070e6" stroke-width="7.0" stroke-dasharray="21 29.1" stroke-dashoffset="2.5" stroke-linecap="round"/>
<path d="M209.1 1435.2 L213.1 1435.2 L217.1 1435.2 L221.1 1435.2 L225.1 1435.2 L229.1 1435.2 L233.1 1435.2 L237.1 1435.1 L241.1 1435.1 L245.1 1435.1 L249.1 1435.1 L253.1 1435.1 L257.1 1435.0 L261.1 1435.0 L265.1 1435.0 L269.1 1435.0 L273.1 1435.0 L277.1 1434.9 L281.1 1434.9 L285.1 1434.9 L289.1 1434.9 L293.1 1434.8 L297.1 1434.8 L301.1 1434.8 L305.1 1434.8 L309.1 1434.8 L313.1 1434.7 L317.1 1434.7 L321.1 1434.7 L325.1 1434.7 L329.1 1434.6 L333.1 1434.6 L337.1 1434.6 L341.1 1434.5 L345.1 1434.5 L349.1 1434.5 L353.1 1434.5 L357.1 1434.4 L361.1 1434.4 L365.1 1434.4 L369.1 1434.3 L373.1 1434.3 L377.1 1434.2 L381.1 1434.2 L385.1 1434.2 L389.1 1434.1 L393.1 1434.1 L397.1 1434.0 L401.1 1434.0 L405.1 1433.9 L409.1 1433.8 L413.1 1433.8 L417.1 1433.7 L421.1 1433.6 L425.1 1433.5 L429.1 1433.5 L433.1 1433.4 L437.1 1433.3 L441.1 1433.2 L445.1 1433.0 L449.1 1432.9 L453.1 1432.8 L457.1 1432.6 L461.1 1432.5 L465.1 1432.3 L469.1 1432.1 L473.1 1432.0 L477.1 1431.8 L481.1 1431.6 L485.1 1431.4 L489.1 1431.1 L493.1 1430.9 L497.1 1430.6 L501.1 1430.4 L505.1 1430.1 L509.1 1429.8 L513.1 1429.5 L517.1 1429.2 L521.1 1428.9 L525.1 1428.6 L529.1 1428.2 L533.1 1427.9 L537.1 1427.5 L541.1 1427.1 L545.1 1426.7 L549.1 1426.3 L553.1 1425.9 L557.1 1425.5 L561.1 1425.1 L565.1 1424.7 L569.1 1424.2 L573.1 1423.7 L577.1 1423.3 L581.1 1422.8 L585.1 1422.3 L589.1 1421.8 L593.1 1421.2 L597.1 1420.7 L601.1 1420.2 L605.1 1419.6 L609.1 1419.0 L613.1 1418.4 L617.1 1417.8 L621.1 1417.2 L625.1 1416.5 L629.1 1415.8 L633.1 1415.1 L637.1 1414.4 L641.1 1413.6 L645.1 1412.9 L649.1 1412.1 L653.1 1411.2 L657.1 1410.4 L661.1 1409.5 L665.1 1408.5 L669.1 1407.6 L673.1 1406.6 L677.1 1405.5 L681.1 1404.5 L685.1 1403.4 L689.1 1402.2 L693.1 1401.0 L697.1 1399.8 L701.1 1398.6 L705.1 1397.3 L709.1 1395.9 L713.1 1394.6 L717.1 1393.2 L721.1 1391.8 L725.1 1390.3 L729.1 1388.8 L733.1 1387.3 L737.1 1385.7 L741.1 1384.1 L745.1 1382.5 L749.1 1380.9 L753.1 1379.2 L757.1 1377.6 L761.1 1375.9 L765.1 1374.2 L769.1 1372.4 L773.1 1370.7 L777.1 1368.9 L781.1 1367.2 L785.1 1365.4 L789.1 1363.6 L793.1 1361.9 L797.1 1360.1 L801.1 1358.3 L805.1 1356.6 L809.1 1354.8 L813.1 1353.1 L817.1 1351.3 L821.1 1349.6 L825.1 1347.9 L829.1 1346.2 L833.1 1344.5 L837.1 1342.8 L841.1 1341.2 L845.1 1339.6 L849.1 1338.0 L853.1 1336.4 L857.1 1334.9 L861.1 1333.4 L865.1 1332.0 L869.1 1330.5 L873.1 1329.2 L877.1 1327.8 L881.1 1326.5 L885.1 1325.2 L889.1 1324.0 L893.1 1322.8 L897.1 1321.7 L901.1 1320.6 L905.1 1319.6 L909.1 1318.6 L913.1 1317.7 L917.1 1316.8 L921.1 1316.0 L925.1 1315.2 L929.1 1314.5 L933.1 1313.8 L937.1 1313.2 L941.1 1312.7 L945.1 1312.2 L949.1 1311.7 L953.1 1311.3 L957.1 1311.0 L961.1 1310.7 L965.1 1310.4 L969.1 1310.2 L973.1 1310.1 L977.1 1310.0 L981.1 1309.9 L985.1 1309.9 L989.1 1309.9 L993.1 1310.0 L997.1 1310.1 L1001.1 1310.3 L1005.1 1310.5 L1009.1 1310.7 L1013.1 1311.0 L1017.1 1311.3 L1021.1 1311.7 L1025.1 1312.1 L1029.1 1312.5 L1033.1 1313.0 L1037.1 1313.5 L1041.1 1314.0 L1045.1 1314.6 L1049.1 1315.2 L1053.1 1315.8 L1057.1 1316.5 L1061.1 1317.1 L1065.1 1317.8 L1069.1 1318.6 L1073.1 1319.3 L1077.1 1320.1 L1081.1 1320.9 L1085.1 1321.7 L1089.1 1322.5 L1093.1 1323.3 L1097.1 1324.2 L1101.1 1325.1 L1105.1 1325.9 L1109.1 1326.8 L1113.1 1327.7 L1117.1 1328.6 L1121.1 1329.6 L1125.1 1330.5 L1129.1 1331.4 L1133.1 1332.4 L1137.1 1333.3 L1141.1 1334.2 L1145.1 1335.2 L1149.1 1336.1 L1153.1 1337.1 L1157.1 1338.0 L1161.1 1339.0 L1165.1 1339.9 L1169.1 1340.9 L1173.1 1341.8 L1177.1 1342.8 L1181.1 1343.7 L1185.1 1344.6 L1189.1 1345.6 L1193.1 1346.5 L1197.1 1347.4 L1201.1 1348.3 L1205.1 1349.2 L1209.1 1350.1 L1213.1 1351.0 L1217.1 1351.9 L1221.1 1352.8 L1225.1 1353.7 L1229.1 1354.6 L1233.1 1355.5 L1237.1 1356.4 L1241.1 1357.3 L1245.1 1358.2 L1249.1 1359.2 L1253.1 1360.1 L1257.1 1361.0 L1261.1 1361.9 L1265.1 1362.8 L1269.1 1363.8 L1273.1 1364.7 L1277.1 1365.6 L1281.1 1366.5 L1285.1 1367.5 L1289.1 1368.4 L1293.1 1369.3 L1297.1 1370.3 L1301.1 1371.2 L1305.1 1372.1 L1309.1 1373.0 L1313.1 1373.9 L1317.1 1374.8 L1321.1 1375.7 L1325.1 1376.6 L1329.1 1377.5 L1333.1 1378.4 L1337.1 1379.3 L1341.1 1380.2 L1345.1 1381.0 L1349.1 1381.9 L1353.1 1382.8 L1357.1 1383.6 L1361.1 1384.5 L1365.1 1385.3 L1369.1 1386.1 L1373.1 1387.0 L1377.1 1387.8 L1381.1 1388.6 L1385.1 1389.4 L1389.1 1390.2 L1393.1 1391.0 L1397.1 1391.8 L1401.1 1392.6 L1405.1 1393.3 L1409.1 1394.1 L1413.1 1394.8 L1417.1 1395.6 L1421.1 1396.3 L1425.1 1397.0 L1429.1 1397.7 L1433.1 1398.4 L1437.1 1399.1 L1441.1 1399.8 L1445.1 1400.5 L1449.1 1401.2 L1453.1 1401.8 L1457.1 1402.5 L1461.1 1403.1 L1465.1 1403.7 L1469.1 1404.4 L1473.1 1405.0 L1477.1 1405.6 L1481.1 1406.2 L1485.1 1406.8 L1489.1 1407.4 L1493.1 1408.0 L1497.1 1408.6 L1501.1 1409.1 L1505.1 1409.7 L1509.1 1410.2 L1513.1 1410.8 L1517.1 1411.3 L1521.1 1411.9 L1525.1 1412.4 L1529.1 1413.0 L1533.1 1413.5 L1537.1 1414.0 L1541.1 1414.5 L1545.1 1415.0 L1549.1 1415.5 L1553.1 1416.0 L1557.1 1416.5 L1561.1 1417.0 L1565.1 1417.5 L1569.1 1417.9 L1573.1 1418.4 L1577.1 1418.9 L1581.1 1419.3 L1585.1 1419.8 L1589.1 1420.2 L1593.1 1420.6 L1597.1 1421.1 L1601.1 1421.5 L1605.1 1421.9 L1609.1 1422.3 L1613.1 1422.7 L1617.1 1423.1 L1621.1 1423.5 L1625.1 1423.8 L1629.1 1424.2 L1633.1 1424.6 L1637.1 1424.9 L1641.1 1425.2 L1645.1 1425.6 L1649.1 1425.9 L1653.1 1426.2 L1657.1 1426.5 L1661.1 1426.8 L1665.1 1427.1 L1669.1 1427.4 L1673.1 1427.6 L1677.1 1427.9 L1681.1 1428.1 L1685.1 1428.4 L1689.1 1428.6 L1693.1 1428.8 L1697.1 1429.1 L1701.1 1429.3 L1705.1 1429.5 L1709.1 1429.7 L1713.1 1429.8 L1717.1 1430.0 L1721.1 1430.2 L1725.1 1430.4 L1729.1 1430.5 L1733.1 1430.7 L1737.1 1430.8 L1741.1 1431.0 L1745.1 1431.1 L1749.1 1431.2 L1753.1 1431.4 L1757.1 1431.5 L1761.1 1431.6 L1765.1 1431.7 L1769.1 1431.8 L1773.1 1431.9 L1777.1 1432.0 L1781.1 1432.1 L1785.1 1432.2 L1789.1 1432.3 L1793.1 1432.4 L1797.1 1432.5 L1801.1 1432.6 L1805.1 1432.7 L1809.1 1432.8 L1813.1 1432.9 L1817.1 1433.0 L1821.1 1433.1 L1825.1 1433.1 L1829.1 1433.2 L1833.1 1433.3 L1837.1 1433.4 L1841.1 1433.5 L1845.1 1433.5 L1849.1 1433.6 L1853.1 1433.7 L1857.1 1433.7 L1861.1 1433.8 L1865.1 1433.9 L1869.1 1433.9 L1873.1 1434.0 L1877.1 1434.0 L1881.1 1434.1 L1885.1 1434.2 L1889.1 1434.2 L1893.1 1434.3 L1897.1 1434.3 L1901.1 1434.3 L1905.1 1434.4 L1909.1 1434.4 L1913.1 1434.5 L1917.1 1434.5 L1921.1 1434.5 L1925.1 1434.6 L1929.1 1434.6 L1933.1 1434.7 L1937.1 1434.7 L1941.1 1434.7 L1945.1 1434.8 L1949.1 1434.8 L1953.1 1434.8 L1957.1 1434.8 L1961.1 1434.9 L1965.1 1434.9 L1969.1 1434.9 L1973.1 1435.0 L1977.1 1435.0 L1981.1 1435.0 L1985.1 1435.0 L1989.1 1435.0 L1993.1 1435.1 L1997.1 1435.1 L2001.1 1435.1 L2005.1 1435.1 L2009.1 1435.1 L2013.1 1435.2 L2017.1 1435.2 L2021.1 1435.2 L2025.1 1435.2 L2029.1 1435.2 L2033.1 1435.2 L2037.1 1435.2 L2041.1 1435.3 L2045.1 1435.3 L2049.1 1435.3 L2053.1 1435.3 L2057.1 1435.3 L2061.1 1435.3 L2065.1 1435.3 L2069.1 1435.3 L2073.1 1435.3 L2077.1 1435.3 L2081.1 1435.3 L2085.1 1435.3 L2089.1 1435.3 L2093.1 1435.3 L2097.1 1435.3 L2101.1 1435.3 L2105.1 1435.3 L2109.1 1435.3 L2113.1 1435.3 L2117.1 1435.3 L2121.1 1435.3 L2125.1 1435.3 L2129.1 1435.3 L2133.1 1435.3 L2137.1 1435.3 L2141.1 1435.3 L2145.1 1435.3 L2149.1 1435.3 L2153.1 1435.3 L2157.1 1435.3 L2161.1 1435.3 L2165.1 1435.3 L2169.1 1435.3 L2173.1 1435.3 L2177.1 1435.3 L2181.1 1435.3 L2185.1 1435.3 L2189.1 1435.3 L2193.1 1435.3 L2197.1 1435.3 L2201.1 1435.3 L2205.1 1435.3 L2209.1 1435.3 L2213.1 1435.3 L2217.1 1435.3 L2221.1 1435.3 L2225.1 1435.3 L2227.3 1435.3" fill="none" stroke="#000000" stroke-width="7.2" stroke-linejoin="round" stroke-linecap="round"/>
<g font-family="'Liberation Serif', 'Times New Roman', serif" fill="#000" style="font-kerning:none">
<text transform="translate(184.0 1594.3) scale(0.830 1)" font-size="74.6" text-anchor="middle" font-weight="normal">50</text>
<text transform="translate(439.8 1594.3) scale(0.830 1)" font-size="74.6" text-anchor="middle" font-weight="normal">100</text>
<text transform="translate(695.5 1594.3) scale(0.830 1)" font-size="74.6" text-anchor="middle" font-weight="normal">150</text>
<text transform="translate(951.2 1594.3) scale(0.830 1)" font-size="74.6" text-anchor="middle" font-weight="normal">200</text>
<text transform="translate(1207.0 1594.3) scale(0.830 1)" font-size="74.6" text-anchor="middle" font-weight="normal">250</text>
<text transform="translate(1462.8 1594.3) scale(0.830 1)" font-size="74.6" text-anchor="middle" font-weight="normal">300</text>
<text transform="translate(1718.5 1594.3) scale(0.830 1)" font-size="74.6" text-anchor="middle" font-weight="normal">350</text>
<text transform="translate(1974.2 1594.3) scale(0.830 1)" font-size="74.6" text-anchor="middle" font-weight="normal">400</text>
<text transform="translate(2230.0 1594.3) scale(0.830 1)" font-size="74.6" text-anchor="middle" font-weight="normal">450</text>
<text transform="translate(211.1 281.9) scale(0.850 1)" font-size="64.5" text-anchor="start" font-weight="bold">Eu/NaSep</text>
<text transform="translate(211.0 527.9) scale(0.850 1)" font-size="64.5" text-anchor="start" font-weight="bold">Dy/NaSep</text>
<text transform="translate(209.0 836.8) scale(0.850 1)" font-size="64.5" text-anchor="start" font-weight="bold">La/NaSep</text>
<text transform="translate(206.9 1083.2) scale(0.850 1)" font-size="64.5" text-anchor="start" font-weight="bold">Tm/NaSep</text>
<text transform="translate(208.2 1328.9) scale(0.850 1)" font-size="64.5" text-anchor="start" font-weight="bold">NaSep</text>
<text transform="translate(898.7 136.3) scale(0.848 1)" font-size="58.4" text-anchor="start" font-weight="normal">200</text>
<text transform="translate(1296.8 206.0) scale(0.848 1)" font-size="58.4" text-anchor="start" font-weight="normal">260</text>
<text transform="translate(1541.1 278.3) scale(0.848 1)" font-size="58.4" text-anchor="start" font-weight="normal">310</text>
<text transform="translate(848.8 474.2) scale(0.848 1)" font-size="58.4" text-anchor="start" font-weight="normal">195</text>
<text transform="translate(1163.5 487.3) scale(0.848 1)" font-size="58.4" text-anchor="start" font-weight="normal">242</text>
<text transform="translate(1601.1 588.8) scale(0.848 1)" font-size="58.4" text-anchor="start" font-weight="normal">329</text>
<text transform="translate(782.1 741.5) scale(0.848 1)" font-size="58.4" text-anchor="start" font-weight="normal">185</text>
<text transform="translate(1189.1 794.1) scale(0.848 1)" font-size="58.4" text-anchor="start" font-weight="normal">250</text>
<text transform="translate(1553.8 860.8) scale(0.848 1)" font-size="58.4" text-anchor="start" font-weight="normal">310</text>
<text transform="translate(806.2 996.6) scale(0.848 1)" font-size="58.4" text-anchor="start" font-weight="normal">188</text>
<text transform="translate(1235.4 1048.8) scale(0.848 1)" font-size="58.4" text-anchor="start" font-weight="normal">252</text>
<text transform="translate(1500.7 1107.0) scale(0.848 1)" font-size="58.4" text-anchor="start" font-weight="normal">308</text>
<text transform="translate(876.1 1279.8) scale(0.848 1)" font-size="58.4" text-anchor="start" font-weight="normal">198</text>
<text transform="translate(1261.8 1342.5) scale(0.848 1)" font-size="58.4" text-anchor="start" font-weight="normal">255</text>
<text transform="translate(1578.4 1376.4) scale(0.848 1)" font-size="58.4" text-anchor="start" font-weight="normal">312</text>
<text transform="translate(962.7 1786.6) scale(0.832 1)" font-size="88">Temperature <tspan x="474.7" font-size="83">(</tspan><tspan x="505.5" dy="-31.2" font-size="54">o</tspan><tspan x="534.2" dy="31.2" font-size="83">C</tspan><tspan x="586.3" font-size="83">)</tspan></text>
<text transform="translate(84.2 1165.0) rotate(-90) scale(0.900 1)" font-size="88.0" x="-0.2 74.1">NH</text>
<text transform="translate(104.7 1033.0) rotate(-90) scale(0.727 1)" font-size="63.0" x="0.0">3</text>
<text transform="translate(84.2 980.0) rotate(-90) scale(0.900 1)" font-size="88.0" x="1.3 49.8 95.6 131.5 181.6 214.5 263.9 292.4 318.0 367.1 404.6 442.1 476.4 518.5 544.7 593.1 616.5">desorption (a.u.)</text>
</g>
</svg>
</body></html>
